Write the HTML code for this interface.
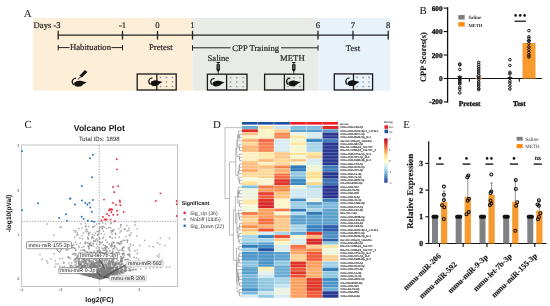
<!DOCTYPE html><html><head><meta charset="utf-8"><style>html,body{margin:0;padding:0;background:#fff;overflow:hidden}svg{display:block;will-change:transform;text-rendering:geometricPrecision}</style></head><body><svg width="550" height="306" viewBox="0 0 550 306"><rect width="550" height="306" fill="#fff"/><rect x="33.3" y="18" width="159.2" height="72.7" fill="#fdeed8" /><rect x="192.5" y="18" width="126.1" height="72.7" fill="#e9ece6" /><rect x="318.6" y="18" width="71.4" height="72.7" fill="#e7f2f9" /><text x="23.8" y="17.4" font-size="10.8" text-anchor="start" font-weight="normal" font-family="Liberation Serif" fill="#111" >A</text><line x1="58.2" y1="35.2" x2="388.4" y2="35.2" stroke="#222" stroke-width="1.3" /><line x1="58.2" y1="30.8" x2="58.2" y2="39.6" stroke="#222" stroke-width="1.3" /><line x1="122.5" y1="30.8" x2="122.5" y2="39.6" stroke="#222" stroke-width="1.3" /><line x1="157.5" y1="30.8" x2="157.5" y2="39.6" stroke="#222" stroke-width="1.3" /><line x1="192.5" y1="30.8" x2="192.5" y2="39.6" stroke="#222" stroke-width="1.3" /><line x1="318" y1="30.8" x2="318" y2="39.6" stroke="#222" stroke-width="1.3" /><line x1="353" y1="30.8" x2="353" y2="39.6" stroke="#222" stroke-width="1.3" /><line x1="388.2" y1="30.8" x2="388.2" y2="39.6" stroke="#222" stroke-width="1.3" /><text x="60.6" y="27.6" font-size="8.6" text-anchor="end" font-weight="normal" font-family="Liberation Serif" fill="#2a2a2a" stroke="#2a2a2a" stroke-width="0.22" >Days -3</text><text x="122.5" y="27.7" font-size="8.6" text-anchor="middle" font-weight="normal" font-family="Liberation Serif" fill="#2a2a2a" stroke="#2a2a2a" stroke-width="0.22" >-1</text><text x="157.5" y="27.7" font-size="8.6" text-anchor="middle" font-weight="normal" font-family="Liberation Serif" fill="#2a2a2a" stroke="#2a2a2a" stroke-width="0.22" >0</text><text x="192.5" y="27.7" font-size="8.6" text-anchor="middle" font-weight="normal" font-family="Liberation Serif" fill="#2a2a2a" stroke="#2a2a2a" stroke-width="0.22" >1</text><text x="318" y="27.7" font-size="8.6" text-anchor="middle" font-weight="normal" font-family="Liberation Serif" fill="#2a2a2a" stroke="#2a2a2a" stroke-width="0.22" >6</text><text x="353" y="27.7" font-size="8.6" text-anchor="middle" font-weight="normal" font-family="Liberation Serif" fill="#2a2a2a" stroke="#2a2a2a" stroke-width="0.22" >7</text><text x="388.2" y="27.7" font-size="8.6" text-anchor="middle" font-weight="normal" font-family="Liberation Serif" fill="#2a2a2a" stroke="#2a2a2a" stroke-width="0.22" >8</text><line x1="58.2" y1="45" x2="58.2" y2="50.4" stroke="#222" stroke-width="1" /><line x1="58.2" y1="47.6" x2="69.5" y2="47.6" stroke="#222" stroke-width="1" /><line x1="111.5" y1="47.6" x2="122.5" y2="47.6" stroke="#222" stroke-width="1" /><line x1="122.5" y1="45" x2="122.5" y2="50.4" stroke="#222" stroke-width="1" /><text x="90.5" y="50.4" font-size="8.7" text-anchor="middle" font-weight="normal" font-family="Liberation Serif" fill="#2a2a2a" stroke="#2a2a2a" stroke-width="0.22" >Habituation</text><text x="160.8" y="50.4" font-size="8.7" text-anchor="middle" font-weight="normal" font-family="Liberation Serif" fill="#2a2a2a" stroke="#2a2a2a" stroke-width="0.22" >Pretest</text><line x1="192.5" y1="47.8" x2="230.5" y2="47.8" stroke="#222" stroke-width="1" /><line x1="281" y1="47.8" x2="318" y2="47.8" stroke="#222" stroke-width="1" /><line x1="192.5" y1="45.2" x2="192.5" y2="50.6" stroke="#222" stroke-width="1" /><line x1="318" y1="45.2" x2="318" y2="50.6" stroke="#222" stroke-width="1" /><text x="255.7" y="50.6" font-size="8.7" text-anchor="middle" font-weight="normal" font-family="Liberation Serif" fill="#2a2a2a" stroke="#2a2a2a" stroke-width="0.22" >CPP Training</text><text x="353" y="50.6" font-size="8.7" text-anchor="middle" font-weight="normal" font-family="Liberation Serif" fill="#2a2a2a" stroke="#2a2a2a" stroke-width="0.22" >Test</text><text x="218.3" y="61.3" font-size="8.7" text-anchor="middle" font-weight="normal" font-family="Liberation Serif" fill="#2a2a2a" stroke="#2a2a2a" stroke-width="0.22" >Saline</text><text x="292.4" y="61.3" font-size="8.7" text-anchor="middle" font-weight="normal" font-family="Liberation Serif" fill="#2a2a2a" stroke="#2a2a2a" stroke-width="0.22" >METH</text><rect x="137.2" y="74.0" width="39.0" height="16.0" fill="#fdeed8" stroke="#1a1a1a" stroke-width="1.3"/><line x1="156.8" y1="74.0" x2="156.8" y2="90.0" stroke="#1a1a1a" stroke-width="1.3" /><circle cx="160.5" cy="77.5" r="0.8" fill="#85859a"/><circle cx="160.5" cy="82.0" r="0.8" fill="#85859a"/><circle cx="160.5" cy="86.5" r="0.8" fill="#85859a"/><circle cx="166.5" cy="77.5" r="0.8" fill="#85859a"/><circle cx="166.5" cy="82.0" r="0.8" fill="#85859a"/><circle cx="166.5" cy="86.5" r="0.8" fill="#85859a"/><circle cx="172.5" cy="77.5" r="0.8" fill="#85859a"/><circle cx="172.5" cy="82.0" r="0.8" fill="#85859a"/><circle cx="172.5" cy="86.5" r="0.8" fill="#85859a"/><g transform="translate(148.6,77.8) scale(1.0)"><path d="M3.9,0.1 C1.6,0.3 0.1,2.0 0.2,3.6 C0.3,5.0 1.0,6.1 1.8,6.5" fill="none" stroke="#111" stroke-width="1.3"/><path d="M2.0,5.2 C2.4,2.7 6.6,2.1 9.4,2.9 L14.0,4.3 L10.8,5.9 C9.8,7.8 6.6,8.6 4.4,8.2 C2.8,7.9 1.8,6.7 2.0,5.2 Z" fill="#111"/></g><rect x="207.4" y="74.2" width="39.599999999999994" height="15.799999999999997" fill="#e9ece6" stroke="#1a1a1a" stroke-width="1.3"/><line x1="226.6" y1="74.2" x2="226.6" y2="90.0" stroke="#1a1a1a" stroke-width="1.3" /><circle cx="230.5" cy="77.7" r="0.8" fill="#85859a"/><circle cx="230.5" cy="82.1" r="0.8" fill="#85859a"/><circle cx="230.5" cy="86.5" r="0.8" fill="#85859a"/><circle cx="236.8" cy="77.7" r="0.8" fill="#85859a"/><circle cx="236.8" cy="82.1" r="0.8" fill="#85859a"/><circle cx="236.8" cy="86.5" r="0.8" fill="#85859a"/><circle cx="243.1" cy="77.7" r="0.8" fill="#85859a"/><circle cx="243.1" cy="82.1" r="0.8" fill="#85859a"/><circle cx="243.1" cy="86.5" r="0.8" fill="#85859a"/><g transform="translate(210.6,78.2) scale(1.0)"><path d="M3.9,0.1 C1.6,0.3 0.1,2.0 0.2,3.6 C0.3,5.0 1.0,6.1 1.8,6.5" fill="none" stroke="#111" stroke-width="1.3"/><path d="M2.0,5.2 C2.4,2.7 6.6,2.1 9.4,2.9 L14.0,4.3 L10.8,5.9 C9.8,7.8 6.6,8.6 4.4,8.2 C2.8,7.9 1.8,6.7 2.0,5.2 Z" fill="#111"/></g><rect x="216.5" y="62.0" width="3.4" height="1.0" fill="#111" /><line x1="218.2" y1="62.8" x2="218.2" y2="64.4" stroke="#111" stroke-width="1.0" /><path d="M216.5,64.2 h3.4 v5.6 l-1.7,2.4 l-1.7,-2.4 z" fill="#111"/><rect x="217.6" y="65.2" width="1.2" height="3.8" fill="#777" /><line x1="218.2" y1="71.8" x2="218.2" y2="74.2" stroke="#111" stroke-width="0.7" /><rect x="264.6" y="74.2" width="39.0" height="15.799999999999997" fill="#e9ece6" stroke="#1a1a1a" stroke-width="1.3"/><line x1="284.4" y1="74.2" x2="284.4" y2="90.0" stroke="#1a1a1a" stroke-width="1.3" /><circle cx="288.0" cy="77.7" r="0.8" fill="#85859a"/><circle cx="288.0" cy="82.1" r="0.8" fill="#85859a"/><circle cx="288.0" cy="86.5" r="0.8" fill="#85859a"/><circle cx="294.0" cy="77.7" r="0.8" fill="#85859a"/><circle cx="294.0" cy="82.1" r="0.8" fill="#85859a"/><circle cx="294.0" cy="86.5" r="0.8" fill="#85859a"/><circle cx="300.0" cy="77.7" r="0.8" fill="#85859a"/><circle cx="300.0" cy="82.1" r="0.8" fill="#85859a"/><circle cx="300.0" cy="86.5" r="0.8" fill="#85859a"/><g transform="translate(286.4,78.0) scale(1.0)"><path d="M3.9,0.1 C1.6,0.3 0.1,2.0 0.2,3.6 C0.3,5.0 1.0,6.1 1.8,6.5" fill="none" stroke="#111" stroke-width="1.3"/><path d="M2.0,5.2 C2.4,2.7 6.6,2.1 9.4,2.9 L14.0,4.3 L10.8,5.9 C9.8,7.8 6.6,8.6 4.4,8.2 C2.8,7.9 1.8,6.7 2.0,5.2 Z" fill="#111"/></g><rect x="292.1" y="62.0" width="3.4" height="1.0" fill="#111" /><line x1="293.8" y1="62.8" x2="293.8" y2="64.4" stroke="#111" stroke-width="1.0" /><path d="M292.1,64.2 h3.4 v5.6 l-1.7,2.4 l-1.7,-2.4 z" fill="#111"/><rect x="293.2" y="65.2" width="1.2" height="3.8" fill="#777" /><line x1="293.8" y1="71.8" x2="293.8" y2="74.2" stroke="#111" stroke-width="0.7" /><rect x="334.3" y="73.9" width="38.30000000000001" height="16.099999999999994" fill="#e7f2f9" stroke="#1a1a1a" stroke-width="1.3"/><line x1="353.5" y1="73.9" x2="353.5" y2="90.0" stroke="#1a1a1a" stroke-width="1.3" /><circle cx="357.1" cy="77.4" r="0.8" fill="#85859a"/><circle cx="357.1" cy="82.0" r="0.8" fill="#85859a"/><circle cx="357.1" cy="86.5" r="0.8" fill="#85859a"/><circle cx="363.1" cy="77.4" r="0.8" fill="#85859a"/><circle cx="363.1" cy="82.0" r="0.8" fill="#85859a"/><circle cx="363.1" cy="86.5" r="0.8" fill="#85859a"/><circle cx="369.0" cy="77.4" r="0.8" fill="#85859a"/><circle cx="369.0" cy="82.0" r="0.8" fill="#85859a"/><circle cx="369.0" cy="86.5" r="0.8" fill="#85859a"/><g transform="translate(345.6,77.8) scale(1.0)"><path d="M3.9,0.1 C1.6,0.3 0.1,2.0 0.2,3.6 C0.3,5.0 1.0,6.1 1.8,6.5" fill="none" stroke="#111" stroke-width="1.3"/><path d="M2.0,5.2 C2.4,2.7 6.6,2.1 9.4,2.9 L14.0,4.3 L10.8,5.9 C9.8,7.8 6.6,8.6 4.4,8.2 C2.8,7.9 1.8,6.7 2.0,5.2 Z" fill="#111"/></g><path d="M85.0,70.0 L87.4,72.0 L81.8,77.6 L79.4,75.8 Z" fill="#111"/><line x1="80.6" y1="76.8" x2="78.0" y2="79.6" stroke="#111" stroke-width="1.0" /><g transform="translate(72.0,78.0) scale(1.05)"><path d="M3.9,0.1 C1.6,0.3 0.1,2.0 0.2,3.6 C0.3,5.0 1.0,6.1 1.8,6.5" fill="none" stroke="#111" stroke-width="1.3"/><path d="M2.0,5.2 C2.4,2.7 6.6,2.1 9.4,2.9 L14.0,4.3 L10.8,5.9 C9.8,7.8 6.6,8.6 4.4,8.2 C2.8,7.9 1.8,6.7 2.0,5.2 Z" fill="#111"/></g><text x="419.5" y="13.6" font-size="10.8" text-anchor="start" font-weight="normal" font-family="Liberation Serif" fill="#111" >B</text><line x1="447.6" y1="7.2" x2="447.6" y2="102.7" stroke="#111" stroke-width="1.3" /><line x1="443.7" y1="8.090000000000003" x2="447.6" y2="8.090000000000003" stroke="#111" stroke-width="1.1" /><text x="442.6" y="10.590000000000003" font-size="7.3" text-anchor="end" font-weight="bold" font-family="Liberation Serif" fill="#111" stroke="#111" stroke-width="0.32" >600</text><line x1="443.7" y1="31.560000000000002" x2="447.6" y2="31.560000000000002" stroke="#111" stroke-width="1.1" /><text x="442.6" y="34.06" font-size="7.3" text-anchor="end" font-weight="bold" font-family="Liberation Serif" fill="#111" stroke="#111" stroke-width="0.32" >400</text><line x1="443.7" y1="55.03" x2="447.6" y2="55.03" stroke="#111" stroke-width="1.1" /><text x="442.6" y="57.53" font-size="7.3" text-anchor="end" font-weight="bold" font-family="Liberation Serif" fill="#111" stroke="#111" stroke-width="0.32" >200</text><line x1="443.7" y1="78.5" x2="447.6" y2="78.5" stroke="#111" stroke-width="1.1" /><text x="442.6" y="81.0" font-size="7.3" text-anchor="end" font-weight="bold" font-family="Liberation Serif" fill="#111" stroke="#111" stroke-width="0.32" >0</text><line x1="443.7" y1="101.97" x2="447.6" y2="101.97" stroke="#111" stroke-width="1.1" /><text x="442.6" y="104.47" font-size="7.3" text-anchor="end" font-weight="bold" font-family="Liberation Serif" fill="#111" stroke="#111" stroke-width="0.32" >-200</text><line x1="447.6" y1="78.5" x2="541.8" y2="78.5" stroke="#111" stroke-width="1.2" /><line x1="469.4" y1="78.5" x2="469.4" y2="81.8" stroke="#111" stroke-width="1.1" /><line x1="519.3" y1="78.5" x2="519.3" y2="81.8" stroke="#111" stroke-width="1.1" /><text x="469.6" y="105.5" font-size="7.3" text-anchor="middle" font-weight="bold" font-family="Liberation Serif" fill="#111" stroke="#111" stroke-width="0.32" >Pretest</text><text x="519.3" y="105.5" font-size="7.3" text-anchor="middle" font-weight="bold" font-family="Liberation Serif" fill="#111" stroke="#111" stroke-width="0.32" >Test</text><text transform="translate(426.3,57.1) rotate(-90)" font-size="8.35" text-anchor="middle" font-weight="bold" font-family="Liberation Serif" fill="#111" stroke="#111" stroke-width="0.1">CPP Scores(s)</text><rect x="458.3" y="15.1" width="6.4" height="4.4" fill="#7c7c7c" /><rect x="458.3" y="22.1" width="6.4" height="4.5" fill="#fd8c10" /><text x="468.4" y="19.2" font-size="4.9" text-anchor="start" font-weight="bold" font-family="Liberation Serif" fill="#333" >Saline</text><text x="468.4" y="26.5" font-size="4.6" text-anchor="start" font-weight="bold" font-family="Liberation Serif" fill="#333" >METH</text><circle cx="515.6" cy="15.4" r="1.3" fill="#111"/><circle cx="520.2" cy="15.4" r="1.3" fill="#111"/><circle cx="524.6" cy="15.4" r="1.3" fill="#111"/><line x1="514.5" y1="21.2" x2="525.9" y2="21.2" stroke="#111" stroke-width="1.25" /><rect x="522.5" y="43.0" width="13" height="35.5" fill="#f99a2f" /><rect x="475.5" y="77.9" width="6.5" height="1.0" fill="#e07820" /><line x1="457.40000000000003" y1="76.7" x2="462.2" y2="76.7" stroke="#111" stroke-width="0.8" /><line x1="459.8" y1="76.7" x2="459.8" y2="78.5" stroke="#111" stroke-width="0.8" /><line x1="476.3" y1="76.2" x2="481.09999999999997" y2="76.2" stroke="#111" stroke-width="0.8" /><line x1="478.7" y1="76.2" x2="478.7" y2="78.5" stroke="#111" stroke-width="0.8" /><line x1="507.5" y1="77.6" x2="512.3" y2="77.6" stroke="#111" stroke-width="0.8" /><line x1="509.9" y1="77.6" x2="509.9" y2="78.5" stroke="#111" stroke-width="0.8" /><circle cx="459.8" cy="64.0" r="1.28" fill="none" stroke="#111" stroke-width="1.0"/><circle cx="459.8" cy="64.9" r="1.28" fill="none" stroke="#111" stroke-width="1.0"/><circle cx="459.8" cy="69.4" r="1.28" fill="none" stroke="#111" stroke-width="1.0"/><circle cx="459.8" cy="77.2" r="1.28" fill="none" stroke="#111" stroke-width="1.0"/><circle cx="459.8" cy="78.6" r="1.28" fill="none" stroke="#111" stroke-width="1.0"/><circle cx="459.8" cy="80.0" r="1.28" fill="none" stroke="#111" stroke-width="1.0"/><circle cx="459.8" cy="81.4" r="1.28" fill="none" stroke="#111" stroke-width="1.0"/><circle cx="459.8" cy="82.8" r="1.28" fill="none" stroke="#111" stroke-width="1.0"/><circle cx="459.8" cy="84.0" r="1.28" fill="none" stroke="#111" stroke-width="1.0"/><circle cx="459.8" cy="87.4" r="1.28" fill="none" stroke="#111" stroke-width="1.0"/><circle cx="459.8" cy="89.3" r="1.28" fill="none" stroke="#111" stroke-width="1.0"/><circle cx="459.8" cy="92.9" r="1.28" fill="none" stroke="#111" stroke-width="1.0"/><circle cx="478.7" cy="62.4" r="1.28" fill="none" stroke="#111" stroke-width="1.0"/><circle cx="478.7" cy="64.5" r="1.28" fill="none" stroke="#111" stroke-width="1.0"/><circle cx="478.7" cy="66.8" r="1.28" fill="none" stroke="#111" stroke-width="1.0"/><circle cx="478.7" cy="68.9" r="1.28" fill="none" stroke="#111" stroke-width="1.0"/><circle cx="478.7" cy="71.0" r="1.28" fill="none" stroke="#111" stroke-width="1.0"/><circle cx="478.7" cy="73.0" r="1.28" fill="none" stroke="#111" stroke-width="1.0"/><circle cx="478.7" cy="75.4" r="1.28" fill="none" stroke="#111" stroke-width="1.0"/><circle cx="478.7" cy="77.9" r="1.28" fill="none" stroke="#111" stroke-width="1.0"/><circle cx="478.7" cy="79.5" r="1.28" fill="none" stroke="#111" stroke-width="1.0"/><circle cx="478.7" cy="82.0" r="1.28" fill="none" stroke="#111" stroke-width="1.0"/><circle cx="478.7" cy="84.1" r="1.28" fill="none" stroke="#111" stroke-width="1.0"/><circle cx="478.7" cy="86.0" r="1.28" fill="none" stroke="#111" stroke-width="1.0"/><circle cx="478.7" cy="88.5" r="1.28" fill="none" stroke="#111" stroke-width="1.0"/><circle cx="478.7" cy="89.6" r="1.28" fill="none" stroke="#111" stroke-width="1.0"/><circle cx="509.9" cy="59.7" r="1.28" fill="none" stroke="#111" stroke-width="1.0"/><circle cx="509.9" cy="65.5" r="1.28" fill="none" stroke="#111" stroke-width="1.0"/><circle cx="509.9" cy="72.3" r="1.28" fill="none" stroke="#111" stroke-width="1.0"/><circle cx="509.9" cy="73.9" r="1.28" fill="none" stroke="#111" stroke-width="1.0"/><circle cx="509.9" cy="78.0" r="1.28" fill="none" stroke="#111" stroke-width="1.0"/><circle cx="509.9" cy="80.8" r="1.28" fill="none" stroke="#111" stroke-width="1.0"/><circle cx="509.9" cy="83.1" r="1.28" fill="none" stroke="#111" stroke-width="1.0"/><circle cx="509.9" cy="86.1" r="1.28" fill="none" stroke="#111" stroke-width="1.0"/><circle cx="509.9" cy="89.0" r="1.28" fill="none" stroke="#111" stroke-width="1.0"/><line x1="526.6" y1="40.6" x2="531.2" y2="40.6" stroke="#111" stroke-width="0.8" /><line x1="528.9" y1="40.6" x2="528.9" y2="43" stroke="#111" stroke-width="0.8" /><circle cx="528.9" cy="30.6" r="1.28" fill="none" stroke="#111" stroke-width="1.0"/><circle cx="528.9" cy="36.8" r="1.28" fill="none" stroke="#111" stroke-width="1.0"/><circle cx="528.9" cy="38.6" r="1.28" fill="none" stroke="#111" stroke-width="1.0"/><circle cx="528.9" cy="41.0" r="1.28" fill="none" stroke="#111" stroke-width="1.0"/><circle cx="528.9" cy="43.5" r="1.28" fill="none" stroke="#111" stroke-width="1.0"/><circle cx="528.9" cy="47.0" r="1.28" fill="none" stroke="#111" stroke-width="1.0"/><circle cx="528.9" cy="49.6" r="1.28" fill="none" stroke="#111" stroke-width="1.0"/><circle cx="528.9" cy="52.4" r="1.28" fill="none" stroke="#111" stroke-width="1.0"/><circle cx="528.9" cy="55.0" r="1.28" fill="none" stroke="#111" stroke-width="1.0"/><circle cx="528.9" cy="57.0" r="1.28" fill="none" stroke="#111" stroke-width="1.0"/><text x="24.5" y="127.9" font-size="10.8" text-anchor="start" font-weight="normal" font-family="Liberation Serif" fill="#111" >C</text><text x="99.3" y="131.2" font-size="8.5" text-anchor="middle" font-weight="bold" font-family="Liberation Sans" fill="#111" >Volcano Plot</text><text x="99.4" y="140.9" font-size="6.1" text-anchor="middle" font-weight="normal" font-family="Liberation Sans" fill="#222" >Total IDs: 1898</text><rect x="21.4" y="145.0" width="156.1" height="141.5" fill="#fff" stroke="#c4c4c4" stroke-width="1"/><text x="18.2" y="280.4" font-size="3.8" text-anchor="middle" font-weight="normal" font-family="Liberation Sans" fill="#444" >0</text><text x="18.2" y="236.0" font-size="3.8" text-anchor="middle" font-weight="normal" font-family="Liberation Sans" fill="#444" >1</text><text x="18.2" y="191.6" font-size="3.8" text-anchor="middle" font-weight="normal" font-family="Liberation Sans" fill="#444" >2</text><text x="18.2" y="147.20000000000002" font-size="3.8" text-anchor="middle" font-weight="normal" font-family="Liberation Sans" fill="#444" >3</text><text x="21.599999999999994" y="291.3" font-size="3.8" text-anchor="middle" font-weight="normal" font-family="Liberation Sans" fill="#444" >-4</text><text x="60.8" y="291.3" font-size="3.8" text-anchor="middle" font-weight="normal" font-family="Liberation Sans" fill="#444" >-2</text><text x="100.0" y="291.3" font-size="3.8" text-anchor="middle" font-weight="normal" font-family="Liberation Sans" fill="#444" >0</text><text x="139.2" y="291.3" font-size="3.8" text-anchor="middle" font-weight="normal" font-family="Liberation Sans" fill="#444" >2</text><text x="99.5" y="301.8" font-size="7.0" text-anchor="middle" font-weight="bold" font-family="Liberation Sans" fill="#111" >log2(FC)</text><text transform="translate(11.2,213.5) rotate(-90)" font-size="6.6" text-anchor="middle" font-weight="bold" font-family="Liberation Sans" fill="#111">-log10(pVal)</text><g fill="#7a7a7a" fill-opacity="0.62"><rect x="82.5" y="268.6" width="1.5" height="1.5"/><rect x="104.4" y="275.6" width="1.5" height="1.5"/><rect x="108.6" y="261.0" width="1.5" height="1.5"/><rect x="79.6" y="242.4" width="1.5" height="1.5"/><rect x="103.8" y="261.5" width="1.5" height="1.5"/><rect x="108.7" y="271.6" width="1.5" height="1.5"/><rect x="79.8" y="263.4" width="1.5" height="1.5"/><rect x="96.9" y="240.2" width="1.5" height="1.5"/><rect x="110.8" y="273.3" width="1.5" height="1.5"/><rect x="102.1" y="265.8" width="1.5" height="1.5"/><rect x="108.4" y="243.3" width="1.5" height="1.5"/><rect x="79.4" y="251.6" width="1.5" height="1.5"/><rect x="136.6" y="252.5" width="1.5" height="1.5"/><rect x="103.1" y="276.0" width="1.5" height="1.5"/><rect x="102.1" y="276.2" width="1.5" height="1.5"/><rect x="128.2" y="265.1" width="1.5" height="1.5"/><rect x="94.7" y="274.7" width="1.5" height="1.5"/><rect x="135.5" y="263.1" width="1.5" height="1.5"/><rect x="95.3" y="275.7" width="1.5" height="1.5"/><rect x="94.3" y="274.4" width="1.5" height="1.5"/><rect x="104.6" y="275.0" width="1.5" height="1.5"/><rect x="101.9" y="273.8" width="1.5" height="1.5"/><rect x="81.4" y="272.0" width="1.5" height="1.5"/><rect x="101.1" y="267.4" width="1.5" height="1.5"/><rect x="107.6" y="274.6" width="1.5" height="1.5"/><rect x="120.2" y="264.3" width="1.5" height="1.5"/><rect x="102.3" y="275.8" width="1.5" height="1.5"/><rect x="101.6" y="266.9" width="1.5" height="1.5"/><rect x="97.0" y="277.2" width="1.5" height="1.5"/><rect x="107.5" y="262.4" width="1.5" height="1.5"/><rect x="93.5" y="276.7" width="1.5" height="1.5"/><rect x="129.3" y="270.1" width="1.5" height="1.5"/><rect x="125.5" y="267.0" width="1.5" height="1.5"/><rect x="119.2" y="265.1" width="1.5" height="1.5"/><rect x="159.1" y="243.6" width="1.5" height="1.5"/><rect x="78.6" y="260.8" width="1.5" height="1.5"/><rect x="87.4" y="274.7" width="1.5" height="1.5"/><rect x="96.8" y="270.1" width="1.5" height="1.5"/><rect x="69.9" y="266.2" width="1.5" height="1.5"/><rect x="121.8" y="257.4" width="1.5" height="1.5"/><rect x="83.0" y="265.7" width="1.5" height="1.5"/><rect x="80.6" y="264.3" width="1.5" height="1.5"/><rect x="115.4" y="262.8" width="1.5" height="1.5"/><rect x="99.3" y="237.9" width="1.5" height="1.5"/><rect x="95.9" y="275.7" width="1.5" height="1.5"/><rect x="99.6" y="250.3" width="1.5" height="1.5"/><rect x="95.2" y="261.9" width="1.5" height="1.5"/><rect x="90.9" y="260.1" width="1.5" height="1.5"/><rect x="94.6" y="266.3" width="1.5" height="1.5"/><rect x="91.4" y="272.8" width="1.5" height="1.5"/><rect x="96.2" y="266.1" width="1.5" height="1.5"/><rect x="106.0" y="255.7" width="1.5" height="1.5"/><rect x="106.6" y="274.7" width="1.5" height="1.5"/><rect x="112.4" y="269.5" width="1.5" height="1.5"/><rect x="59.2" y="226.7" width="1.5" height="1.5"/><rect x="120.1" y="269.6" width="1.5" height="1.5"/><rect x="119.1" y="273.1" width="1.5" height="1.5"/><rect x="86.8" y="236.7" width="1.5" height="1.5"/><rect x="88.4" y="262.9" width="1.5" height="1.5"/><rect x="89.1" y="243.2" width="1.5" height="1.5"/><rect x="97.3" y="275.2" width="1.5" height="1.5"/><rect x="90.8" y="269.2" width="1.5" height="1.5"/><rect x="80.2" y="272.7" width="1.5" height="1.5"/><rect x="114.3" y="273.3" width="1.5" height="1.5"/><rect x="78.0" y="265.0" width="1.5" height="1.5"/><rect x="77.9" y="245.4" width="1.5" height="1.5"/><rect x="93.9" y="265.4" width="1.5" height="1.5"/><rect x="91.7" y="274.7" width="1.5" height="1.5"/><rect x="136.7" y="249.5" width="1.5" height="1.5"/><rect x="94.6" y="264.3" width="1.5" height="1.5"/><rect x="112.1" y="263.3" width="1.5" height="1.5"/><rect x="102.9" y="267.0" width="1.5" height="1.5"/><rect x="94.6" y="266.9" width="1.5" height="1.5"/><rect x="109.1" y="262.0" width="1.5" height="1.5"/><rect x="112.6" y="269.4" width="1.5" height="1.5"/><rect x="107.6" y="273.7" width="1.5" height="1.5"/><rect x="104.2" y="272.1" width="1.5" height="1.5"/><rect x="88.2" y="261.1" width="1.5" height="1.5"/><rect x="94.9" y="264.7" width="1.5" height="1.5"/><rect x="81.6" y="267.0" width="1.5" height="1.5"/><rect x="96.5" y="277.4" width="1.5" height="1.5"/><rect x="85.4" y="268.0" width="1.5" height="1.5"/><rect x="97.9" y="277.5" width="1.5" height="1.5"/><rect x="69.8" y="267.5" width="1.5" height="1.5"/><rect x="53.1" y="234.6" width="1.5" height="1.5"/><rect x="109.5" y="274.1" width="1.5" height="1.5"/><rect x="105.7" y="276.5" width="1.5" height="1.5"/><rect x="96.0" y="270.1" width="1.5" height="1.5"/><rect x="129.4" y="256.2" width="1.5" height="1.5"/><rect x="88.9" y="269.9" width="1.5" height="1.5"/><rect x="98.6" y="274.9" width="1.5" height="1.5"/><rect x="104.2" y="270.2" width="1.5" height="1.5"/><rect x="107.1" y="269.5" width="1.5" height="1.5"/><rect x="101.7" y="263.2" width="1.5" height="1.5"/><rect x="121.7" y="247.7" width="1.5" height="1.5"/><rect x="98.7" y="276.5" width="1.5" height="1.5"/><rect x="98.9" y="275.0" width="1.5" height="1.5"/><rect x="65.1" y="269.5" width="1.5" height="1.5"/><rect x="111.2" y="256.2" width="1.5" height="1.5"/><rect x="111.4" y="269.7" width="1.5" height="1.5"/><rect x="119.8" y="241.5" width="1.5" height="1.5"/><rect x="103.3" y="276.2" width="1.5" height="1.5"/><rect x="129.8" y="260.2" width="1.5" height="1.5"/><rect x="113.8" y="271.3" width="1.5" height="1.5"/><rect x="94.7" y="273.4" width="1.5" height="1.5"/><rect x="120.5" y="271.1" width="1.5" height="1.5"/><rect x="101.0" y="274.6" width="1.5" height="1.5"/><rect x="127.6" y="247.1" width="1.5" height="1.5"/><rect x="91.6" y="272.6" width="1.5" height="1.5"/><rect x="73.1" y="229.6" width="1.5" height="1.5"/><rect x="97.7" y="268.8" width="1.5" height="1.5"/><rect x="129.4" y="245.6" width="1.5" height="1.5"/><rect x="91.3" y="272.5" width="1.5" height="1.5"/><rect x="82.4" y="274.0" width="1.5" height="1.5"/><rect x="112.2" y="267.1" width="1.5" height="1.5"/><rect x="118.4" y="263.6" width="1.5" height="1.5"/><rect x="92.3" y="273.1" width="1.5" height="1.5"/><rect x="79.1" y="237.3" width="1.5" height="1.5"/><rect x="98.5" y="277.8" width="1.5" height="1.5"/><rect x="88.7" y="274.8" width="1.5" height="1.5"/><rect x="113.6" y="246.3" width="1.5" height="1.5"/><rect x="89.6" y="268.2" width="1.5" height="1.5"/><rect x="115.7" y="273.8" width="1.5" height="1.5"/><rect x="107.8" y="271.5" width="1.5" height="1.5"/><rect x="100.3" y="260.7" width="1.5" height="1.5"/><rect x="81.0" y="270.7" width="1.5" height="1.5"/><rect x="96.2" y="275.4" width="1.5" height="1.5"/><rect x="98.6" y="277.8" width="1.5" height="1.5"/><rect x="101.5" y="274.7" width="1.5" height="1.5"/><rect x="93.9" y="225.3" width="1.5" height="1.5"/><rect x="85.1" y="272.4" width="1.5" height="1.5"/><rect x="106.0" y="267.7" width="1.5" height="1.5"/><rect x="124.3" y="270.8" width="1.5" height="1.5"/><rect x="90.8" y="244.4" width="1.5" height="1.5"/><rect x="98.0" y="274.3" width="1.5" height="1.5"/><rect x="86.8" y="269.1" width="1.5" height="1.5"/><rect x="92.2" y="267.2" width="1.5" height="1.5"/><rect x="121.1" y="263.3" width="1.5" height="1.5"/><rect x="118.3" y="263.0" width="1.5" height="1.5"/><rect x="83.0" y="272.4" width="1.5" height="1.5"/><rect x="88.7" y="256.7" width="1.5" height="1.5"/><rect x="104.0" y="273.4" width="1.5" height="1.5"/><rect x="89.0" y="275.0" width="1.5" height="1.5"/><rect x="97.9" y="271.9" width="1.5" height="1.5"/><rect x="89.9" y="265.8" width="1.5" height="1.5"/><rect x="135.7" y="257.2" width="1.5" height="1.5"/><rect x="116.3" y="269.1" width="1.5" height="1.5"/><rect x="104.1" y="247.0" width="1.5" height="1.5"/><rect x="87.0" y="264.3" width="1.5" height="1.5"/><rect x="117.9" y="242.7" width="1.5" height="1.5"/><rect x="108.1" y="273.5" width="1.5" height="1.5"/><rect x="107.7" y="275.5" width="1.5" height="1.5"/><rect x="103.6" y="269.4" width="1.5" height="1.5"/><rect x="111.5" y="233.4" width="1.5" height="1.5"/><rect x="71.4" y="245.1" width="1.5" height="1.5"/><rect x="86.3" y="272.1" width="1.5" height="1.5"/><rect x="73.4" y="268.8" width="1.5" height="1.5"/><rect x="118.2" y="269.4" width="1.5" height="1.5"/><rect x="92.4" y="265.4" width="1.5" height="1.5"/><rect x="105.1" y="271.2" width="1.5" height="1.5"/><rect x="100.8" y="277.7" width="1.5" height="1.5"/><rect x="71.0" y="262.2" width="1.5" height="1.5"/><rect x="58.9" y="258.0" width="1.5" height="1.5"/><rect x="102.7" y="236.5" width="1.5" height="1.5"/><rect x="113.3" y="272.4" width="1.5" height="1.5"/><rect x="117.1" y="267.2" width="1.5" height="1.5"/><rect x="89.4" y="267.4" width="1.5" height="1.5"/><rect x="106.9" y="267.2" width="1.5" height="1.5"/><rect x="111.4" y="266.5" width="1.5" height="1.5"/><rect x="92.1" y="263.8" width="1.5" height="1.5"/><rect x="118.2" y="262.2" width="1.5" height="1.5"/><rect x="94.1" y="273.3" width="1.5" height="1.5"/><rect x="96.9" y="276.5" width="1.5" height="1.5"/><rect x="57.2" y="263.2" width="1.5" height="1.5"/><rect x="107.8" y="268.5" width="1.5" height="1.5"/><rect x="101.4" y="272.3" width="1.5" height="1.5"/><rect x="112.8" y="272.9" width="1.5" height="1.5"/><rect x="104.8" y="270.8" width="1.5" height="1.5"/><rect x="103.7" y="267.9" width="1.5" height="1.5"/><rect x="109.5" y="262.8" width="1.5" height="1.5"/><rect x="97.4" y="275.2" width="1.5" height="1.5"/><rect x="127.9" y="264.0" width="1.5" height="1.5"/><rect x="130.9" y="264.8" width="1.5" height="1.5"/><rect x="109.5" y="273.3" width="1.5" height="1.5"/><rect x="82.4" y="268.4" width="1.5" height="1.5"/><rect x="105.5" y="275.5" width="1.5" height="1.5"/><rect x="78.5" y="270.2" width="1.5" height="1.5"/><rect x="79.8" y="270.6" width="1.5" height="1.5"/><rect x="113.2" y="228.8" width="1.5" height="1.5"/><rect x="93.8" y="276.2" width="1.5" height="1.5"/><rect x="120.9" y="243.0" width="1.5" height="1.5"/><rect x="106.5" y="272.6" width="1.5" height="1.5"/><rect x="107.9" y="270.4" width="1.5" height="1.5"/><rect x="90.9" y="263.3" width="1.5" height="1.5"/><rect x="97.2" y="273.9" width="1.5" height="1.5"/><rect x="84.7" y="222.8" width="1.5" height="1.5"/><rect x="80.5" y="252.9" width="1.5" height="1.5"/><rect x="129.1" y="254.2" width="1.5" height="1.5"/><rect x="98.0" y="275.9" width="1.5" height="1.5"/><rect x="88.1" y="271.6" width="1.5" height="1.5"/><rect x="96.4" y="276.1" width="1.5" height="1.5"/><rect x="83.4" y="263.3" width="1.5" height="1.5"/><rect x="128.3" y="270.0" width="1.5" height="1.5"/><rect x="116.4" y="272.2" width="1.5" height="1.5"/><rect x="100.7" y="257.6" width="1.5" height="1.5"/><rect x="107.2" y="275.7" width="1.5" height="1.5"/><rect x="84.5" y="262.4" width="1.5" height="1.5"/><rect x="106.5" y="273.6" width="1.5" height="1.5"/><rect x="113.1" y="241.8" width="1.5" height="1.5"/><rect x="91.8" y="235.8" width="1.5" height="1.5"/><rect x="75.7" y="257.0" width="1.5" height="1.5"/><rect x="110.6" y="274.1" width="1.5" height="1.5"/><rect x="113.4" y="269.0" width="1.5" height="1.5"/><rect x="89.3" y="243.2" width="1.5" height="1.5"/><rect x="93.6" y="257.2" width="1.5" height="1.5"/><rect x="73.8" y="271.0" width="1.5" height="1.5"/><rect x="80.4" y="249.5" width="1.5" height="1.5"/><rect x="89.4" y="274.8" width="1.5" height="1.5"/><rect x="118.8" y="265.8" width="1.5" height="1.5"/><rect x="121.6" y="249.3" width="1.5" height="1.5"/><rect x="65.3" y="249.3" width="1.5" height="1.5"/><rect x="107.4" y="263.4" width="1.5" height="1.5"/><rect x="120.1" y="223.9" width="1.5" height="1.5"/><rect x="135.8" y="264.6" width="1.5" height="1.5"/><rect x="83.0" y="254.5" width="1.5" height="1.5"/><rect x="91.8" y="270.4" width="1.5" height="1.5"/><rect x="100.8" y="276.0" width="1.5" height="1.5"/><rect x="133.4" y="256.6" width="1.5" height="1.5"/><rect x="117.2" y="269.0" width="1.5" height="1.5"/><rect x="94.6" y="267.7" width="1.5" height="1.5"/><rect x="55.1" y="241.0" width="1.5" height="1.5"/><rect x="103.2" y="271.9" width="1.5" height="1.5"/><rect x="82.7" y="253.7" width="1.5" height="1.5"/><rect x="90.2" y="266.3" width="1.5" height="1.5"/><rect x="70.1" y="267.0" width="1.5" height="1.5"/><rect x="105.7" y="271.8" width="1.5" height="1.5"/><rect x="87.9" y="273.3" width="1.5" height="1.5"/><rect x="136.1" y="235.2" width="1.5" height="1.5"/><rect x="80.3" y="268.6" width="1.5" height="1.5"/><rect x="126.4" y="230.0" width="1.5" height="1.5"/><rect x="111.4" y="275.2" width="1.5" height="1.5"/><rect x="123.5" y="246.3" width="1.5" height="1.5"/><rect x="134.2" y="250.0" width="1.5" height="1.5"/><rect x="105.0" y="258.4" width="1.5" height="1.5"/><rect x="90.1" y="257.0" width="1.5" height="1.5"/><rect x="100.8" y="266.8" width="1.5" height="1.5"/><rect x="90.9" y="237.2" width="1.5" height="1.5"/><rect x="100.7" y="276.6" width="1.5" height="1.5"/><rect x="105.4" y="274.1" width="1.5" height="1.5"/><rect x="101.3" y="270.1" width="1.5" height="1.5"/><rect x="88.5" y="274.9" width="1.5" height="1.5"/><rect x="68.8" y="256.8" width="1.5" height="1.5"/><rect x="103.5" y="267.0" width="1.5" height="1.5"/><rect x="108.4" y="260.0" width="1.5" height="1.5"/><rect x="100.8" y="271.2" width="1.5" height="1.5"/><rect x="110.8" y="274.6" width="1.5" height="1.5"/><rect x="83.6" y="274.0" width="1.5" height="1.5"/><rect x="105.4" y="274.7" width="1.5" height="1.5"/><rect x="108.8" y="273.8" width="1.5" height="1.5"/><rect x="105.1" y="275.4" width="1.5" height="1.5"/><rect x="102.8" y="268.5" width="1.5" height="1.5"/><rect x="99.0" y="274.1" width="1.5" height="1.5"/><rect x="80.7" y="263.9" width="1.5" height="1.5"/><rect x="92.4" y="271.6" width="1.5" height="1.5"/><rect x="92.6" y="275.3" width="1.5" height="1.5"/><rect x="84.0" y="266.5" width="1.5" height="1.5"/><rect x="77.3" y="257.6" width="1.5" height="1.5"/><rect x="107.9" y="274.3" width="1.5" height="1.5"/><rect x="95.6" y="269.3" width="1.5" height="1.5"/><rect x="99.3" y="277.1" width="1.5" height="1.5"/><rect x="115.2" y="269.3" width="1.5" height="1.5"/><rect x="101.0" y="277.3" width="1.5" height="1.5"/><rect x="83.7" y="272.0" width="1.5" height="1.5"/><rect x="92.0" y="276.1" width="1.5" height="1.5"/><rect x="85.2" y="228.8" width="1.5" height="1.5"/><rect x="104.2" y="269.2" width="1.5" height="1.5"/><rect x="108.5" y="275.5" width="1.5" height="1.5"/><rect x="92.9" y="276.4" width="1.5" height="1.5"/><rect x="106.5" y="246.3" width="1.5" height="1.5"/><rect x="111.8" y="272.9" width="1.5" height="1.5"/><rect x="112.2" y="261.3" width="1.5" height="1.5"/><rect x="122.5" y="269.9" width="1.5" height="1.5"/><rect x="98.7" y="276.5" width="1.5" height="1.5"/><rect x="111.1" y="244.0" width="1.5" height="1.5"/><rect x="66.6" y="269.4" width="1.5" height="1.5"/><rect x="110.6" y="259.9" width="1.5" height="1.5"/><rect x="110.8" y="260.9" width="1.5" height="1.5"/><rect x="89.2" y="273.9" width="1.5" height="1.5"/><rect x="106.3" y="274.9" width="1.5" height="1.5"/><rect x="115.1" y="271.1" width="1.5" height="1.5"/><rect x="119.9" y="270.9" width="1.5" height="1.5"/><rect x="84.5" y="255.2" width="1.5" height="1.5"/><rect x="98.2" y="270.5" width="1.5" height="1.5"/><rect x="112.9" y="273.5" width="1.5" height="1.5"/><rect x="121.1" y="249.4" width="1.5" height="1.5"/><rect x="95.0" y="274.6" width="1.5" height="1.5"/><rect x="103.0" y="276.9" width="1.5" height="1.5"/><rect x="104.0" y="249.8" width="1.5" height="1.5"/><rect x="115.0" y="263.8" width="1.5" height="1.5"/><rect x="59.1" y="265.3" width="1.5" height="1.5"/><rect x="96.0" y="264.7" width="1.5" height="1.5"/><rect x="85.6" y="271.4" width="1.5" height="1.5"/><rect x="102.2" y="272.3" width="1.5" height="1.5"/><rect x="100.0" y="276.0" width="1.5" height="1.5"/><rect x="107.6" y="268.2" width="1.5" height="1.5"/><rect x="94.6" y="275.3" width="1.5" height="1.5"/><rect x="111.5" y="274.7" width="1.5" height="1.5"/><rect x="107.0" y="271.4" width="1.5" height="1.5"/><rect x="106.8" y="275.1" width="1.5" height="1.5"/><rect x="110.9" y="274.6" width="1.5" height="1.5"/><rect x="92.3" y="268.1" width="1.5" height="1.5"/><rect x="102.9" y="277.2" width="1.5" height="1.5"/><rect x="96.0" y="277.1" width="1.5" height="1.5"/><rect x="103.0" y="273.3" width="1.5" height="1.5"/><rect x="99.2" y="265.4" width="1.5" height="1.5"/><rect x="102.2" y="270.6" width="1.5" height="1.5"/><rect x="80.6" y="269.5" width="1.5" height="1.5"/><rect x="102.9" y="267.9" width="1.5" height="1.5"/><rect x="89.0" y="273.2" width="1.5" height="1.5"/><rect x="89.5" y="272.2" width="1.5" height="1.5"/><rect x="106.5" y="273.9" width="1.5" height="1.5"/><rect x="101.0" y="276.8" width="1.5" height="1.5"/><rect x="102.0" y="277.5" width="1.5" height="1.5"/><rect x="119.8" y="270.6" width="1.5" height="1.5"/><rect x="89.1" y="269.5" width="1.5" height="1.5"/><rect x="85.2" y="271.4" width="1.5" height="1.5"/><rect x="108.2" y="267.3" width="1.5" height="1.5"/><rect x="91.5" y="263.9" width="1.5" height="1.5"/><rect x="87.7" y="271.8" width="1.5" height="1.5"/><rect x="88.2" y="269.6" width="1.5" height="1.5"/><rect x="99.3" y="274.1" width="1.5" height="1.5"/><rect x="102.5" y="244.1" width="1.5" height="1.5"/><rect x="101.4" y="265.3" width="1.5" height="1.5"/><rect x="98.5" y="268.6" width="1.5" height="1.5"/><rect x="115.6" y="271.7" width="1.5" height="1.5"/><rect x="93.5" y="264.3" width="1.5" height="1.5"/><rect x="110.2" y="271.3" width="1.5" height="1.5"/><rect x="80.7" y="272.4" width="1.5" height="1.5"/><rect x="81.2" y="271.4" width="1.5" height="1.5"/><rect x="117.4" y="242.1" width="1.5" height="1.5"/><rect x="100.8" y="274.6" width="1.5" height="1.5"/><rect x="73.8" y="271.4" width="1.5" height="1.5"/><rect x="121.0" y="260.2" width="1.5" height="1.5"/><rect x="96.2" y="272.5" width="1.5" height="1.5"/><rect x="102.0" y="275.2" width="1.5" height="1.5"/><rect x="105.2" y="270.2" width="1.5" height="1.5"/><rect x="89.7" y="272.2" width="1.5" height="1.5"/><rect x="110.8" y="242.5" width="1.5" height="1.5"/><rect x="96.8" y="272.5" width="1.5" height="1.5"/><rect x="101.7" y="275.7" width="1.5" height="1.5"/><rect x="101.0" y="225.9" width="1.5" height="1.5"/><rect x="97.2" y="273.7" width="1.5" height="1.5"/><rect x="104.4" y="263.5" width="1.5" height="1.5"/><rect x="77.9" y="272.4" width="1.5" height="1.5"/><rect x="112.0" y="267.3" width="1.5" height="1.5"/><rect x="124.7" y="265.9" width="1.5" height="1.5"/><rect x="103.3" y="259.6" width="1.5" height="1.5"/><rect x="105.3" y="267.2" width="1.5" height="1.5"/><rect x="99.0" y="240.9" width="1.5" height="1.5"/><rect x="108.2" y="272.3" width="1.5" height="1.5"/><rect x="76.6" y="258.4" width="1.5" height="1.5"/><rect x="126.3" y="258.6" width="1.5" height="1.5"/><rect x="119.2" y="273.1" width="1.5" height="1.5"/><rect x="101.2" y="271.2" width="1.5" height="1.5"/><rect x="112.7" y="266.6" width="1.5" height="1.5"/><rect x="93.8" y="276.2" width="1.5" height="1.5"/><rect x="128.5" y="268.4" width="1.5" height="1.5"/><rect x="79.4" y="272.3" width="1.5" height="1.5"/><rect x="82.3" y="249.4" width="1.5" height="1.5"/><rect x="99.0" y="260.5" width="1.5" height="1.5"/><rect x="108.1" y="275.2" width="1.5" height="1.5"/><rect x="91.0" y="252.4" width="1.5" height="1.5"/><rect x="81.3" y="270.9" width="1.5" height="1.5"/><rect x="111.0" y="272.3" width="1.5" height="1.5"/><rect x="164.0" y="244.8" width="1.5" height="1.5"/><rect x="93.4" y="261.9" width="1.5" height="1.5"/><rect x="91.8" y="271.4" width="1.5" height="1.5"/><rect x="119.0" y="267.8" width="1.5" height="1.5"/><rect x="116.4" y="269.7" width="1.5" height="1.5"/><rect x="84.8" y="274.4" width="1.5" height="1.5"/><rect x="88.7" y="268.7" width="1.5" height="1.5"/><rect x="106.4" y="241.7" width="1.5" height="1.5"/><rect x="96.0" y="269.0" width="1.5" height="1.5"/><rect x="101.9" y="260.3" width="1.5" height="1.5"/><rect x="125.4" y="264.3" width="1.5" height="1.5"/><rect x="124.7" y="268.9" width="1.5" height="1.5"/><rect x="110.2" y="269.6" width="1.5" height="1.5"/><rect x="102.9" y="276.8" width="1.5" height="1.5"/><rect x="109.7" y="270.5" width="1.5" height="1.5"/><rect x="107.6" y="270.4" width="1.5" height="1.5"/><rect x="73.6" y="270.2" width="1.5" height="1.5"/><rect x="102.3" y="264.9" width="1.5" height="1.5"/><rect x="110.6" y="260.7" width="1.5" height="1.5"/><rect x="111.6" y="274.6" width="1.5" height="1.5"/><rect x="104.4" y="268.3" width="1.5" height="1.5"/><rect x="91.5" y="236.7" width="1.5" height="1.5"/><rect x="109.4" y="268.8" width="1.5" height="1.5"/><rect x="102.3" y="273.5" width="1.5" height="1.5"/><rect x="134.4" y="264.2" width="1.5" height="1.5"/><rect x="92.4" y="268.3" width="1.5" height="1.5"/><rect x="91.7" y="275.2" width="1.5" height="1.5"/><rect x="108.3" y="263.3" width="1.5" height="1.5"/><rect x="83.5" y="270.7" width="1.5" height="1.5"/><rect x="103.6" y="271.5" width="1.5" height="1.5"/><rect x="107.1" y="268.2" width="1.5" height="1.5"/><rect x="91.2" y="272.7" width="1.5" height="1.5"/><rect x="81.5" y="269.0" width="1.5" height="1.5"/><rect x="67.5" y="256.8" width="1.5" height="1.5"/><rect x="111.6" y="270.9" width="1.5" height="1.5"/><rect x="107.5" y="273.2" width="1.5" height="1.5"/><rect x="92.9" y="270.5" width="1.5" height="1.5"/><rect x="133.4" y="264.4" width="1.5" height="1.5"/><rect x="95.8" y="262.8" width="1.5" height="1.5"/><rect x="78.5" y="268.9" width="1.5" height="1.5"/><rect x="87.8" y="266.7" width="1.5" height="1.5"/><rect x="136.2" y="262.9" width="1.5" height="1.5"/><rect x="92.3" y="268.1" width="1.5" height="1.5"/><rect x="113.2" y="266.0" width="1.5" height="1.5"/><rect x="105.5" y="275.1" width="1.5" height="1.5"/><rect x="107.8" y="275.5" width="1.5" height="1.5"/><rect x="110.0" y="268.1" width="1.5" height="1.5"/><rect x="129.7" y="243.4" width="1.5" height="1.5"/><rect x="102.5" y="248.2" width="1.5" height="1.5"/><rect x="91.7" y="265.3" width="1.5" height="1.5"/><rect x="98.9" y="241.6" width="1.5" height="1.5"/><rect x="127.0" y="253.7" width="1.5" height="1.5"/><rect x="105.6" y="227.6" width="1.5" height="1.5"/><rect x="119.7" y="268.2" width="1.5" height="1.5"/><rect x="129.3" y="234.0" width="1.5" height="1.5"/><rect x="107.2" y="266.8" width="1.5" height="1.5"/><rect x="110.1" y="222.8" width="1.5" height="1.5"/><rect x="93.4" y="251.9" width="1.5" height="1.5"/><rect x="120.6" y="266.5" width="1.5" height="1.5"/><rect x="93.3" y="256.8" width="1.5" height="1.5"/><rect x="69.6" y="266.9" width="1.5" height="1.5"/><rect x="99.1" y="275.5" width="1.5" height="1.5"/><rect x="101.5" y="228.2" width="1.5" height="1.5"/><rect x="114.8" y="270.0" width="1.5" height="1.5"/><rect x="82.7" y="268.4" width="1.5" height="1.5"/><rect x="63.1" y="262.4" width="1.5" height="1.5"/><rect x="119.0" y="243.3" width="1.5" height="1.5"/><rect x="88.5" y="268.4" width="1.5" height="1.5"/><rect x="91.6" y="271.5" width="1.5" height="1.5"/><rect x="90.2" y="273.9" width="1.5" height="1.5"/><rect x="103.3" y="273.9" width="1.5" height="1.5"/><rect x="85.4" y="274.1" width="1.5" height="1.5"/><rect x="105.2" y="265.1" width="1.5" height="1.5"/><rect x="88.6" y="275.1" width="1.5" height="1.5"/><rect x="117.6" y="250.1" width="1.5" height="1.5"/><rect x="88.1" y="232.3" width="1.5" height="1.5"/><rect x="111.6" y="230.4" width="1.5" height="1.5"/><rect x="77.9" y="267.3" width="1.5" height="1.5"/><rect x="123.8" y="228.3" width="1.5" height="1.5"/><rect x="69.3" y="269.4" width="1.5" height="1.5"/><rect x="116.1" y="272.0" width="1.5" height="1.5"/><rect x="94.2" y="264.8" width="1.5" height="1.5"/><rect x="77.1" y="267.3" width="1.5" height="1.5"/><rect x="84.8" y="264.9" width="1.5" height="1.5"/><rect x="71.3" y="270.1" width="1.5" height="1.5"/><rect x="108.4" y="272.8" width="1.5" height="1.5"/><rect x="115.0" y="266.7" width="1.5" height="1.5"/><rect x="85.5" y="271.2" width="1.5" height="1.5"/><rect x="110.8" y="244.6" width="1.5" height="1.5"/><rect x="96.0" y="269.1" width="1.5" height="1.5"/><rect x="89.8" y="275.4" width="1.5" height="1.5"/><rect x="83.6" y="266.1" width="1.5" height="1.5"/><rect x="114.4" y="254.2" width="1.5" height="1.5"/><rect x="89.3" y="275.0" width="1.5" height="1.5"/><rect x="100.1" y="277.8" width="1.5" height="1.5"/><rect x="83.4" y="272.9" width="1.5" height="1.5"/><rect x="101.7" y="254.5" width="1.5" height="1.5"/><rect x="89.8" y="268.9" width="1.5" height="1.5"/><rect x="100.9" y="262.2" width="1.5" height="1.5"/><rect x="81.2" y="246.7" width="1.5" height="1.5"/><rect x="92.4" y="274.4" width="1.5" height="1.5"/><rect x="78.8" y="269.9" width="1.5" height="1.5"/><rect x="77.5" y="269.6" width="1.5" height="1.5"/><rect x="100.3" y="265.7" width="1.5" height="1.5"/><rect x="116.4" y="267.1" width="1.5" height="1.5"/><rect x="78.4" y="262.9" width="1.5" height="1.5"/><rect x="78.2" y="246.8" width="1.5" height="1.5"/><rect x="101.6" y="274.8" width="1.5" height="1.5"/><rect x="89.5" y="270.5" width="1.5" height="1.5"/><rect x="93.5" y="276.0" width="1.5" height="1.5"/><rect x="107.4" y="275.7" width="1.5" height="1.5"/><rect x="120.4" y="230.2" width="1.5" height="1.5"/><rect x="95.0" y="239.1" width="1.5" height="1.5"/><rect x="120.0" y="258.6" width="1.5" height="1.5"/><rect x="82.0" y="267.3" width="1.5" height="1.5"/><rect x="97.8" y="276.6" width="1.5" height="1.5"/><rect x="115.0" y="268.6" width="1.5" height="1.5"/><rect x="93.2" y="274.3" width="1.5" height="1.5"/><rect x="89.6" y="253.5" width="1.5" height="1.5"/><rect x="77.0" y="234.4" width="1.5" height="1.5"/><rect x="100.4" y="272.3" width="1.5" height="1.5"/><rect x="109.7" y="226.8" width="1.5" height="1.5"/><rect x="97.6" y="267.1" width="1.5" height="1.5"/><rect x="96.5" y="259.9" width="1.5" height="1.5"/><rect x="109.5" y="271.7" width="1.5" height="1.5"/><rect x="63.3" y="269.1" width="1.5" height="1.5"/><rect x="97.8" y="275.4" width="1.5" height="1.5"/><rect x="117.4" y="271.3" width="1.5" height="1.5"/><rect x="102.8" y="273.2" width="1.5" height="1.5"/><rect x="106.2" y="274.6" width="1.5" height="1.5"/><rect x="98.2" y="265.5" width="1.5" height="1.5"/><rect x="115.9" y="271.0" width="1.5" height="1.5"/><rect x="74.6" y="231.2" width="1.5" height="1.5"/><rect x="99.6" y="251.4" width="1.5" height="1.5"/><rect x="108.9" y="257.8" width="1.5" height="1.5"/><rect x="93.6" y="266.5" width="1.5" height="1.5"/><rect x="104.1" y="273.9" width="1.5" height="1.5"/><rect x="84.1" y="242.1" width="1.5" height="1.5"/><rect x="95.6" y="276.3" width="1.5" height="1.5"/><rect x="102.7" y="256.8" width="1.5" height="1.5"/><rect x="152.4" y="246.0" width="1.5" height="1.5"/><rect x="101.9" y="264.2" width="1.5" height="1.5"/><rect x="106.2" y="272.3" width="1.5" height="1.5"/><rect x="107.2" y="275.7" width="1.5" height="1.5"/><rect x="106.8" y="276.0" width="1.5" height="1.5"/><rect x="102.1" y="272.7" width="1.5" height="1.5"/><rect x="105.7" y="271.5" width="1.5" height="1.5"/><rect x="108.8" y="273.1" width="1.5" height="1.5"/><rect x="113.7" y="271.3" width="1.5" height="1.5"/><rect x="91.8" y="265.2" width="1.5" height="1.5"/><rect x="81.2" y="268.1" width="1.5" height="1.5"/><rect x="100.6" y="260.6" width="1.5" height="1.5"/><rect x="85.4" y="273.2" width="1.5" height="1.5"/><rect x="99.9" y="268.6" width="1.5" height="1.5"/><rect x="101.9" y="273.7" width="1.5" height="1.5"/><rect x="101.5" y="275.8" width="1.5" height="1.5"/><rect x="88.7" y="272.7" width="1.5" height="1.5"/><rect x="110.6" y="268.7" width="1.5" height="1.5"/><rect x="84.5" y="254.0" width="1.5" height="1.5"/><rect x="95.4" y="264.9" width="1.5" height="1.5"/><rect x="107.8" y="273.6" width="1.5" height="1.5"/><rect x="113.2" y="272.6" width="1.5" height="1.5"/><rect x="117.5" y="272.8" width="1.5" height="1.5"/><rect x="127.1" y="262.5" width="1.5" height="1.5"/><rect x="113.8" y="274.6" width="1.5" height="1.5"/><rect x="91.5" y="270.2" width="1.5" height="1.5"/><rect x="93.5" y="272.3" width="1.5" height="1.5"/><rect x="100.6" y="275.9" width="1.5" height="1.5"/><rect x="120.5" y="256.1" width="1.5" height="1.5"/><rect x="111.7" y="256.5" width="1.5" height="1.5"/><rect x="83.6" y="268.6" width="1.5" height="1.5"/><rect x="107.1" y="263.1" width="1.5" height="1.5"/><rect x="94.3" y="265.1" width="1.5" height="1.5"/><rect x="106.8" y="258.6" width="1.5" height="1.5"/><rect x="105.6" y="265.5" width="1.5" height="1.5"/><rect x="78.6" y="269.7" width="1.5" height="1.5"/><rect x="101.8" y="275.0" width="1.5" height="1.5"/><rect x="97.8" y="263.3" width="1.5" height="1.5"/><rect x="96.2" y="276.7" width="1.5" height="1.5"/><rect x="95.3" y="274.9" width="1.5" height="1.5"/><rect x="91.3" y="269.3" width="1.5" height="1.5"/><rect x="77.5" y="272.3" width="1.5" height="1.5"/><rect x="102.1" y="272.3" width="1.5" height="1.5"/><rect x="75.3" y="265.5" width="1.5" height="1.5"/><rect x="97.5" y="268.1" width="1.5" height="1.5"/><rect x="101.6" y="268.4" width="1.5" height="1.5"/><rect x="87.4" y="273.7" width="1.5" height="1.5"/><rect x="98.1" y="260.9" width="1.5" height="1.5"/><rect x="126.4" y="239.4" width="1.5" height="1.5"/><rect x="85.9" y="262.8" width="1.5" height="1.5"/><rect x="96.2" y="277.3" width="1.5" height="1.5"/><rect x="115.7" y="268.6" width="1.5" height="1.5"/><rect x="99.3" y="276.7" width="1.5" height="1.5"/><rect x="123.6" y="264.6" width="1.5" height="1.5"/><rect x="103.4" y="273.7" width="1.5" height="1.5"/><rect x="100.7" y="277.1" width="1.5" height="1.5"/><rect x="114.7" y="262.2" width="1.5" height="1.5"/><rect x="78.8" y="270.4" width="1.5" height="1.5"/><rect x="74.1" y="264.3" width="1.5" height="1.5"/><rect x="99.7" y="273.4" width="1.5" height="1.5"/><rect x="94.6" y="268.5" width="1.5" height="1.5"/><rect x="101.4" y="274.0" width="1.5" height="1.5"/><rect x="105.8" y="259.8" width="1.5" height="1.5"/><rect x="96.7" y="276.8" width="1.5" height="1.5"/><rect x="120.2" y="260.1" width="1.5" height="1.5"/><rect x="87.0" y="274.8" width="1.5" height="1.5"/><rect x="105.6" y="246.6" width="1.5" height="1.5"/><rect x="92.9" y="263.5" width="1.5" height="1.5"/><rect x="100.5" y="275.7" width="1.5" height="1.5"/><rect x="107.8" y="261.5" width="1.5" height="1.5"/><rect x="107.2" y="272.6" width="1.5" height="1.5"/><rect x="98.1" y="274.4" width="1.5" height="1.5"/><rect x="123.5" y="266.1" width="1.5" height="1.5"/><rect x="89.2" y="264.6" width="1.5" height="1.5"/><rect x="89.3" y="259.9" width="1.5" height="1.5"/><rect x="78.4" y="258.5" width="1.5" height="1.5"/><rect x="119.8" y="260.4" width="1.5" height="1.5"/><rect x="93.8" y="269.4" width="1.5" height="1.5"/><rect x="66.1" y="267.0" width="1.5" height="1.5"/><rect x="87.9" y="245.5" width="1.5" height="1.5"/><rect x="100.3" y="276.5" width="1.5" height="1.5"/><rect x="88.7" y="273.9" width="1.5" height="1.5"/><rect x="116.1" y="258.1" width="1.5" height="1.5"/><rect x="105.9" y="267.9" width="1.5" height="1.5"/><rect x="98.9" y="271.0" width="1.5" height="1.5"/><rect x="81.2" y="234.8" width="1.5" height="1.5"/><rect x="101.6" y="259.1" width="1.5" height="1.5"/><rect x="87.3" y="269.4" width="1.5" height="1.5"/><rect x="108.8" y="267.7" width="1.5" height="1.5"/><rect x="115.9" y="269.3" width="1.5" height="1.5"/><rect x="87.3" y="238.0" width="1.5" height="1.5"/><rect x="89.8" y="272.7" width="1.5" height="1.5"/><rect x="109.6" y="266.8" width="1.5" height="1.5"/><rect x="104.5" y="274.8" width="1.5" height="1.5"/><rect x="96.3" y="270.8" width="1.5" height="1.5"/><rect x="98.5" y="265.9" width="1.5" height="1.5"/><rect x="116.4" y="273.2" width="1.5" height="1.5"/><rect x="86.2" y="228.9" width="1.5" height="1.5"/><rect x="105.3" y="268.5" width="1.5" height="1.5"/><rect x="91.9" y="274.7" width="1.5" height="1.5"/><rect x="93.5" y="271.1" width="1.5" height="1.5"/><rect x="112.9" y="272.8" width="1.5" height="1.5"/><rect x="93.5" y="274.0" width="1.5" height="1.5"/><rect x="93.9" y="265.1" width="1.5" height="1.5"/><rect x="95.5" y="269.4" width="1.5" height="1.5"/><rect x="91.7" y="261.7" width="1.5" height="1.5"/><rect x="92.7" y="276.3" width="1.5" height="1.5"/><rect x="81.7" y="260.9" width="1.5" height="1.5"/><rect x="137.7" y="258.5" width="1.5" height="1.5"/><rect x="120.3" y="270.0" width="1.5" height="1.5"/><rect x="102.0" y="275.1" width="1.5" height="1.5"/><rect x="95.0" y="274.3" width="1.5" height="1.5"/><rect x="91.0" y="251.6" width="1.5" height="1.5"/><rect x="116.8" y="267.5" width="1.5" height="1.5"/><rect x="86.5" y="263.8" width="1.5" height="1.5"/><rect x="87.9" y="271.3" width="1.5" height="1.5"/><rect x="81.5" y="268.2" width="1.5" height="1.5"/><rect x="93.2" y="250.3" width="1.5" height="1.5"/><rect x="123.2" y="268.9" width="1.5" height="1.5"/><rect x="104.1" y="265.0" width="1.5" height="1.5"/><rect x="91.1" y="272.6" width="1.5" height="1.5"/><rect x="78.1" y="227.8" width="1.5" height="1.5"/><rect x="102.0" y="255.4" width="1.5" height="1.5"/><rect x="94.6" y="274.7" width="1.5" height="1.5"/><rect x="109.1" y="236.3" width="1.5" height="1.5"/><rect x="39.2" y="253.9" width="1.5" height="1.5"/><rect x="86.8" y="268.2" width="1.5" height="1.5"/><rect x="70.5" y="268.4" width="1.5" height="1.5"/><rect x="105.9" y="273.8" width="1.5" height="1.5"/><rect x="97.5" y="271.3" width="1.5" height="1.5"/><rect x="101.1" y="258.5" width="1.5" height="1.5"/><rect x="85.3" y="260.9" width="1.5" height="1.5"/><rect x="102.0" y="254.4" width="1.5" height="1.5"/><rect x="115.3" y="246.9" width="1.5" height="1.5"/><rect x="112.6" y="260.6" width="1.5" height="1.5"/><rect x="86.7" y="274.8" width="1.5" height="1.5"/><rect x="85.0" y="260.3" width="1.5" height="1.5"/><rect x="97.3" y="256.7" width="1.5" height="1.5"/><rect x="90.7" y="257.9" width="1.5" height="1.5"/><rect x="107.3" y="273.8" width="1.5" height="1.5"/><rect x="102.8" y="252.4" width="1.5" height="1.5"/><rect x="87.5" y="242.4" width="1.5" height="1.5"/><rect x="121.7" y="272.4" width="1.5" height="1.5"/><rect x="117.0" y="265.8" width="1.5" height="1.5"/><rect x="106.1" y="266.4" width="1.5" height="1.5"/><rect x="113.9" y="272.8" width="1.5" height="1.5"/><rect x="125.1" y="269.6" width="1.5" height="1.5"/><rect x="109.9" y="264.7" width="1.5" height="1.5"/><rect x="90.9" y="261.5" width="1.5" height="1.5"/><rect x="80.5" y="273.1" width="1.5" height="1.5"/><rect x="62.8" y="267.7" width="1.5" height="1.5"/><rect x="101.7" y="271.3" width="1.5" height="1.5"/><rect x="105.5" y="271.4" width="1.5" height="1.5"/><rect x="109.7" y="271.9" width="1.5" height="1.5"/><rect x="92.0" y="226.1" width="1.5" height="1.5"/><rect x="87.6" y="253.3" width="1.5" height="1.5"/><rect x="92.1" y="267.8" width="1.5" height="1.5"/><rect x="41.5" y="258.5" width="1.5" height="1.5"/><rect x="99.3" y="263.3" width="1.5" height="1.5"/><rect x="75.2" y="253.1" width="1.5" height="1.5"/><rect x="128.4" y="249.1" width="1.5" height="1.5"/><rect x="124.2" y="239.6" width="1.5" height="1.5"/><rect x="73.7" y="253.1" width="1.5" height="1.5"/><rect x="85.8" y="273.6" width="1.5" height="1.5"/><rect x="92.5" y="276.1" width="1.5" height="1.5"/><rect x="96.4" y="275.1" width="1.5" height="1.5"/><rect x="104.6" y="247.8" width="1.5" height="1.5"/><rect x="113.2" y="265.0" width="1.5" height="1.5"/><rect x="90.2" y="262.7" width="1.5" height="1.5"/><rect x="111.5" y="237.5" width="1.5" height="1.5"/><rect x="95.0" y="272.9" width="1.5" height="1.5"/><rect x="89.5" y="255.3" width="1.5" height="1.5"/><rect x="93.5" y="267.7" width="1.5" height="1.5"/><rect x="111.8" y="273.8" width="1.5" height="1.5"/><rect x="96.9" y="245.6" width="1.5" height="1.5"/><rect x="108.3" y="267.7" width="1.5" height="1.5"/><rect x="105.3" y="272.5" width="1.5" height="1.5"/><rect x="101.4" y="272.8" width="1.5" height="1.5"/><rect x="94.6" y="276.9" width="1.5" height="1.5"/><rect x="104.5" y="271.9" width="1.5" height="1.5"/><rect x="103.5" y="265.9" width="1.5" height="1.5"/><rect x="114.1" y="256.4" width="1.5" height="1.5"/><rect x="113.3" y="258.3" width="1.5" height="1.5"/><rect x="110.4" y="267.7" width="1.5" height="1.5"/><rect x="78.0" y="264.2" width="1.5" height="1.5"/><rect x="100.8" y="277.5" width="1.5" height="1.5"/><rect x="83.0" y="260.6" width="1.5" height="1.5"/><rect x="86.3" y="269.4" width="1.5" height="1.5"/><rect x="74.9" y="267.1" width="1.5" height="1.5"/><rect x="93.8" y="234.7" width="1.5" height="1.5"/><rect x="102.5" y="276.4" width="1.5" height="1.5"/><rect x="80.6" y="270.4" width="1.5" height="1.5"/><rect x="113.7" y="257.2" width="1.5" height="1.5"/><rect x="134.5" y="268.7" width="1.5" height="1.5"/><rect x="84.8" y="269.7" width="1.5" height="1.5"/><rect x="129.7" y="268.9" width="1.5" height="1.5"/><rect x="138.0" y="260.6" width="1.5" height="1.5"/><rect x="84.3" y="250.3" width="1.5" height="1.5"/><rect x="89.9" y="274.2" width="1.5" height="1.5"/><rect x="127.1" y="261.0" width="1.5" height="1.5"/><rect x="113.1" y="255.6" width="1.5" height="1.5"/><rect x="107.5" y="270.5" width="1.5" height="1.5"/><rect x="106.1" y="273.9" width="1.5" height="1.5"/><rect x="91.5" y="266.1" width="1.5" height="1.5"/><rect x="111.6" y="258.8" width="1.5" height="1.5"/><rect x="111.7" y="266.9" width="1.5" height="1.5"/><rect x="121.7" y="270.8" width="1.5" height="1.5"/><rect x="93.6" y="270.7" width="1.5" height="1.5"/><rect x="94.8" y="271.0" width="1.5" height="1.5"/><rect x="113.0" y="271.0" width="1.5" height="1.5"/><rect x="96.6" y="271.1" width="1.5" height="1.5"/><rect x="83.4" y="264.6" width="1.5" height="1.5"/><rect x="120.6" y="263.1" width="1.5" height="1.5"/><rect x="96.7" y="261.8" width="1.5" height="1.5"/><rect x="105.0" y="276.0" width="1.5" height="1.5"/><rect x="55.1" y="263.2" width="1.5" height="1.5"/><rect x="103.5" y="273.0" width="1.5" height="1.5"/><rect x="127.1" y="265.4" width="1.5" height="1.5"/><rect x="98.8" y="268.6" width="1.5" height="1.5"/><rect x="105.2" y="262.1" width="1.5" height="1.5"/><rect x="81.3" y="265.6" width="1.5" height="1.5"/><rect x="113.3" y="245.2" width="1.5" height="1.5"/><rect x="102.4" y="264.7" width="1.5" height="1.5"/><rect x="113.6" y="256.3" width="1.5" height="1.5"/><rect x="107.0" y="270.2" width="1.5" height="1.5"/><rect x="121.5" y="266.5" width="1.5" height="1.5"/><rect x="93.0" y="275.5" width="1.5" height="1.5"/><rect x="85.1" y="265.1" width="1.5" height="1.5"/><rect x="102.4" y="256.1" width="1.5" height="1.5"/><rect x="102.6" y="275.1" width="1.5" height="1.5"/><rect x="82.0" y="260.6" width="1.5" height="1.5"/><rect x="92.2" y="226.2" width="1.5" height="1.5"/><rect x="94.2" y="271.0" width="1.5" height="1.5"/><rect x="122.6" y="265.2" width="1.5" height="1.5"/><rect x="89.0" y="274.8" width="1.5" height="1.5"/><rect x="101.7" y="272.9" width="1.5" height="1.5"/><rect x="139.7" y="262.0" width="1.5" height="1.5"/><rect x="100.0" y="255.8" width="1.5" height="1.5"/><rect x="100.2" y="276.6" width="1.5" height="1.5"/><rect x="73.9" y="269.2" width="1.5" height="1.5"/><rect x="82.6" y="270.3" width="1.5" height="1.5"/><rect x="86.2" y="270.4" width="1.5" height="1.5"/><rect x="81.7" y="269.8" width="1.5" height="1.5"/><rect x="90.7" y="270.0" width="1.5" height="1.5"/><rect x="109.5" y="245.1" width="1.5" height="1.5"/><rect x="80.7" y="270.2" width="1.5" height="1.5"/><rect x="96.5" y="266.1" width="1.5" height="1.5"/><rect x="100.4" y="232.8" width="1.5" height="1.5"/><rect x="89.4" y="275.1" width="1.5" height="1.5"/><rect x="89.9" y="273.2" width="1.5" height="1.5"/><rect x="120.8" y="266.8" width="1.5" height="1.5"/><rect x="97.4" y="272.2" width="1.5" height="1.5"/><rect x="124.2" y="270.1" width="1.5" height="1.5"/><rect x="146.5" y="261.4" width="1.5" height="1.5"/><rect x="110.3" y="257.9" width="1.5" height="1.5"/><rect x="81.7" y="273.4" width="1.5" height="1.5"/><rect x="95.5" y="271.5" width="1.5" height="1.5"/><rect x="100.5" y="275.4" width="1.5" height="1.5"/><rect x="126.1" y="263.2" width="1.5" height="1.5"/><rect x="92.4" y="242.4" width="1.5" height="1.5"/><rect x="95.2" y="258.0" width="1.5" height="1.5"/><rect x="93.8" y="262.7" width="1.5" height="1.5"/><rect x="122.7" y="239.7" width="1.5" height="1.5"/><rect x="113.6" y="271.2" width="1.5" height="1.5"/><rect x="74.9" y="249.6" width="1.5" height="1.5"/><rect x="98.8" y="274.5" width="1.5" height="1.5"/><rect x="89.6" y="231.7" width="1.5" height="1.5"/><rect x="85.4" y="274.4" width="1.5" height="1.5"/><rect x="86.9" y="251.6" width="1.5" height="1.5"/><rect x="92.2" y="271.8" width="1.5" height="1.5"/><rect x="103.5" y="226.4" width="1.5" height="1.5"/><rect x="92.4" y="260.2" width="1.5" height="1.5"/><rect x="84.2" y="258.4" width="1.5" height="1.5"/><rect x="100.8" y="261.3" width="1.5" height="1.5"/><rect x="88.9" y="274.8" width="1.5" height="1.5"/><rect x="102.9" y="273.2" width="1.5" height="1.5"/><rect x="72.4" y="246.6" width="1.5" height="1.5"/><rect x="80.8" y="271.1" width="1.5" height="1.5"/><rect x="87.6" y="237.8" width="1.5" height="1.5"/><rect x="115.1" y="263.1" width="1.5" height="1.5"/><rect x="100.9" y="268.5" width="1.5" height="1.5"/><rect x="109.4" y="274.9" width="1.5" height="1.5"/><rect x="120.7" y="259.8" width="1.5" height="1.5"/><rect x="95.4" y="275.2" width="1.5" height="1.5"/><rect x="92.9" y="275.6" width="1.5" height="1.5"/><rect x="88.9" y="273.7" width="1.5" height="1.5"/><rect x="129.0" y="250.0" width="1.5" height="1.5"/><rect x="89.6" y="275.3" width="1.5" height="1.5"/><rect x="54.3" y="266.2" width="1.5" height="1.5"/><rect x="70.3" y="264.6" width="1.5" height="1.5"/><rect x="101.5" y="270.4" width="1.5" height="1.5"/><rect x="96.0" y="269.3" width="1.5" height="1.5"/><rect x="95.3" y="275.8" width="1.5" height="1.5"/><rect x="67.9" y="270.4" width="1.5" height="1.5"/><rect x="99.6" y="275.0" width="1.5" height="1.5"/><rect x="114.6" y="232.5" width="1.5" height="1.5"/><rect x="85.4" y="271.2" width="1.5" height="1.5"/><rect x="116.8" y="263.7" width="1.5" height="1.5"/><rect x="90.0" y="252.2" width="1.5" height="1.5"/><rect x="81.4" y="227.1" width="1.5" height="1.5"/><rect x="110.6" y="222.0" width="1.5" height="1.5"/><rect x="82.5" y="257.3" width="1.5" height="1.5"/><rect x="98.2" y="249.3" width="1.5" height="1.5"/><rect x="73.8" y="268.6" width="1.5" height="1.5"/><rect x="89.8" y="274.9" width="1.5" height="1.5"/><rect x="112.2" y="262.0" width="1.5" height="1.5"/><rect x="97.7" y="250.3" width="1.5" height="1.5"/><rect x="108.3" y="270.5" width="1.5" height="1.5"/><rect x="92.3" y="276.0" width="1.5" height="1.5"/><rect x="93.8" y="268.8" width="1.5" height="1.5"/><rect x="118.1" y="228.0" width="1.5" height="1.5"/><rect x="115.9" y="261.1" width="1.5" height="1.5"/><rect x="81.7" y="272.6" width="1.5" height="1.5"/><rect x="91.4" y="274.0" width="1.5" height="1.5"/><rect x="95.3" y="275.3" width="1.5" height="1.5"/><rect x="102.7" y="271.4" width="1.5" height="1.5"/><rect x="84.0" y="255.9" width="1.5" height="1.5"/><rect x="93.5" y="258.6" width="1.5" height="1.5"/><rect x="96.6" y="276.7" width="1.5" height="1.5"/><rect x="98.6" y="277.7" width="1.5" height="1.5"/><rect x="99.1" y="274.2" width="1.5" height="1.5"/><rect x="106.7" y="271.1" width="1.5" height="1.5"/><rect x="96.3" y="269.9" width="1.5" height="1.5"/><rect x="93.1" y="270.8" width="1.5" height="1.5"/><rect x="88.4" y="258.6" width="1.5" height="1.5"/><rect x="97.5" y="275.0" width="1.5" height="1.5"/><rect x="134.5" y="221.3" width="1.5" height="1.5"/><rect x="103.8" y="270.9" width="1.5" height="1.5"/><rect x="103.0" y="275.1" width="1.5" height="1.5"/><rect x="114.5" y="268.7" width="1.5" height="1.5"/><rect x="76.5" y="255.4" width="1.5" height="1.5"/><rect x="103.5" y="233.7" width="1.5" height="1.5"/><rect x="101.5" y="269.7" width="1.5" height="1.5"/><rect x="120.0" y="240.8" width="1.5" height="1.5"/><rect x="83.4" y="270.4" width="1.5" height="1.5"/><rect x="108.6" y="260.1" width="1.5" height="1.5"/><rect x="110.4" y="271.1" width="1.5" height="1.5"/><rect x="105.6" y="276.0" width="1.5" height="1.5"/><rect x="113.1" y="272.3" width="1.5" height="1.5"/><rect x="104.4" y="273.6" width="1.5" height="1.5"/><rect x="116.7" y="262.8" width="1.5" height="1.5"/><rect x="99.6" y="276.7" width="1.5" height="1.5"/><rect x="88.2" y="274.8" width="1.5" height="1.5"/><rect x="100.5" y="277.6" width="1.5" height="1.5"/><rect x="123.8" y="267.2" width="1.5" height="1.5"/><rect x="88.7" y="265.7" width="1.5" height="1.5"/><rect x="101.7" y="277.1" width="1.5" height="1.5"/><rect x="79.9" y="264.0" width="1.5" height="1.5"/><rect x="111.5" y="262.4" width="1.5" height="1.5"/><rect x="108.0" y="226.9" width="1.5" height="1.5"/><rect x="88.9" y="257.2" width="1.5" height="1.5"/><rect x="76.6" y="256.6" width="1.5" height="1.5"/><rect x="96.6" y="273.6" width="1.5" height="1.5"/><rect x="103.1" y="273.6" width="1.5" height="1.5"/><rect x="121.9" y="247.5" width="1.5" height="1.5"/><rect x="94.8" y="276.7" width="1.5" height="1.5"/><rect x="92.6" y="245.5" width="1.5" height="1.5"/><rect x="100.6" y="269.8" width="1.5" height="1.5"/><rect x="107.1" y="265.2" width="1.5" height="1.5"/><rect x="104.4" y="259.4" width="1.5" height="1.5"/><rect x="92.6" y="270.1" width="1.5" height="1.5"/><rect x="102.6" y="276.3" width="1.5" height="1.5"/><rect x="80.6" y="254.5" width="1.5" height="1.5"/><rect x="75.2" y="263.3" width="1.5" height="1.5"/><rect x="73.0" y="243.9" width="1.5" height="1.5"/><rect x="111.2" y="256.4" width="1.5" height="1.5"/><rect x="80.9" y="265.1" width="1.5" height="1.5"/><rect x="94.5" y="274.9" width="1.5" height="1.5"/><rect x="93.6" y="263.0" width="1.5" height="1.5"/><rect x="121.7" y="268.5" width="1.5" height="1.5"/><rect x="92.9" y="261.1" width="1.5" height="1.5"/><rect x="86.2" y="262.9" width="1.5" height="1.5"/><rect x="99.6" y="262.4" width="1.5" height="1.5"/><rect x="88.3" y="245.2" width="1.5" height="1.5"/><rect x="116.8" y="270.4" width="1.5" height="1.5"/><rect x="91.7" y="274.3" width="1.5" height="1.5"/><rect x="113.6" y="274.4" width="1.5" height="1.5"/><rect x="82.7" y="257.8" width="1.5" height="1.5"/><rect x="80.6" y="263.3" width="1.5" height="1.5"/><rect x="97.1" y="276.1" width="1.5" height="1.5"/><rect x="72.7" y="268.0" width="1.5" height="1.5"/><rect x="109.8" y="271.0" width="1.5" height="1.5"/><rect x="100.7" y="275.9" width="1.5" height="1.5"/><rect x="93.6" y="276.3" width="1.5" height="1.5"/><rect x="108.5" y="268.7" width="1.5" height="1.5"/><rect x="116.6" y="270.8" width="1.5" height="1.5"/><rect x="95.7" y="271.7" width="1.5" height="1.5"/><rect x="90.4" y="270.2" width="1.5" height="1.5"/><rect x="96.1" y="269.1" width="1.5" height="1.5"/><rect x="112.1" y="250.3" width="1.5" height="1.5"/><rect x="100.8" y="262.0" width="1.5" height="1.5"/><rect x="80.9" y="259.9" width="1.5" height="1.5"/><rect x="87.4" y="268.0" width="1.5" height="1.5"/><rect x="79.8" y="272.5" width="1.5" height="1.5"/><rect x="93.2" y="272.9" width="1.5" height="1.5"/><rect x="91.0" y="273.0" width="1.5" height="1.5"/><rect x="100.2" y="276.8" width="1.5" height="1.5"/><rect x="107.2" y="275.6" width="1.5" height="1.5"/><rect x="158.7" y="253.8" width="1.5" height="1.5"/><rect x="95.0" y="276.0" width="1.5" height="1.5"/><rect x="119.3" y="266.0" width="1.5" height="1.5"/><rect x="76.3" y="268.7" width="1.5" height="1.5"/><rect x="91.3" y="274.0" width="1.5" height="1.5"/><rect x="102.1" y="273.3" width="1.5" height="1.5"/><rect x="96.1" y="275.8" width="1.5" height="1.5"/><rect x="82.8" y="265.8" width="1.5" height="1.5"/><rect x="108.0" y="264.1" width="1.5" height="1.5"/><rect x="116.3" y="271.4" width="1.5" height="1.5"/><rect x="96.8" y="270.5" width="1.5" height="1.5"/><rect x="106.1" y="272.5" width="1.5" height="1.5"/><rect x="91.0" y="270.8" width="1.5" height="1.5"/><rect x="68.1" y="269.4" width="1.5" height="1.5"/><rect x="109.3" y="255.4" width="1.5" height="1.5"/><rect x="112.9" y="242.4" width="1.5" height="1.5"/><rect x="103.2" y="270.5" width="1.5" height="1.5"/><rect x="73.9" y="269.1" width="1.5" height="1.5"/><rect x="83.0" y="273.2" width="1.5" height="1.5"/><rect x="90.1" y="263.9" width="1.5" height="1.5"/><rect x="100.2" y="277.4" width="1.5" height="1.5"/><rect x="105.5" y="274.9" width="1.5" height="1.5"/><rect x="114.3" y="262.8" width="1.5" height="1.5"/><rect x="76.2" y="265.5" width="1.5" height="1.5"/><rect x="93.1" y="240.3" width="1.5" height="1.5"/><rect x="102.8" y="273.6" width="1.5" height="1.5"/><rect x="109.4" y="236.0" width="1.5" height="1.5"/><rect x="83.2" y="258.6" width="1.5" height="1.5"/><rect x="113.0" y="255.1" width="1.5" height="1.5"/><rect x="111.0" y="272.7" width="1.5" height="1.5"/><rect x="76.2" y="266.6" width="1.5" height="1.5"/><rect x="109.5" y="271.8" width="1.5" height="1.5"/><rect x="82.4" y="270.7" width="1.5" height="1.5"/><rect x="73.3" y="266.6" width="1.5" height="1.5"/><rect x="115.0" y="273.0" width="1.5" height="1.5"/><rect x="99.9" y="275.0" width="1.5" height="1.5"/><rect x="87.3" y="270.9" width="1.5" height="1.5"/><rect x="90.9" y="275.4" width="1.5" height="1.5"/><rect x="99.0" y="274.4" width="1.5" height="1.5"/><rect x="100.8" y="261.7" width="1.5" height="1.5"/><rect x="106.3" y="253.1" width="1.5" height="1.5"/><rect x="121.5" y="272.3" width="1.5" height="1.5"/><rect x="104.3" y="267.3" width="1.5" height="1.5"/><rect x="122.9" y="256.3" width="1.5" height="1.5"/><rect x="96.5" y="276.3" width="1.5" height="1.5"/><rect x="86.7" y="268.5" width="1.5" height="1.5"/><rect x="90.6" y="262.6" width="1.5" height="1.5"/><rect x="128.5" y="254.8" width="1.5" height="1.5"/><rect x="92.6" y="237.4" width="1.5" height="1.5"/><rect x="90.5" y="269.2" width="1.5" height="1.5"/><rect x="100.0" y="265.2" width="1.5" height="1.5"/><rect x="110.9" y="270.7" width="1.5" height="1.5"/><rect x="83.7" y="260.3" width="1.5" height="1.5"/><rect x="82.2" y="268.8" width="1.5" height="1.5"/><rect x="92.3" y="272.7" width="1.5" height="1.5"/><rect x="95.9" y="223.4" width="1.5" height="1.5"/><rect x="159.6" y="237.5" width="1.5" height="1.5"/><rect x="106.8" y="273.9" width="1.5" height="1.5"/><rect x="95.7" y="266.3" width="1.5" height="1.5"/><rect x="128.5" y="265.7" width="1.5" height="1.5"/><rect x="103.9" y="276.1" width="1.5" height="1.5"/><rect x="67.4" y="256.1" width="1.5" height="1.5"/><rect x="90.4" y="266.6" width="1.5" height="1.5"/><rect x="105.3" y="271.3" width="1.5" height="1.5"/><rect x="116.8" y="254.2" width="1.5" height="1.5"/><rect x="94.0" y="270.3" width="1.5" height="1.5"/><rect x="89.3" y="271.0" width="1.5" height="1.5"/><rect x="95.9" y="276.4" width="1.5" height="1.5"/><rect x="101.6" y="269.4" width="1.5" height="1.5"/><rect x="101.4" y="271.9" width="1.5" height="1.5"/><rect x="92.6" y="263.7" width="1.5" height="1.5"/><rect x="127.9" y="258.7" width="1.5" height="1.5"/><rect x="98.3" y="275.2" width="1.5" height="1.5"/><rect x="91.3" y="275.0" width="1.5" height="1.5"/><rect x="119.6" y="261.5" width="1.5" height="1.5"/><rect x="112.8" y="257.6" width="1.5" height="1.5"/><rect x="115.7" y="269.5" width="1.5" height="1.5"/><rect x="110.4" y="231.6" width="1.5" height="1.5"/><rect x="112.1" y="260.2" width="1.5" height="1.5"/><rect x="89.2" y="268.5" width="1.5" height="1.5"/><rect x="90.6" y="271.7" width="1.5" height="1.5"/><rect x="86.5" y="272.9" width="1.5" height="1.5"/><rect x="86.5" y="242.3" width="1.5" height="1.5"/><rect x="109.1" y="250.2" width="1.5" height="1.5"/><rect x="119.3" y="231.4" width="1.5" height="1.5"/><rect x="102.0" y="277.0" width="1.5" height="1.5"/><rect x="105.9" y="274.2" width="1.5" height="1.5"/><rect x="102.9" y="272.6" width="1.5" height="1.5"/><rect x="104.6" y="244.9" width="1.5" height="1.5"/><rect x="95.3" y="259.6" width="1.5" height="1.5"/><rect x="116.5" y="265.9" width="1.5" height="1.5"/><rect x="99.2" y="272.3" width="1.5" height="1.5"/><rect x="97.5" y="277.1" width="1.5" height="1.5"/><rect x="95.6" y="275.2" width="1.5" height="1.5"/><rect x="97.5" y="261.2" width="1.5" height="1.5"/><rect x="126.6" y="241.4" width="1.5" height="1.5"/><rect x="92.6" y="275.8" width="1.5" height="1.5"/><rect x="88.5" y="272.3" width="1.5" height="1.5"/><rect x="90.2" y="271.0" width="1.5" height="1.5"/><rect x="94.7" y="268.8" width="1.5" height="1.5"/><rect x="98.5" y="247.4" width="1.5" height="1.5"/><rect x="96.9" y="274.6" width="1.5" height="1.5"/><rect x="75.8" y="272.2" width="1.5" height="1.5"/><rect x="96.9" y="265.4" width="1.5" height="1.5"/><rect x="116.6" y="273.2" width="1.5" height="1.5"/><rect x="116.4" y="267.7" width="1.5" height="1.5"/><rect x="91.1" y="274.6" width="1.5" height="1.5"/><rect x="95.4" y="265.8" width="1.5" height="1.5"/><rect x="98.9" y="260.4" width="1.5" height="1.5"/><rect x="84.0" y="271.8" width="1.5" height="1.5"/><rect x="98.5" y="277.8" width="1.5" height="1.5"/><rect x="94.0" y="273.3" width="1.5" height="1.5"/><rect x="90.2" y="268.3" width="1.5" height="1.5"/><rect x="98.8" y="277.7" width="1.5" height="1.5"/><rect x="98.9" y="229.8" width="1.5" height="1.5"/><rect x="81.4" y="258.1" width="1.5" height="1.5"/><rect x="53.3" y="253.0" width="1.5" height="1.5"/><rect x="126.6" y="258.6" width="1.5" height="1.5"/><rect x="76.7" y="272.5" width="1.5" height="1.5"/><rect x="161.5" y="259.8" width="1.5" height="1.5"/><rect x="77.6" y="254.4" width="1.5" height="1.5"/><rect x="80.0" y="261.1" width="1.5" height="1.5"/><rect x="110.6" y="246.2" width="1.5" height="1.5"/><rect x="79.1" y="263.7" width="1.5" height="1.5"/><rect x="71.4" y="247.1" width="1.5" height="1.5"/><rect x="82.2" y="273.7" width="1.5" height="1.5"/><rect x="73.9" y="258.7" width="1.5" height="1.5"/><rect x="75.5" y="261.4" width="1.5" height="1.5"/><rect x="101.6" y="269.5" width="1.5" height="1.5"/><rect x="110.0" y="275.1" width="1.5" height="1.5"/><rect x="99.9" y="277.7" width="1.5" height="1.5"/><rect x="73.2" y="268.1" width="1.5" height="1.5"/><rect x="102.0" y="237.7" width="1.5" height="1.5"/><rect x="78.3" y="265.2" width="1.5" height="1.5"/><rect x="96.0" y="273.2" width="1.5" height="1.5"/><rect x="108.4" y="267.7" width="1.5" height="1.5"/><rect x="91.0" y="274.5" width="1.5" height="1.5"/><rect x="92.6" y="265.5" width="1.5" height="1.5"/><rect x="133.4" y="264.5" width="1.5" height="1.5"/><rect x="78.2" y="271.7" width="1.5" height="1.5"/><rect x="115.7" y="252.0" width="1.5" height="1.5"/><rect x="110.4" y="272.3" width="1.5" height="1.5"/><rect x="101.9" y="222.2" width="1.5" height="1.5"/><rect x="118.9" y="243.2" width="1.5" height="1.5"/><rect x="97.4" y="275.3" width="1.5" height="1.5"/><rect x="109.5" y="263.9" width="1.5" height="1.5"/><rect x="102.6" y="230.4" width="1.5" height="1.5"/><rect x="83.2" y="267.0" width="1.5" height="1.5"/><rect x="102.8" y="275.2" width="1.5" height="1.5"/><rect x="100.1" y="277.4" width="1.5" height="1.5"/><rect x="92.3" y="270.2" width="1.5" height="1.5"/><rect x="114.3" y="264.5" width="1.5" height="1.5"/><rect x="69.2" y="264.7" width="1.5" height="1.5"/><rect x="89.7" y="241.5" width="1.5" height="1.5"/><rect x="106.0" y="271.2" width="1.5" height="1.5"/><rect x="102.4" y="275.1" width="1.5" height="1.5"/><rect x="124.2" y="270.1" width="1.5" height="1.5"/><rect x="107.8" y="275.4" width="1.5" height="1.5"/><rect x="127.0" y="264.8" width="1.5" height="1.5"/><rect x="102.6" y="270.9" width="1.5" height="1.5"/><rect x="107.2" y="269.6" width="1.5" height="1.5"/><rect x="120.1" y="257.6" width="1.5" height="1.5"/><rect x="102.9" y="275.0" width="1.5" height="1.5"/><rect x="84.9" y="272.5" width="1.5" height="1.5"/><rect x="133.1" y="268.7" width="1.5" height="1.5"/><rect x="105.6" y="275.6" width="1.5" height="1.5"/><rect x="98.2" y="275.3" width="1.5" height="1.5"/><rect x="99.5" y="274.7" width="1.5" height="1.5"/><rect x="101.8" y="261.6" width="1.5" height="1.5"/><rect x="74.6" y="257.9" width="1.5" height="1.5"/><rect x="99.3" y="270.4" width="1.5" height="1.5"/><rect x="124.6" y="259.0" width="1.5" height="1.5"/><rect x="74.3" y="247.7" width="1.5" height="1.5"/><rect x="99.6" y="270.3" width="1.5" height="1.5"/><rect x="115.3" y="267.4" width="1.5" height="1.5"/><rect x="90.2" y="273.4" width="1.5" height="1.5"/><rect x="99.1" y="254.1" width="1.5" height="1.5"/><rect x="87.9" y="234.2" width="1.5" height="1.5"/><rect x="105.2" y="270.3" width="1.5" height="1.5"/><rect x="98.3" y="273.8" width="1.5" height="1.5"/><rect x="109.4" y="267.4" width="1.5" height="1.5"/><rect x="88.7" y="275.1" width="1.5" height="1.5"/><rect x="102.1" y="275.9" width="1.5" height="1.5"/><rect x="124.4" y="258.9" width="1.5" height="1.5"/><rect x="60.6" y="226.1" width="1.5" height="1.5"/><rect x="82.0" y="270.7" width="1.5" height="1.5"/><rect x="80.1" y="223.2" width="1.5" height="1.5"/><rect x="105.2" y="239.2" width="1.5" height="1.5"/><rect x="87.2" y="257.6" width="1.5" height="1.5"/><rect x="76.1" y="233.8" width="1.5" height="1.5"/><rect x="88.4" y="259.7" width="1.5" height="1.5"/><rect x="84.0" y="259.3" width="1.5" height="1.5"/><rect x="47.0" y="262.1" width="1.5" height="1.5"/><rect x="103.5" y="276.8" width="1.5" height="1.5"/><rect x="111.4" y="245.6" width="1.5" height="1.5"/><rect x="74.0" y="236.5" width="1.5" height="1.5"/><rect x="72.3" y="270.1" width="1.5" height="1.5"/><rect x="81.7" y="265.4" width="1.5" height="1.5"/><rect x="119.2" y="271.9" width="1.5" height="1.5"/><rect x="114.4" y="264.4" width="1.5" height="1.5"/><rect x="110.1" y="273.1" width="1.5" height="1.5"/><rect x="105.3" y="275.9" width="1.5" height="1.5"/><rect x="87.3" y="272.7" width="1.5" height="1.5"/><rect x="98.1" y="271.6" width="1.5" height="1.5"/><rect x="92.8" y="267.4" width="1.5" height="1.5"/><rect x="110.2" y="273.9" width="1.5" height="1.5"/><rect x="106.9" y="271.8" width="1.5" height="1.5"/><rect x="86.6" y="270.9" width="1.5" height="1.5"/><rect x="112.3" y="272.2" width="1.5" height="1.5"/><rect x="100.2" y="255.2" width="1.5" height="1.5"/><rect x="110.0" y="266.7" width="1.5" height="1.5"/><rect x="105.2" y="271.9" width="1.5" height="1.5"/><rect x="114.1" y="245.0" width="1.5" height="1.5"/><rect x="90.8" y="261.1" width="1.5" height="1.5"/><rect x="105.0" y="275.5" width="1.5" height="1.5"/><rect x="110.5" y="273.3" width="1.5" height="1.5"/><rect x="108.8" y="265.9" width="1.5" height="1.5"/><rect x="93.2" y="240.2" width="1.5" height="1.5"/><rect x="72.0" y="253.5" width="1.5" height="1.5"/><rect x="110.3" y="229.9" width="1.5" height="1.5"/><rect x="112.2" y="230.8" width="1.5" height="1.5"/><rect x="94.8" y="272.7" width="1.5" height="1.5"/><rect x="122.0" y="253.9" width="1.5" height="1.5"/><rect x="98.4" y="222.7" width="1.5" height="1.5"/><rect x="96.9" y="250.6" width="1.5" height="1.5"/><rect x="66.9" y="268.6" width="1.5" height="1.5"/><rect x="107.2" y="266.5" width="1.5" height="1.5"/><rect x="109.8" y="275.0" width="1.5" height="1.5"/><rect x="98.7" y="277.0" width="1.5" height="1.5"/><rect x="104.6" y="255.5" width="1.5" height="1.5"/><rect x="94.4" y="268.6" width="1.5" height="1.5"/><rect x="90.2" y="264.8" width="1.5" height="1.5"/><rect x="88.1" y="225.8" width="1.5" height="1.5"/><rect x="103.4" y="273.5" width="1.5" height="1.5"/><rect x="91.9" y="272.0" width="1.5" height="1.5"/><rect x="78.1" y="252.5" width="1.5" height="1.5"/><rect x="89.7" y="265.4" width="1.5" height="1.5"/><rect x="105.5" y="263.5" width="1.5" height="1.5"/><rect x="54.6" y="260.0" width="1.5" height="1.5"/><rect x="121.3" y="240.5" width="1.5" height="1.5"/><rect x="82.0" y="269.0" width="1.5" height="1.5"/><rect x="84.9" y="269.0" width="1.5" height="1.5"/><rect x="102.7" y="249.7" width="1.5" height="1.5"/><rect x="123.5" y="266.5" width="1.5" height="1.5"/><rect x="99.6" y="270.8" width="1.5" height="1.5"/><rect x="93.1" y="273.7" width="1.5" height="1.5"/><rect x="108.8" y="268.8" width="1.5" height="1.5"/><rect x="46.0" y="260.2" width="1.5" height="1.5"/><rect x="120.1" y="226.3" width="1.5" height="1.5"/><rect x="107.9" y="269.6" width="1.5" height="1.5"/><rect x="105.5" y="251.6" width="1.5" height="1.5"/><rect x="90.4" y="268.8" width="1.5" height="1.5"/><rect x="109.6" y="268.1" width="1.5" height="1.5"/><rect x="101.3" y="247.4" width="1.5" height="1.5"/><rect x="105.3" y="272.4" width="1.5" height="1.5"/><rect x="104.5" y="274.6" width="1.5" height="1.5"/><rect x="68.5" y="247.2" width="1.5" height="1.5"/><rect x="94.0" y="273.6" width="1.5" height="1.5"/><rect x="84.4" y="272.4" width="1.5" height="1.5"/><rect x="105.1" y="245.6" width="1.5" height="1.5"/><rect x="102.8" y="268.7" width="1.5" height="1.5"/><rect x="99.0" y="257.7" width="1.5" height="1.5"/><rect x="90.5" y="275.5" width="1.5" height="1.5"/><rect x="112.1" y="241.3" width="1.5" height="1.5"/><rect x="105.3" y="276.6" width="1.5" height="1.5"/><rect x="106.2" y="253.2" width="1.5" height="1.5"/><rect x="106.0" y="257.4" width="1.5" height="1.5"/><rect x="89.3" y="265.0" width="1.5" height="1.5"/><rect x="95.0" y="259.9" width="1.5" height="1.5"/><rect x="46.7" y="246.6" width="1.5" height="1.5"/><rect x="108.3" y="265.6" width="1.5" height="1.5"/><rect x="46.4" y="223.3" width="1.5" height="1.5"/><rect x="100.5" y="275.8" width="1.5" height="1.5"/><rect x="97.5" y="268.1" width="1.5" height="1.5"/><rect x="104.9" y="273.4" width="1.5" height="1.5"/><rect x="95.6" y="247.3" width="1.5" height="1.5"/><rect x="77.2" y="265.6" width="1.5" height="1.5"/><rect x="95.0" y="265.6" width="1.5" height="1.5"/><rect x="120.4" y="271.0" width="1.5" height="1.5"/><rect x="103.3" y="276.1" width="1.5" height="1.5"/><rect x="88.8" y="257.4" width="1.5" height="1.5"/><rect x="83.2" y="249.2" width="1.5" height="1.5"/><rect x="94.0" y="273.0" width="1.5" height="1.5"/><rect x="82.7" y="257.8" width="1.5" height="1.5"/><rect x="102.3" y="277.4" width="1.5" height="1.5"/><rect x="97.3" y="275.4" width="1.5" height="1.5"/><rect x="94.9" y="272.7" width="1.5" height="1.5"/><rect x="109.5" y="261.8" width="1.5" height="1.5"/><rect x="89.5" y="261.1" width="1.5" height="1.5"/><rect x="108.7" y="272.6" width="1.5" height="1.5"/><rect x="96.4" y="274.1" width="1.5" height="1.5"/><rect x="94.8" y="269.5" width="1.5" height="1.5"/><rect x="73.7" y="269.7" width="1.5" height="1.5"/><rect x="96.1" y="258.3" width="1.5" height="1.5"/><rect x="125.0" y="267.1" width="1.5" height="1.5"/><rect x="74.8" y="241.4" width="1.5" height="1.5"/><rect x="85.6" y="273.2" width="1.5" height="1.5"/><rect x="83.5" y="264.6" width="1.5" height="1.5"/><rect x="102.8" y="256.5" width="1.5" height="1.5"/><rect x="111.9" y="248.3" width="1.5" height="1.5"/><rect x="84.5" y="242.9" width="1.5" height="1.5"/><rect x="108.1" y="270.5" width="1.5" height="1.5"/><rect x="108.2" y="272.1" width="1.5" height="1.5"/><rect x="117.9" y="263.3" width="1.5" height="1.5"/><rect x="114.6" y="267.0" width="1.5" height="1.5"/><rect x="104.1" y="254.9" width="1.5" height="1.5"/><rect x="77.2" y="260.1" width="1.5" height="1.5"/><rect x="86.0" y="258.8" width="1.5" height="1.5"/><rect x="111.7" y="275.0" width="1.5" height="1.5"/><rect x="91.3" y="269.9" width="1.5" height="1.5"/><rect x="115.4" y="270.3" width="1.5" height="1.5"/><rect x="94.9" y="240.5" width="1.5" height="1.5"/><rect x="122.1" y="263.3" width="1.5" height="1.5"/><rect x="84.9" y="273.2" width="1.5" height="1.5"/><rect x="107.9" y="264.3" width="1.5" height="1.5"/><rect x="84.1" y="269.9" width="1.5" height="1.5"/><rect x="103.5" y="269.8" width="1.5" height="1.5"/><rect x="91.8" y="272.5" width="1.5" height="1.5"/><rect x="79.9" y="253.1" width="1.5" height="1.5"/><rect x="98.7" y="270.7" width="1.5" height="1.5"/><rect x="112.8" y="266.4" width="1.5" height="1.5"/><rect x="108.5" y="273.8" width="1.5" height="1.5"/><rect x="74.2" y="261.4" width="1.5" height="1.5"/><rect x="88.3" y="271.2" width="1.5" height="1.5"/><rect x="126.1" y="224.9" width="1.5" height="1.5"/><rect x="100.4" y="275.4" width="1.5" height="1.5"/><rect x="106.4" y="271.1" width="1.5" height="1.5"/><rect x="80.3" y="261.9" width="1.5" height="1.5"/><rect x="97.9" y="274.1" width="1.5" height="1.5"/><rect x="103.6" y="269.7" width="1.5" height="1.5"/><rect x="102.9" y="275.1" width="1.5" height="1.5"/><rect x="63.5" y="265.8" width="1.5" height="1.5"/><rect x="106.4" y="273.5" width="1.5" height="1.5"/><rect x="112.1" y="272.8" width="1.5" height="1.5"/><rect x="96.0" y="272.6" width="1.5" height="1.5"/><rect x="94.5" y="273.2" width="1.5" height="1.5"/><rect x="101.5" y="252.0" width="1.5" height="1.5"/><rect x="88.3" y="272.7" width="1.5" height="1.5"/><rect x="112.0" y="273.4" width="1.5" height="1.5"/><rect x="83.4" y="269.1" width="1.5" height="1.5"/><rect x="90.9" y="275.3" width="1.5" height="1.5"/><rect x="87.0" y="259.5" width="1.5" height="1.5"/><rect x="106.3" y="269.9" width="1.5" height="1.5"/><rect x="92.6" y="267.5" width="1.5" height="1.5"/><rect x="102.3" y="276.7" width="1.5" height="1.5"/><rect x="92.6" y="271.8" width="1.5" height="1.5"/><rect x="66.8" y="249.3" width="1.5" height="1.5"/><rect x="112.9" y="263.2" width="1.5" height="1.5"/><rect x="67.3" y="244.1" width="1.5" height="1.5"/><rect x="107.1" y="276.0" width="1.5" height="1.5"/><rect x="92.9" y="271.8" width="1.5" height="1.5"/><rect x="85.3" y="266.0" width="1.5" height="1.5"/><rect x="94.7" y="275.3" width="1.5" height="1.5"/><rect x="84.8" y="241.1" width="1.5" height="1.5"/><rect x="96.2" y="238.2" width="1.5" height="1.5"/><rect x="96.4" y="274.5" width="1.5" height="1.5"/><rect x="104.0" y="275.3" width="1.5" height="1.5"/><rect x="98.4" y="277.0" width="1.5" height="1.5"/><rect x="86.5" y="268.9" width="1.5" height="1.5"/><rect x="88.6" y="266.6" width="1.5" height="1.5"/><rect x="126.8" y="262.6" width="1.5" height="1.5"/><rect x="111.5" y="272.9" width="1.5" height="1.5"/><rect x="100.4" y="277.1" width="1.5" height="1.5"/><rect x="92.3" y="270.1" width="1.5" height="1.5"/><rect x="83.8" y="267.3" width="1.5" height="1.5"/><rect x="94.2" y="267.9" width="1.5" height="1.5"/><rect x="116.7" y="270.7" width="1.5" height="1.5"/><rect x="81.8" y="238.0" width="1.5" height="1.5"/><rect x="97.4" y="263.4" width="1.5" height="1.5"/><rect x="104.3" y="271.7" width="1.5" height="1.5"/><rect x="89.9" y="254.7" width="1.5" height="1.5"/><rect x="86.5" y="272.6" width="1.5" height="1.5"/><rect x="96.4" y="277.0" width="1.5" height="1.5"/><rect x="106.2" y="260.1" width="1.5" height="1.5"/><rect x="96.9" y="269.7" width="1.5" height="1.5"/><rect x="118.1" y="251.8" width="1.5" height="1.5"/><rect x="85.1" y="271.0" width="1.5" height="1.5"/><rect x="96.6" y="265.9" width="1.5" height="1.5"/><rect x="116.1" y="266.7" width="1.5" height="1.5"/><rect x="72.0" y="265.9" width="1.5" height="1.5"/><rect x="102.7" y="271.9" width="1.5" height="1.5"/><rect x="102.5" y="270.6" width="1.5" height="1.5"/><rect x="80.8" y="273.6" width="1.5" height="1.5"/><rect x="74.9" y="249.4" width="1.5" height="1.5"/><rect x="105.0" y="266.0" width="1.5" height="1.5"/><rect x="96.2" y="269.2" width="1.5" height="1.5"/><rect x="115.8" y="257.1" width="1.5" height="1.5"/><rect x="96.1" y="262.5" width="1.5" height="1.5"/><rect x="100.5" y="277.9" width="1.5" height="1.5"/><rect x="123.3" y="252.6" width="1.5" height="1.5"/><rect x="98.4" y="262.1" width="1.5" height="1.5"/><rect x="92.2" y="269.1" width="1.5" height="1.5"/><rect x="102.5" y="266.4" width="1.5" height="1.5"/><rect x="86.6" y="270.4" width="1.5" height="1.5"/><rect x="110.0" y="275.1" width="1.5" height="1.5"/><rect x="92.7" y="268.6" width="1.5" height="1.5"/><rect x="91.2" y="274.5" width="1.5" height="1.5"/><rect x="86.1" y="267.5" width="1.5" height="1.5"/><rect x="98.3" y="275.9" width="1.5" height="1.5"/><rect x="85.4" y="262.2" width="1.5" height="1.5"/><rect x="84.8" y="226.3" width="1.5" height="1.5"/><rect x="111.5" y="261.1" width="1.5" height="1.5"/><rect x="98.7" y="272.6" width="1.5" height="1.5"/><rect x="106.5" y="267.5" width="1.5" height="1.5"/><rect x="100.0" y="269.4" width="1.5" height="1.5"/><rect x="88.2" y="256.5" width="1.5" height="1.5"/><rect x="98.2" y="263.7" width="1.5" height="1.5"/><rect x="105.8" y="267.8" width="1.5" height="1.5"/><rect x="114.9" y="233.4" width="1.5" height="1.5"/><rect x="83.2" y="245.9" width="1.5" height="1.5"/><rect x="75.1" y="260.3" width="1.5" height="1.5"/><rect x="67.9" y="262.1" width="1.5" height="1.5"/><rect x="107.1" y="276.2" width="1.5" height="1.5"/><rect x="112.4" y="271.3" width="1.5" height="1.5"/><rect x="89.1" y="271.6" width="1.5" height="1.5"/><rect x="94.2" y="268.6" width="1.5" height="1.5"/><rect x="87.6" y="274.1" width="1.5" height="1.5"/><rect x="71.7" y="244.7" width="1.5" height="1.5"/><rect x="97.3" y="277.3" width="1.5" height="1.5"/><rect x="84.7" y="274.1" width="1.5" height="1.5"/><rect x="94.3" y="274.8" width="1.5" height="1.5"/><rect x="113.3" y="270.5" width="1.5" height="1.5"/><rect x="128.4" y="247.6" width="1.5" height="1.5"/><rect x="125.1" y="270.5" width="1.5" height="1.5"/><rect x="91.3" y="266.6" width="1.5" height="1.5"/><rect x="118.8" y="253.2" width="1.5" height="1.5"/><rect x="96.4" y="230.7" width="1.5" height="1.5"/><rect x="110.8" y="253.9" width="1.5" height="1.5"/><rect x="102.4" y="276.0" width="1.5" height="1.5"/><rect x="85.0" y="271.6" width="1.5" height="1.5"/><rect x="97.6" y="260.8" width="1.5" height="1.5"/><rect x="61.7" y="266.3" width="1.5" height="1.5"/><rect x="117.0" y="262.3" width="1.5" height="1.5"/><rect x="97.2" y="269.4" width="1.5" height="1.5"/><rect x="87.1" y="255.4" width="1.5" height="1.5"/><rect x="113.4" y="271.6" width="1.5" height="1.5"/><rect x="94.8" y="271.9" width="1.5" height="1.5"/><rect x="104.3" y="272.0" width="1.5" height="1.5"/><rect x="168.6" y="237.7" width="1.5" height="1.5"/><rect x="88.7" y="274.9" width="1.5" height="1.5"/><rect x="126.9" y="239.8" width="1.5" height="1.5"/><rect x="124.2" y="266.0" width="1.5" height="1.5"/><rect x="90.7" y="256.5" width="1.5" height="1.5"/><rect x="100.0" y="268.1" width="1.5" height="1.5"/><rect x="78.4" y="272.3" width="1.5" height="1.5"/><rect x="101.6" y="241.3" width="1.5" height="1.5"/><rect x="95.5" y="275.0" width="1.5" height="1.5"/><rect x="81.9" y="261.1" width="1.5" height="1.5"/><rect x="105.4" y="274.3" width="1.5" height="1.5"/><rect x="102.9" y="274.5" width="1.5" height="1.5"/><rect x="101.1" y="277.5" width="1.5" height="1.5"/><rect x="90.8" y="270.1" width="1.5" height="1.5"/><rect x="88.4" y="267.8" width="1.5" height="1.5"/><rect x="87.2" y="245.5" width="1.5" height="1.5"/><rect x="107.0" y="274.8" width="1.5" height="1.5"/><rect x="99.0" y="251.5" width="1.5" height="1.5"/><rect x="91.9" y="274.9" width="1.5" height="1.5"/><rect x="96.7" y="272.5" width="1.5" height="1.5"/><rect x="123.5" y="269.9" width="1.5" height="1.5"/><rect x="104.4" y="275.9" width="1.5" height="1.5"/><rect x="84.4" y="270.8" width="1.5" height="1.5"/><rect x="98.6" y="237.1" width="1.5" height="1.5"/><rect x="105.7" y="275.3" width="1.5" height="1.5"/><rect x="98.1" y="275.7" width="1.5" height="1.5"/><rect x="79.3" y="265.5" width="1.5" height="1.5"/><rect x="110.2" y="267.1" width="1.5" height="1.5"/><rect x="113.2" y="248.0" width="1.5" height="1.5"/><rect x="92.7" y="276.6" width="1.5" height="1.5"/><rect x="92.2" y="275.0" width="1.5" height="1.5"/><rect x="92.3" y="276.3" width="1.5" height="1.5"/><rect x="128.1" y="227.7" width="1.5" height="1.5"/><rect x="109.4" y="255.8" width="1.5" height="1.5"/><rect x="134.8" y="264.7" width="1.5" height="1.5"/><rect x="130.5" y="232.4" width="1.5" height="1.5"/><rect x="94.0" y="271.4" width="1.5" height="1.5"/><rect x="87.6" y="268.9" width="1.5" height="1.5"/><rect x="110.6" y="270.6" width="1.5" height="1.5"/><rect x="121.1" y="259.8" width="1.5" height="1.5"/><rect x="86.9" y="230.8" width="1.5" height="1.5"/><rect x="114.2" y="263.8" width="1.5" height="1.5"/><rect x="103.0" y="271.9" width="1.5" height="1.5"/><rect x="72.3" y="271.0" width="1.5" height="1.5"/><rect x="80.0" y="270.6" width="1.5" height="1.5"/><rect x="96.2" y="276.4" width="1.5" height="1.5"/><rect x="102.1" y="276.3" width="1.5" height="1.5"/><rect x="90.8" y="270.1" width="1.5" height="1.5"/><rect x="86.1" y="251.2" width="1.5" height="1.5"/><rect x="84.8" y="272.0" width="1.5" height="1.5"/><rect x="80.5" y="266.3" width="1.5" height="1.5"/><rect x="139.0" y="244.7" width="1.5" height="1.5"/><rect x="108.6" y="275.1" width="1.5" height="1.5"/><rect x="100.7" y="257.2" width="1.5" height="1.5"/><rect x="93.0" y="221.5" width="1.5" height="1.5"/><rect x="110.2" y="272.8" width="1.5" height="1.5"/><rect x="96.7" y="270.3" width="1.5" height="1.5"/><rect x="107.0" y="276.0" width="1.5" height="1.5"/><rect x="96.0" y="255.4" width="1.5" height="1.5"/><rect x="123.2" y="272.1" width="1.5" height="1.5"/><rect x="79.3" y="267.3" width="1.5" height="1.5"/><rect x="108.7" y="267.1" width="1.5" height="1.5"/><rect x="104.7" y="223.1" width="1.5" height="1.5"/><rect x="79.1" y="272.9" width="1.5" height="1.5"/><rect x="81.3" y="269.6" width="1.5" height="1.5"/><rect x="88.9" y="268.3" width="1.5" height="1.5"/><rect x="109.8" y="267.7" width="1.5" height="1.5"/><rect x="78.1" y="261.0" width="1.5" height="1.5"/><rect x="108.9" y="275.5" width="1.5" height="1.5"/><rect x="114.1" y="274.4" width="1.5" height="1.5"/><rect x="98.5" y="275.5" width="1.5" height="1.5"/><rect x="137.3" y="266.0" width="1.5" height="1.5"/><rect x="63.0" y="261.7" width="1.5" height="1.5"/><rect x="89.7" y="263.8" width="1.5" height="1.5"/><rect x="121.3" y="272.0" width="1.5" height="1.5"/><rect x="111.2" y="266.6" width="1.5" height="1.5"/><rect x="66.8" y="268.5" width="1.5" height="1.5"/><rect x="118.7" y="262.4" width="1.5" height="1.5"/><rect x="107.4" y="273.9" width="1.5" height="1.5"/><rect x="77.3" y="255.4" width="1.5" height="1.5"/><rect x="97.4" y="264.4" width="1.5" height="1.5"/><rect x="93.9" y="269.9" width="1.5" height="1.5"/><rect x="86.1" y="272.5" width="1.5" height="1.5"/><rect x="99.6" y="275.1" width="1.5" height="1.5"/><rect x="99.6" y="252.0" width="1.5" height="1.5"/><rect x="90.5" y="268.3" width="1.5" height="1.5"/><rect x="88.9" y="268.2" width="1.5" height="1.5"/><rect x="107.8" y="275.8" width="1.5" height="1.5"/><rect x="127.6" y="254.0" width="1.5" height="1.5"/><rect x="143.9" y="239.6" width="1.5" height="1.5"/><rect x="82.6" y="258.2" width="1.5" height="1.5"/><rect x="104.1" y="273.0" width="1.5" height="1.5"/><rect x="105.2" y="274.5" width="1.5" height="1.5"/><rect x="132.5" y="244.6" width="1.5" height="1.5"/><rect x="112.0" y="274.0" width="1.5" height="1.5"/><rect x="103.1" y="275.1" width="1.5" height="1.5"/><rect x="106.5" y="250.6" width="1.5" height="1.5"/><rect x="96.9" y="276.9" width="1.5" height="1.5"/><rect x="136.5" y="228.0" width="1.5" height="1.5"/><rect x="105.9" y="270.0" width="1.5" height="1.5"/><rect x="128.7" y="252.7" width="1.5" height="1.5"/><rect x="113.1" y="269.3" width="1.5" height="1.5"/><rect x="91.9" y="271.4" width="1.5" height="1.5"/><rect x="96.2" y="276.7" width="1.5" height="1.5"/><rect x="99.0" y="264.1" width="1.5" height="1.5"/><rect x="88.0" y="247.0" width="1.5" height="1.5"/><rect x="122.5" y="246.7" width="1.5" height="1.5"/><rect x="108.8" y="267.0" width="1.5" height="1.5"/><rect x="76.0" y="243.6" width="1.5" height="1.5"/><rect x="107.9" y="270.5" width="1.5" height="1.5"/><rect x="121.2" y="268.4" width="1.5" height="1.5"/><rect x="83.6" y="265.0" width="1.5" height="1.5"/><rect x="93.8" y="272.5" width="1.5" height="1.5"/><rect x="96.0" y="260.9" width="1.5" height="1.5"/><rect x="74.3" y="254.5" width="1.5" height="1.5"/><rect x="102.9" y="263.0" width="1.5" height="1.5"/><rect x="156.8" y="242.1" width="1.5" height="1.5"/><rect x="108.1" y="261.5" width="1.5" height="1.5"/><rect x="126.7" y="266.0" width="1.5" height="1.5"/><rect x="134.3" y="224.0" width="1.5" height="1.5"/><rect x="92.3" y="275.1" width="1.5" height="1.5"/><rect x="110.4" y="273.5" width="1.5" height="1.5"/><rect x="86.5" y="272.2" width="1.5" height="1.5"/><rect x="109.5" y="265.5" width="1.5" height="1.5"/><rect x="95.4" y="275.0" width="1.5" height="1.5"/><rect x="104.9" y="274.9" width="1.5" height="1.5"/><rect x="101.5" y="273.6" width="1.5" height="1.5"/><rect x="76.5" y="232.1" width="1.5" height="1.5"/><rect x="106.1" y="275.6" width="1.5" height="1.5"/><rect x="100.3" y="268.0" width="1.5" height="1.5"/><rect x="99.1" y="243.7" width="1.5" height="1.5"/><rect x="103.8" y="275.7" width="1.5" height="1.5"/><rect x="114.0" y="265.5" width="1.5" height="1.5"/><rect x="86.5" y="274.7" width="1.5" height="1.5"/><rect x="109.1" y="257.1" width="1.5" height="1.5"/><rect x="97.5" y="271.5" width="1.5" height="1.5"/><rect x="96.8" y="252.4" width="1.5" height="1.5"/><rect x="90.6" y="245.0" width="1.5" height="1.5"/><rect x="73.9" y="269.6" width="1.5" height="1.5"/><rect x="130.3" y="266.7" width="1.5" height="1.5"/><rect x="93.2" y="273.4" width="1.5" height="1.5"/><rect x="69.4" y="257.8" width="1.5" height="1.5"/><rect x="107.9" y="247.8" width="1.5" height="1.5"/><rect x="105.3" y="269.2" width="1.5" height="1.5"/><rect x="91.4" y="266.9" width="1.5" height="1.5"/><rect x="80.6" y="272.1" width="1.5" height="1.5"/><rect x="94.7" y="232.4" width="1.5" height="1.5"/><rect x="93.7" y="270.0" width="1.5" height="1.5"/><rect x="71.0" y="265.0" width="1.5" height="1.5"/><rect x="86.4" y="270.4" width="1.5" height="1.5"/><rect x="120.2" y="255.9" width="1.5" height="1.5"/><rect x="92.6" y="243.2" width="1.5" height="1.5"/><rect x="99.0" y="274.8" width="1.5" height="1.5"/><rect x="89.2" y="274.7" width="1.5" height="1.5"/><rect x="112.9" y="264.2" width="1.5" height="1.5"/><rect x="108.3" y="274.0" width="1.5" height="1.5"/><rect x="77.8" y="262.6" width="1.5" height="1.5"/><rect x="122.9" y="253.1" width="1.5" height="1.5"/><rect x="95.3" y="274.9" width="1.5" height="1.5"/><rect x="94.6" y="274.4" width="1.5" height="1.5"/><rect x="102.7" y="276.5" width="1.5" height="1.5"/><rect x="102.1" y="225.6" width="1.5" height="1.5"/><rect x="83.6" y="272.8" width="1.5" height="1.5"/><rect x="79.1" y="257.7" width="1.5" height="1.5"/><rect x="81.1" y="267.1" width="1.5" height="1.5"/><rect x="90.2" y="244.5" width="1.5" height="1.5"/><rect x="149.1" y="262.6" width="1.5" height="1.5"/><rect x="97.4" y="234.0" width="1.5" height="1.5"/><rect x="85.3" y="225.2" width="1.5" height="1.5"/><rect x="94.2" y="274.6" width="1.5" height="1.5"/><rect x="114.0" y="271.7" width="1.5" height="1.5"/><rect x="95.6" y="252.1" width="1.5" height="1.5"/><rect x="112.3" y="270.7" width="1.5" height="1.5"/><rect x="81.0" y="266.3" width="1.5" height="1.5"/><rect x="87.7" y="274.7" width="1.5" height="1.5"/><rect x="95.4" y="272.8" width="1.5" height="1.5"/><rect x="98.5" y="274.3" width="1.5" height="1.5"/><rect x="120.4" y="267.6" width="1.5" height="1.5"/><rect x="89.0" y="271.0" width="1.5" height="1.5"/><rect x="83.2" y="271.4" width="1.5" height="1.5"/><rect x="92.7" y="276.4" width="1.5" height="1.5"/><rect x="128.6" y="234.9" width="1.5" height="1.5"/><rect x="75.4" y="229.9" width="1.5" height="1.5"/><rect x="105.0" y="248.9" width="1.5" height="1.5"/><rect x="93.2" y="264.1" width="1.5" height="1.5"/><rect x="117.3" y="252.0" width="1.5" height="1.5"/><rect x="113.9" y="255.6" width="1.5" height="1.5"/><rect x="121.0" y="257.9" width="1.5" height="1.5"/><rect x="87.8" y="233.0" width="1.5" height="1.5"/><rect x="107.6" y="274.2" width="1.5" height="1.5"/><rect x="82.5" y="262.2" width="1.5" height="1.5"/><rect x="85.1" y="268.6" width="1.5" height="1.5"/><rect x="116.2" y="254.9" width="1.5" height="1.5"/><rect x="100.9" y="276.8" width="1.5" height="1.5"/><rect x="121.3" y="260.7" width="1.5" height="1.5"/><rect x="92.0" y="273.7" width="1.5" height="1.5"/><rect x="125.3" y="235.9" width="1.5" height="1.5"/><rect x="95.1" y="256.3" width="1.5" height="1.5"/><rect x="84.5" y="274.3" width="1.5" height="1.5"/><rect x="99.6" y="274.3" width="1.5" height="1.5"/><rect x="93.3" y="265.9" width="1.5" height="1.5"/><rect x="93.4" y="272.1" width="1.5" height="1.5"/><rect x="117.9" y="269.3" width="1.5" height="1.5"/><rect x="63.2" y="241.9" width="1.5" height="1.5"/><rect x="99.8" y="226.8" width="1.5" height="1.5"/><rect x="111.6" y="271.3" width="1.5" height="1.5"/><rect x="97.4" y="270.6" width="1.5" height="1.5"/><rect x="88.7" y="243.0" width="1.5" height="1.5"/><rect x="100.4" y="242.2" width="1.5" height="1.5"/><rect x="92.6" y="276.0" width="1.5" height="1.5"/><rect x="94.7" y="273.8" width="1.5" height="1.5"/><rect x="87.4" y="253.0" width="1.5" height="1.5"/><rect x="75.2" y="258.1" width="1.5" height="1.5"/><rect x="105.3" y="247.3" width="1.5" height="1.5"/><rect x="96.7" y="275.3" width="1.5" height="1.5"/><rect x="107.0" y="269.1" width="1.5" height="1.5"/><rect x="100.3" y="267.8" width="1.5" height="1.5"/><rect x="99.0" y="254.3" width="1.5" height="1.5"/><rect x="84.4" y="271.8" width="1.5" height="1.5"/><rect x="93.1" y="258.0" width="1.5" height="1.5"/><rect x="89.8" y="255.4" width="1.5" height="1.5"/><rect x="102.4" y="277.1" width="1.5" height="1.5"/><rect x="101.3" y="262.8" width="1.5" height="1.5"/><rect x="122.1" y="252.5" width="1.5" height="1.5"/><rect x="86.1" y="273.6" width="1.5" height="1.5"/><rect x="95.2" y="272.2" width="1.5" height="1.5"/><rect x="135.9" y="261.9" width="1.5" height="1.5"/><rect x="115.1" y="271.8" width="1.5" height="1.5"/><rect x="80.1" y="267.8" width="1.5" height="1.5"/><rect x="111.8" y="251.5" width="1.5" height="1.5"/><rect x="103.6" y="269.1" width="1.5" height="1.5"/><rect x="86.8" y="272.6" width="1.5" height="1.5"/><rect x="129.3" y="265.0" width="1.5" height="1.5"/><rect x="108.0" y="268.2" width="1.5" height="1.5"/><rect x="100.9" y="270.1" width="1.5" height="1.5"/><rect x="109.0" y="275.8" width="1.5" height="1.5"/><rect x="113.4" y="269.5" width="1.5" height="1.5"/><rect x="96.5" y="249.7" width="1.5" height="1.5"/><rect x="96.6" y="262.9" width="1.5" height="1.5"/><rect x="123.6" y="265.8" width="1.5" height="1.5"/><rect x="88.3" y="260.7" width="1.5" height="1.5"/><rect x="111.7" y="267.7" width="1.5" height="1.5"/><rect x="98.4" y="277.7" width="1.5" height="1.5"/><rect x="121.3" y="257.8" width="1.5" height="1.5"/><rect x="98.4" y="254.0" width="1.5" height="1.5"/><rect x="75.1" y="271.3" width="1.5" height="1.5"/><rect x="97.7" y="265.1" width="1.5" height="1.5"/><rect x="123.5" y="254.8" width="1.5" height="1.5"/><rect x="105.3" y="257.3" width="1.5" height="1.5"/><rect x="89.5" y="270.7" width="1.5" height="1.5"/><rect x="156.6" y="255.2" width="1.5" height="1.5"/><rect x="99.8" y="272.8" width="1.5" height="1.5"/><rect x="101.0" y="251.8" width="1.5" height="1.5"/><rect x="108.6" y="268.5" width="1.5" height="1.5"/><rect x="92.2" y="273.1" width="1.5" height="1.5"/><rect x="105.9" y="264.3" width="1.5" height="1.5"/><rect x="94.5" y="276.8" width="1.5" height="1.5"/><rect x="111.7" y="264.3" width="1.5" height="1.5"/><rect x="95.7" y="255.6" width="1.5" height="1.5"/><rect x="122.4" y="256.9" width="1.5" height="1.5"/><rect x="83.2" y="268.5" width="1.5" height="1.5"/><rect x="83.0" y="270.1" width="1.5" height="1.5"/><rect x="132.7" y="266.4" width="1.5" height="1.5"/><rect x="73.6" y="247.2" width="1.5" height="1.5"/><rect x="122.9" y="250.3" width="1.5" height="1.5"/><rect x="61.7" y="257.8" width="1.5" height="1.5"/><rect x="94.4" y="262.9" width="1.5" height="1.5"/><rect x="111.4" y="268.0" width="1.5" height="1.5"/><rect x="82.0" y="270.3" width="1.5" height="1.5"/><rect x="96.0" y="243.2" width="1.5" height="1.5"/><rect x="96.1" y="274.3" width="1.5" height="1.5"/><rect x="128.3" y="267.8" width="1.5" height="1.5"/><rect x="120.6" y="270.7" width="1.5" height="1.5"/><rect x="116.3" y="242.3" width="1.5" height="1.5"/><rect x="118.5" y="236.6" width="1.5" height="1.5"/><rect x="121.5" y="253.5" width="1.5" height="1.5"/><rect x="76.5" y="269.4" width="1.5" height="1.5"/><rect x="107.2" y="274.0" width="1.5" height="1.5"/><rect x="83.4" y="261.4" width="1.5" height="1.5"/><rect x="92.8" y="268.8" width="1.5" height="1.5"/><rect x="98.9" y="276.3" width="1.5" height="1.5"/><rect x="112.1" y="272.9" width="1.5" height="1.5"/><rect x="111.4" y="274.2" width="1.5" height="1.5"/><rect x="89.0" y="272.1" width="1.5" height="1.5"/><rect x="103.1" y="267.9" width="1.5" height="1.5"/><rect x="92.2" y="270.1" width="1.5" height="1.5"/><rect x="87.3" y="263.6" width="1.5" height="1.5"/><rect x="77.9" y="262.4" width="1.5" height="1.5"/><rect x="84.9" y="261.2" width="1.5" height="1.5"/><rect x="96.4" y="277.1" width="1.5" height="1.5"/><rect x="102.5" y="256.7" width="1.5" height="1.5"/><rect x="78.7" y="268.0" width="1.5" height="1.5"/><rect x="103.9" y="271.2" width="1.5" height="1.5"/><rect x="97.9" y="276.1" width="1.5" height="1.5"/><rect x="91.5" y="253.5" width="1.5" height="1.5"/><rect x="96.5" y="270.6" width="1.5" height="1.5"/><rect x="109.5" y="271.6" width="1.5" height="1.5"/><rect x="92.6" y="275.1" width="1.5" height="1.5"/><rect x="84.0" y="264.5" width="1.5" height="1.5"/><rect x="101.8" y="266.9" width="1.5" height="1.5"/><rect x="98.0" y="277.2" width="1.5" height="1.5"/><rect x="109.6" y="266.8" width="1.5" height="1.5"/><rect x="91.8" y="275.9" width="1.5" height="1.5"/><rect x="97.1" y="266.5" width="1.5" height="1.5"/><rect x="98.0" y="271.0" width="1.5" height="1.5"/><rect x="106.8" y="275.4" width="1.5" height="1.5"/><rect x="100.3" y="267.2" width="1.5" height="1.5"/><rect x="102.9" y="270.2" width="1.5" height="1.5"/><rect x="99.3" y="261.2" width="1.5" height="1.5"/><rect x="72.9" y="252.6" width="1.5" height="1.5"/><rect x="114.5" y="236.9" width="1.5" height="1.5"/><rect x="113.0" y="271.6" width="1.5" height="1.5"/><rect x="99.7" y="277.0" width="1.5" height="1.5"/><rect x="94.4" y="275.6" width="1.5" height="1.5"/><rect x="135.4" y="261.5" width="1.5" height="1.5"/><rect x="107.9" y="263.0" width="1.5" height="1.5"/><rect x="129.4" y="261.1" width="1.5" height="1.5"/><rect x="82.7" y="232.4" width="1.5" height="1.5"/><rect x="96.3" y="270.8" width="1.5" height="1.5"/><rect x="93.8" y="273.5" width="1.5" height="1.5"/><rect x="101.4" y="269.6" width="1.5" height="1.5"/><rect x="87.6" y="272.1" width="1.5" height="1.5"/><rect x="84.6" y="262.7" width="1.5" height="1.5"/><rect x="104.3" y="276.1" width="1.5" height="1.5"/><rect x="107.9" y="271.8" width="1.5" height="1.5"/><rect x="129.7" y="269.7" width="1.5" height="1.5"/><rect x="95.7" y="276.3" width="1.5" height="1.5"/><rect x="87.0" y="272.0" width="1.5" height="1.5"/><rect x="112.2" y="271.3" width="1.5" height="1.5"/><rect x="109.1" y="272.4" width="1.5" height="1.5"/><rect x="98.2" y="273.4" width="1.5" height="1.5"/><rect x="158.1" y="256.4" width="1.5" height="1.5"/><rect x="104.9" y="274.6" width="1.5" height="1.5"/><rect x="101.5" y="277.7" width="1.5" height="1.5"/><rect x="87.8" y="273.6" width="1.5" height="1.5"/><rect x="125.6" y="267.7" width="1.5" height="1.5"/><rect x="86.2" y="271.1" width="1.5" height="1.5"/><rect x="112.2" y="267.4" width="1.5" height="1.5"/><rect x="100.6" y="274.6" width="1.5" height="1.5"/><rect x="107.2" y="257.2" width="1.5" height="1.5"/><rect x="94.3" y="267.0" width="1.5" height="1.5"/><rect x="105.7" y="250.0" width="1.5" height="1.5"/><rect x="95.5" y="274.0" width="1.5" height="1.5"/><rect x="77.8" y="260.8" width="1.5" height="1.5"/><rect x="101.2" y="271.3" width="1.5" height="1.5"/><rect x="99.0" y="278.1" width="1.5" height="1.5"/><rect x="90.7" y="274.1" width="1.5" height="1.5"/><rect x="92.5" y="263.0" width="1.5" height="1.5"/><rect x="115.4" y="267.6" width="1.5" height="1.5"/><rect x="101.3" y="255.4" width="1.5" height="1.5"/><rect x="102.2" y="271.3" width="1.5" height="1.5"/><rect x="88.6" y="275.5" width="1.5" height="1.5"/><rect x="121.0" y="261.3" width="1.5" height="1.5"/><rect x="85.9" y="273.4" width="1.5" height="1.5"/><rect x="117.6" y="270.9" width="1.5" height="1.5"/><rect x="100.8" y="275.4" width="1.5" height="1.5"/><rect x="97.8" y="232.2" width="1.5" height="1.5"/><rect x="84.7" y="265.0" width="1.5" height="1.5"/><rect x="100.7" y="277.4" width="1.5" height="1.5"/><rect x="148.4" y="245.2" width="1.5" height="1.5"/><rect x="106.5" y="273.4" width="1.5" height="1.5"/><rect x="86.8" y="265.4" width="1.5" height="1.5"/><rect x="109.4" y="271.6" width="1.5" height="1.5"/><rect x="83.8" y="274.0" width="1.5" height="1.5"/><rect x="115.3" y="264.6" width="1.5" height="1.5"/><rect x="120.0" y="224.3" width="1.5" height="1.5"/><rect x="87.3" y="269.0" width="1.5" height="1.5"/><rect x="87.6" y="268.4" width="1.5" height="1.5"/><rect x="95.5" y="262.0" width="1.5" height="1.5"/><rect x="104.2" y="264.0" width="1.5" height="1.5"/><rect x="116.1" y="270.6" width="1.5" height="1.5"/><rect x="101.9" y="227.4" width="1.5" height="1.5"/><rect x="101.5" y="275.9" width="1.5" height="1.5"/><rect x="107.9" y="256.7" width="1.5" height="1.5"/><rect x="112.3" y="229.5" width="1.5" height="1.5"/><rect x="102.7" y="270.5" width="1.5" height="1.5"/><rect x="77.9" y="257.8" width="1.5" height="1.5"/><rect x="90.6" y="268.9" width="1.5" height="1.5"/><rect x="83.7" y="249.9" width="1.5" height="1.5"/><rect x="121.4" y="271.1" width="1.5" height="1.5"/><rect x="120.1" y="263.9" width="1.5" height="1.5"/><rect x="94.6" y="276.0" width="1.5" height="1.5"/><rect x="116.9" y="273.7" width="1.5" height="1.5"/><rect x="121.6" y="259.4" width="1.5" height="1.5"/><rect x="117.0" y="259.7" width="1.5" height="1.5"/><rect x="88.8" y="273.9" width="1.5" height="1.5"/><rect x="87.6" y="273.8" width="1.5" height="1.5"/><rect x="109.1" y="272.6" width="1.5" height="1.5"/><rect x="84.9" y="260.0" width="1.5" height="1.5"/><rect x="86.6" y="267.8" width="1.5" height="1.5"/><rect x="84.0" y="271.2" width="1.5" height="1.5"/><rect x="92.8" y="274.4" width="1.5" height="1.5"/><rect x="113.2" y="261.4" width="1.5" height="1.5"/><rect x="78.5" y="259.3" width="1.5" height="1.5"/><rect x="116.3" y="248.2" width="1.5" height="1.5"/><rect x="112.3" y="258.8" width="1.5" height="1.5"/><rect x="99.4" y="275.6" width="1.5" height="1.5"/><rect x="50.3" y="258.2" width="1.5" height="1.5"/><rect x="103.7" y="277.0" width="1.5" height="1.5"/><rect x="80.5" y="253.1" width="1.5" height="1.5"/><rect x="88.2" y="248.4" width="1.5" height="1.5"/><rect x="91.5" y="270.9" width="1.5" height="1.5"/><rect x="103.8" y="260.2" width="1.5" height="1.5"/><rect x="96.3" y="276.0" width="1.5" height="1.5"/><rect x="99.0" y="260.7" width="1.5" height="1.5"/><rect x="78.5" y="263.9" width="1.5" height="1.5"/><rect x="91.9" y="276.3" width="1.5" height="1.5"/><rect x="73.2" y="259.9" width="1.5" height="1.5"/><rect x="102.3" y="276.4" width="1.5" height="1.5"/><rect x="90.9" y="270.2" width="1.5" height="1.5"/><rect x="98.0" y="259.5" width="1.5" height="1.5"/><rect x="84.2" y="267.5" width="1.5" height="1.5"/><rect x="99.7" y="268.3" width="1.5" height="1.5"/><rect x="103.8" y="273.4" width="1.5" height="1.5"/><rect x="99.7" y="275.1" width="1.5" height="1.5"/><rect x="88.9" y="274.7" width="1.5" height="1.5"/><rect x="118.6" y="271.8" width="1.5" height="1.5"/><rect x="105.7" y="276.3" width="1.5" height="1.5"/><rect x="108.7" y="265.9" width="1.5" height="1.5"/><rect x="81.6" y="265.2" width="1.5" height="1.5"/><rect x="132.7" y="262.1" width="1.5" height="1.5"/><rect x="83.3" y="269.6" width="1.5" height="1.5"/><rect x="89.1" y="265.2" width="1.5" height="1.5"/><rect x="100.2" y="276.7" width="1.5" height="1.5"/><rect x="105.5" y="274.5" width="1.5" height="1.5"/><rect x="98.7" y="227.3" width="1.5" height="1.5"/><rect x="89.1" y="251.3" width="1.5" height="1.5"/><rect x="128.3" y="229.7" width="1.5" height="1.5"/><rect x="84.7" y="271.1" width="1.5" height="1.5"/><rect x="71.4" y="270.1" width="1.5" height="1.5"/><rect x="112.0" y="270.1" width="1.5" height="1.5"/><rect x="109.2" y="269.4" width="1.5" height="1.5"/><rect x="88.8" y="274.4" width="1.5" height="1.5"/><rect x="88.4" y="275.5" width="1.5" height="1.5"/><rect x="92.7" y="273.0" width="1.5" height="1.5"/><rect x="125.9" y="269.6" width="1.5" height="1.5"/><rect x="131.1" y="269.6" width="1.5" height="1.5"/><rect x="99.3" y="277.0" width="1.5" height="1.5"/><rect x="79.5" y="262.7" width="1.5" height="1.5"/><rect x="93.7" y="275.0" width="1.5" height="1.5"/><rect x="99.2" y="261.3" width="1.5" height="1.5"/><rect x="74.2" y="270.7" width="1.5" height="1.5"/><rect x="124.0" y="228.5" width="1.5" height="1.5"/><rect x="83.2" y="270.6" width="1.5" height="1.5"/><rect x="113.1" y="263.6" width="1.5" height="1.5"/><rect x="104.0" y="254.7" width="1.5" height="1.5"/><rect x="115.3" y="268.1" width="1.5" height="1.5"/><rect x="85.1" y="230.9" width="1.5" height="1.5"/><rect x="87.8" y="271.1" width="1.5" height="1.5"/><rect x="96.0" y="274.1" width="1.5" height="1.5"/><rect x="97.8" y="230.4" width="1.5" height="1.5"/><rect x="99.4" y="270.3" width="1.5" height="1.5"/><rect x="110.0" y="272.2" width="1.5" height="1.5"/><rect x="106.3" y="275.4" width="1.5" height="1.5"/><rect x="112.7" y="273.8" width="1.5" height="1.5"/><rect x="101.9" y="269.7" width="1.5" height="1.5"/><rect x="75.4" y="268.2" width="1.5" height="1.5"/><rect x="119.1" y="249.2" width="1.5" height="1.5"/><rect x="113.3" y="271.9" width="1.5" height="1.5"/><rect x="106.4" y="266.3" width="1.5" height="1.5"/><rect x="65.5" y="242.2" width="1.5" height="1.5"/><rect x="95.2" y="274.1" width="1.5" height="1.5"/><rect x="107.1" y="275.5" width="1.5" height="1.5"/><rect x="111.5" y="263.2" width="1.5" height="1.5"/><rect x="100.8" y="272.0" width="1.5" height="1.5"/><rect x="115.2" y="261.7" width="1.5" height="1.5"/><rect x="102.4" y="264.0" width="1.5" height="1.5"/><rect x="116.7" y="267.9" width="1.5" height="1.5"/><rect x="93.1" y="275.9" width="1.5" height="1.5"/><rect x="96.7" y="234.5" width="1.5" height="1.5"/><rect x="100.7" y="276.5" width="1.5" height="1.5"/><rect x="106.6" y="274.7" width="1.5" height="1.5"/><rect x="101.6" y="268.7" width="1.5" height="1.5"/><rect x="86.7" y="262.9" width="1.5" height="1.5"/><rect x="105.3" y="272.3" width="1.5" height="1.5"/><rect x="98.9" y="274.1" width="1.5" height="1.5"/><rect x="106.1" y="273.4" width="1.5" height="1.5"/><rect x="101.2" y="273.4" width="1.5" height="1.5"/><rect x="110.2" y="261.6" width="1.5" height="1.5"/><rect x="86.4" y="267.8" width="1.5" height="1.5"/><rect x="89.0" y="274.1" width="1.5" height="1.5"/><rect x="91.8" y="233.7" width="1.5" height="1.5"/><rect x="91.6" y="262.4" width="1.5" height="1.5"/><rect x="89.2" y="253.7" width="1.5" height="1.5"/><rect x="97.4" y="277.5" width="1.5" height="1.5"/><rect x="132.2" y="268.9" width="1.5" height="1.5"/><rect x="135.6" y="268.9" width="1.5" height="1.5"/><rect x="139.8" y="268.1" width="1.5" height="1.5"/><rect x="145.1" y="267.6" width="1.5" height="1.5"/><rect x="149.2" y="267.2" width="1.5" height="1.5"/><rect x="152.8" y="266.9" width="1.5" height="1.5"/><rect x="156.2" y="266.9" width="1.5" height="1.5"/><rect x="159.8" y="266.8" width="1.5" height="1.5"/><rect x="165.8" y="266.4" width="1.5" height="1.5"/><rect x="168.8" y="266.2" width="1.5" height="1.5"/><rect x="118.5" y="270.2" width="1.5" height="1.5"/><rect x="121.2" y="269.8" width="1.5" height="1.5"/><rect x="124.2" y="269.2" width="1.5" height="1.5"/></g><line x1="99.2" y1="145.5" x2="99.2" y2="286.0" stroke="#666" stroke-width="0.7" stroke-dasharray="1,1.6"/><line x1="21.9" y1="221.4" x2="177.0" y2="221.4" stroke="#666" stroke-width="0.7" stroke-dasharray="1,1.6"/><circle cx="116.7" cy="159.2" r="0.95" fill="#e8313f"/><circle cx="117" cy="169.4" r="0.95" fill="#e8313f"/><circle cx="113" cy="187" r="0.95" fill="#e8313f"/><circle cx="118.2" cy="186.2" r="0.95" fill="#e8313f"/><circle cx="114.3" cy="192.3" r="0.95" fill="#e8313f"/><circle cx="104" cy="199.6" r="0.95" fill="#e8313f"/><circle cx="119.8" cy="200.4" r="0.95" fill="#e8313f"/><circle cx="120" cy="202" r="0.95" fill="#e8313f"/><circle cx="113" cy="202.9" r="0.95" fill="#e8313f"/><circle cx="115.9" cy="204.8" r="0.95" fill="#e8313f"/><circle cx="120.3" cy="205.3" r="0.95" fill="#e8313f"/><circle cx="160.4" cy="193.4" r="0.95" fill="#e8313f"/><circle cx="155.8" cy="200.9" r="0.95" fill="#e8313f"/><circle cx="176.7" cy="200.9" r="0.95" fill="#e8313f"/><circle cx="176.7" cy="204.2" r="0.95" fill="#e8313f"/><circle cx="176.7" cy="216" r="0.95" fill="#e8313f"/><circle cx="109.7" cy="209.1" r="0.95" fill="#e8313f"/><circle cx="111.3" cy="209.1" r="0.95" fill="#e8313f"/><circle cx="108.9" cy="210.2" r="0.95" fill="#e8313f"/><circle cx="110.5" cy="209.9" r="0.95" fill="#e8313f"/><circle cx="112.2" cy="209.7" r="0.95" fill="#e8313f"/><circle cx="117" cy="210.7" r="0.95" fill="#e8313f"/><circle cx="111.3" cy="212.2" r="0.95" fill="#e8313f"/><circle cx="123.6" cy="212" r="0.95" fill="#e8313f"/><circle cx="106.9" cy="214" r="0.95" fill="#e8313f"/><circle cx="108.9" cy="215.6" r="0.95" fill="#e8313f"/><circle cx="113.3" cy="214.8" r="0.95" fill="#e8313f"/><circle cx="117.5" cy="214.8" r="0.95" fill="#e8313f"/><circle cx="104.5" cy="219.5" r="0.95" fill="#e8313f"/><circle cx="105.6" cy="219.5" r="0.95" fill="#e8313f"/><circle cx="106.8" cy="219.5" r="0.95" fill="#e8313f"/><circle cx="110.5" cy="219.5" r="0.95" fill="#e8313f"/><circle cx="114.9" cy="221.2" r="0.95" fill="#e8313f"/><circle cx="101.5" cy="220.5" r="0.95" fill="#e8313f"/><circle cx="103" cy="217" r="0.95" fill="#e8313f"/><circle cx="22" cy="151.2" r="0.95" fill="#1f6fba"/><circle cx="92.9" cy="154.7" r="0.95" fill="#1f6fba"/><circle cx="90" cy="158.2" r="0.95" fill="#1f6fba"/><circle cx="92" cy="177.3" r="0.95" fill="#1f6fba"/><circle cx="81.7" cy="186" r="0.95" fill="#1f6fba"/><circle cx="38" cy="203.3" r="0.95" fill="#1f6fba"/><circle cx="70.1" cy="198.8" r="0.95" fill="#1f6fba"/><circle cx="82" cy="200.4" r="0.95" fill="#1f6fba"/><circle cx="74.9" cy="204.5" r="0.95" fill="#1f6fba"/><circle cx="85.3" cy="202.9" r="0.95" fill="#1f6fba"/><circle cx="87.3" cy="204.5" r="0.95" fill="#1f6fba"/><circle cx="89.4" cy="202.9" r="0.95" fill="#1f6fba"/><circle cx="93" cy="199.9" r="0.95" fill="#1f6fba"/><circle cx="90.2" cy="207.4" r="0.95" fill="#1f6fba"/><circle cx="91.8" cy="211.8" r="0.95" fill="#1f6fba"/><circle cx="65.9" cy="214.3" r="0.95" fill="#1f6fba"/><circle cx="59.2" cy="218" r="0.95" fill="#1f6fba"/><circle cx="81.7" cy="216.7" r="0.95" fill="#1f6fba"/><circle cx="83.7" cy="218.9" r="0.95" fill="#1f6fba"/><circle cx="67" cy="220.8" r="0.95" fill="#1f6fba"/><circle cx="87.8" cy="220.8" r="0.95" fill="#1f6fba"/><circle cx="91.8" cy="221.1" r="0.95" fill="#1f6fba"/><circle cx="94.3" cy="221.6" r="0.95" fill="#1f6fba"/><circle cx="22" cy="210.2" r="0.95" fill="#1f6fba"/><circle cx="70.4" cy="198.4" r="0.95" fill="#1f6fba"/><text x="181.7" y="205.0" font-size="5.4" text-anchor="start" font-weight="bold" font-family="Liberation Sans" fill="#111" >Significant</text><circle cx="184.7" cy="212.9" r="1.3" fill="#e8313f"/><text x="190.2" y="214.75" font-size="5.15" text-anchor="start" font-weight="normal" font-family="Liberation Sans" fill="#333" >Sig_Up (36)</text><circle cx="184.7" cy="219.35" r="1.3" fill="#9a9a9a"/><text x="190.2" y="221.2" font-size="5.15" text-anchor="start" font-weight="normal" font-family="Liberation Sans" fill="#333" >NoDiff (1835)</text><circle cx="184.7" cy="225.8" r="1.3" fill="#1f6fba"/><text x="190.2" y="227.65" font-size="5.15" text-anchor="start" font-weight="normal" font-family="Liberation Sans" fill="#333" >Sig_Down (27)</text><line x1="56" y1="248.7" x2="59.5" y2="252.5" stroke="#222" stroke-width="0.6" /><rect x="26.5" y="241.7" width="45.0" height="7.0" rx="0.9" fill="#fcfcfc" stroke="#5a5a5a" stroke-width="0.6"/><text x="49.0" y="247.25" font-size="5.3" text-anchor="middle" font-weight="normal" font-family="Liberation Sans" fill="#1a1a1a" >mmu-miR-155-3p</text><line x1="62" y1="248.7" x2="59.5" y2="252.5" stroke="#333" stroke-width="0.55" /><line x1="99" y1="258.6" x2="104.5" y2="268.5" stroke="#222" stroke-width="0.6" /><rect x="80.6" y="253.1" width="36.7" height="5.5" rx="0.9" fill="#fcfcfc" stroke="#5a5a5a" stroke-width="0.6"/><text x="98.94999999999999" y="257.15000000000003" font-size="5.3" text-anchor="middle" font-weight="normal" font-family="Liberation Sans" fill="#1a1a1a" >mmu-let-7b-3p</text><line x1="96.7" y1="272.5" x2="102" y2="276.5" stroke="#222" stroke-width="0.6" /><rect x="58.8" y="267.8" width="37.9" height="5.8" rx="0.9" fill="#fcfcfc" stroke="#5a5a5a" stroke-width="0.6"/><text x="77.75" y="272.15000000000003" font-size="5.3" text-anchor="middle" font-weight="normal" font-family="Liberation Sans" fill="#1a1a1a" >mmu-miR-9-3p</text><line x1="126.3" y1="264.5" x2="103" y2="277.5" stroke="#222" stroke-width="0.6" /><rect x="126.3" y="260.9" width="37.1" height="5.8" rx="0.9" fill="#ececec" stroke="#c8c8c8" stroke-width="0.6"/><text x="144.85" y="265.25" font-size="5.3" text-anchor="middle" font-weight="normal" font-family="Liberation Sans" fill="#1a1a1a" >mmu-miR-592</text><line x1="109.7" y1="278" x2="104" y2="277.5" stroke="#222" stroke-width="0.6" /><rect x="109.7" y="275.6" width="36.9" height="5.6" rx="0.9" fill="#ececec" stroke="#c8c8c8" stroke-width="0.6"/><text x="128.15" y="279.75" font-size="5.3" text-anchor="middle" font-weight="normal" font-family="Liberation Sans" fill="#1a1a1a" >mmu-miR-206</text><text x="213.0" y="128.0" font-size="10.8" text-anchor="start" font-weight="normal" font-family="Liberation Serif" fill="#111" >D</text><rect x="242.00" y="126.00" width="16.07" height="3.10" fill="#6aacd4" /><rect x="242.00" y="129.10" width="16.07" height="3.30" fill="#e03028" /><rect x="242.00" y="132.40" width="16.07" height="3.10" fill="#fdc080" /><rect x="242.00" y="135.50" width="16.07" height="3.20" fill="#fdf4c0" /><rect x="242.00" y="138.70" width="16.07" height="3.20" fill="#fdb070" /><rect x="242.00" y="141.90" width="16.07" height="3.20" fill="#fdd898" /><rect x="242.00" y="145.10" width="16.07" height="6.80" fill="#fdb878" /><rect x="242.00" y="151.90" width="16.07" height="9.10" fill="#fdf0c0" /><rect x="242.00" y="161.00" width="16.07" height="7.50" fill="#fdc080" /><rect x="242.00" y="168.50" width="16.07" height="3.50" fill="#fca868" /><rect x="242.00" y="172.00" width="16.07" height="5.00" fill="#fdd898" /><rect x="242.00" y="177.00" width="16.07" height="4.40" fill="#f5f8d8" /><rect x="242.00" y="181.40" width="16.07" height="3.90" fill="#fee090" /><rect x="242.00" y="185.30" width="16.07" height="3.20" fill="#7fbfe0" /><rect x="242.00" y="188.50" width="16.07" height="11.20" fill="#eef4dc" /><rect x="242.00" y="199.70" width="16.07" height="4.90" fill="#fde8a8" /><rect x="242.00" y="204.60" width="16.07" height="7.40" fill="#f5f8d8" /><rect x="242.00" y="212.00" width="16.07" height="3.10" fill="#f57a48" /><rect x="242.00" y="215.10" width="16.07" height="3.00" fill="#fdc080" /><rect x="242.00" y="218.10" width="16.07" height="3.50" fill="#fdd898" /><rect x="242.00" y="221.60" width="16.07" height="3.50" fill="#fdc080" /><rect x="242.00" y="225.10" width="16.07" height="3.20" fill="#f89050" /><rect x="242.00" y="228.30" width="16.07" height="3.50" fill="#fdc080" /><rect x="242.00" y="231.80" width="16.07" height="3.10" fill="#fde8a0" /><rect x="242.00" y="234.90" width="16.07" height="7.40" fill="#a8d4e8" /><rect x="242.00" y="242.30" width="16.07" height="2.60" fill="#80bcdc" /><rect x="242.00" y="244.90" width="16.07" height="3.00" fill="#2c78b8" /><rect x="242.00" y="247.90" width="16.07" height="4.10" fill="#a0d0e6" /><rect x="242.00" y="252.00" width="16.07" height="8.70" fill="#4a94c8" /><rect x="242.00" y="260.70" width="16.07" height="6.10" fill="#8cc4e0" /><rect x="242.00" y="266.80" width="16.07" height="7.90" fill="#5aa0cc" /><rect x="242.00" y="274.70" width="16.07" height="3.00" fill="#7cb8dc" /><rect x="242.00" y="277.70" width="16.07" height="10.50" fill="#6aacd4" /><rect x="242.00" y="288.20" width="16.07" height="3.10" fill="#3a88c0" /><rect x="242.00" y="291.30" width="16.07" height="3.50" fill="#7cb8dc" /><rect x="242.00" y="294.80" width="16.07" height="2.90" fill="#d8ecf0" /><rect x="258.07" y="126.00" width="16.07" height="3.10" fill="#fde0a0" /><rect x="258.07" y="129.10" width="16.07" height="9.60" fill="#fdf4c4" /><rect x="258.07" y="138.70" width="16.07" height="3.20" fill="#f06040" /><rect x="258.07" y="141.90" width="16.07" height="10.00" fill="#f88050" /><rect x="258.07" y="151.90" width="16.07" height="7.00" fill="#fde8a8" /><rect x="258.07" y="158.90" width="16.07" height="3.00" fill="#fdb878" /><rect x="258.07" y="161.90" width="16.07" height="3.10" fill="#fdf0c0" /><rect x="258.07" y="165.00" width="16.07" height="4.30" fill="#fdc080" /><rect x="258.07" y="169.30" width="16.07" height="7.70" fill="#fdd898" /><rect x="258.07" y="177.00" width="16.07" height="1.30" fill="#fdd08a" /><rect x="258.07" y="178.30" width="16.07" height="7.00" fill="#f5f5d0" /><rect x="258.07" y="185.30" width="16.07" height="3.50" fill="#f57a48" /><rect x="258.07" y="188.80" width="16.07" height="3.00" fill="#fca060" /><rect x="258.07" y="191.80" width="16.07" height="4.00" fill="#e84030" /><rect x="258.07" y="195.80" width="16.07" height="3.00" fill="#f06040" /><rect x="258.07" y="198.80" width="16.07" height="3.20" fill="#e03028" /><rect x="258.07" y="202.00" width="16.07" height="6.10" fill="#d82828" /><rect x="258.07" y="208.10" width="16.07" height="10.00" fill="#fca060" /><rect x="258.07" y="218.10" width="16.07" height="6.60" fill="#f57040" /><rect x="258.07" y="224.70" width="16.07" height="3.60" fill="#fdb070" /><rect x="258.07" y="228.30" width="16.07" height="3.50" fill="#f05030" /><rect x="258.07" y="231.80" width="16.07" height="3.10" fill="#d8eef0" /><rect x="258.07" y="234.90" width="16.07" height="3.40" fill="#3080bc" /><rect x="258.07" y="238.30" width="16.07" height="4.00" fill="#a8d4e8" /><rect x="258.07" y="242.30" width="16.07" height="2.60" fill="#5aa0cc" /><rect x="258.07" y="244.90" width="16.07" height="3.00" fill="#3a88c0" /><rect x="258.07" y="247.90" width="16.07" height="3.50" fill="#2050a0" /><rect x="258.07" y="251.40" width="16.07" height="15.40" fill="#4a94c8" /><rect x="258.07" y="266.80" width="16.07" height="4.00" fill="#fdeeb0" /><rect x="258.07" y="270.80" width="16.07" height="3.50" fill="#e4f0ec" /><rect x="258.07" y="274.30" width="16.07" height="3.40" fill="#d0e8f0" /><rect x="258.07" y="277.70" width="16.07" height="10.50" fill="#90c8e0" /><rect x="258.07" y="288.20" width="16.07" height="3.10" fill="#80bcdc" /><rect x="258.07" y="291.30" width="16.07" height="3.50" fill="#c8e4f0" /><rect x="258.07" y="294.80" width="16.07" height="2.90" fill="#90c8e0" /><rect x="274.14" y="126.00" width="16.07" height="3.10" fill="#c8e4f0" /><rect x="274.14" y="129.10" width="16.07" height="3.30" fill="#fdd090" /><rect x="274.14" y="132.40" width="16.07" height="6.30" fill="#f88850" /><rect x="274.14" y="138.70" width="16.07" height="13.20" fill="#d8ecf0" /><rect x="274.14" y="151.90" width="16.07" height="7.00" fill="#fdc888" /><rect x="274.14" y="158.90" width="16.07" height="6.50" fill="#fdd898" /><rect x="274.14" y="165.40" width="16.07" height="3.10" fill="#f88048" /><rect x="274.14" y="168.50" width="16.07" height="5.40" fill="#fdb070" /><rect x="274.14" y="173.90" width="16.07" height="5.30" fill="#f36c44" /><rect x="274.14" y="179.20" width="16.07" height="6.10" fill="#e03028" /><rect x="274.14" y="185.30" width="16.07" height="6.50" fill="#f89050" /><rect x="274.14" y="191.80" width="16.07" height="4.00" fill="#fdc07a" /><rect x="274.14" y="195.80" width="16.07" height="3.00" fill="#fdc880" /><rect x="274.14" y="198.80" width="16.07" height="9.70" fill="#fdf4c8" /><rect x="274.14" y="208.50" width="16.07" height="3.10" fill="#f87848" /><rect x="274.14" y="211.60" width="16.07" height="3.50" fill="#fdf8d0" /><rect x="274.14" y="215.10" width="16.07" height="3.00" fill="#fdb070" /><rect x="274.14" y="218.10" width="16.07" height="13.70" fill="#fdc888" /><rect x="274.14" y="231.80" width="16.07" height="3.10" fill="#a8d4e8" /><rect x="274.14" y="234.90" width="16.07" height="3.40" fill="#f04830" /><rect x="274.14" y="238.30" width="16.07" height="3.10" fill="#fdd090" /><rect x="274.14" y="241.40" width="16.07" height="3.50" fill="#fdf4c4" /><rect x="274.14" y="244.90" width="16.07" height="7.10" fill="#d8ecf0" /><rect x="274.14" y="252.00" width="16.07" height="8.70" fill="#5aa0cc" /><rect x="274.14" y="260.70" width="16.07" height="5.30" fill="#90c8e0" /><rect x="274.14" y="266.00" width="16.07" height="11.70" fill="#6aacd4" /><rect x="274.14" y="277.70" width="16.07" height="7.00" fill="#a8d4e8" /><rect x="274.14" y="284.70" width="16.07" height="3.50" fill="#c8e4f0" /><rect x="274.14" y="288.20" width="16.07" height="6.60" fill="#eaf3e2" /><rect x="274.14" y="294.80" width="16.07" height="2.90" fill="#d8ecf0" /><rect x="290.21" y="126.00" width="16.07" height="3.20" fill="#80bcdc" /><rect x="290.21" y="129.20" width="16.07" height="3.10" fill="#5aa0cc" /><rect x="290.21" y="132.30" width="16.07" height="3.20" fill="#f0f4dc" /><rect x="290.21" y="135.50" width="16.07" height="3.20" fill="#fde8a0" /><rect x="290.21" y="138.70" width="16.07" height="3.20" fill="#f5f5d0" /><rect x="290.21" y="141.90" width="16.07" height="3.20" fill="#fde8a0" /><rect x="290.21" y="145.10" width="16.07" height="7.70" fill="#f5f5d0" /><rect x="290.21" y="152.80" width="16.07" height="2.20" fill="#fde090" /><rect x="290.21" y="155.00" width="16.07" height="4.00" fill="#f5f5d0" /><rect x="290.21" y="159.00" width="16.07" height="2.70" fill="#fdc080" /><rect x="290.21" y="161.70" width="16.07" height="3.50" fill="#f5f5d0" /><rect x="290.21" y="165.20" width="16.07" height="6.30" fill="#2c78b8" /><rect x="290.21" y="171.50" width="16.07" height="5.50" fill="#90c8e0" /><rect x="290.21" y="177.00" width="16.07" height="1.80" fill="#7ab8dc" /><rect x="290.21" y="178.80" width="16.07" height="6.20" fill="#3a88c0" /><rect x="290.21" y="185.00" width="16.07" height="3.60" fill="#f0f4dc" /><rect x="290.21" y="188.60" width="16.07" height="9.80" fill="#cfe8f0" /><rect x="290.21" y="198.40" width="16.07" height="3.10" fill="#3a88c0" /><rect x="290.21" y="201.50" width="16.07" height="7.20" fill="#9ccce4" /><rect x="290.21" y="208.70" width="16.07" height="3.10" fill="#2c78b8" /><rect x="290.21" y="211.80" width="16.07" height="3.10" fill="#b8dcec" /><rect x="290.21" y="214.90" width="16.07" height="9.80" fill="#5aa0cc" /><rect x="290.21" y="224.70" width="16.07" height="7.20" fill="#a8d4e8" /><rect x="290.21" y="231.90" width="16.07" height="3.10" fill="#5aa0cc" /><rect x="290.21" y="235.00" width="16.07" height="3.60" fill="#f5f5d0" /><rect x="290.21" y="238.60" width="16.07" height="6.20" fill="#d8ecf0" /><rect x="290.21" y="244.80" width="16.07" height="4.90" fill="#f57040" /><rect x="290.21" y="249.70" width="16.07" height="2.30" fill="#fca060" /><rect x="290.21" y="252.00" width="16.07" height="2.70" fill="#fca868" /><rect x="290.21" y="254.70" width="16.07" height="6.70" fill="#fdd090" /><rect x="290.21" y="261.40" width="16.07" height="6.20" fill="#e03028" /><rect x="290.21" y="267.60" width="16.07" height="3.10" fill="#f05030" /><rect x="290.21" y="270.70" width="16.07" height="3.60" fill="#e03828" /><rect x="290.21" y="274.30" width="16.07" height="3.50" fill="#f05030" /><rect x="290.21" y="277.80" width="16.07" height="19.90" fill="#fca060" /><rect x="306.28" y="126.00" width="16.07" height="3.20" fill="#80bcdc" /><rect x="306.28" y="129.20" width="16.07" height="3.10" fill="#5aa0cc" /><rect x="306.28" y="132.30" width="16.07" height="6.40" fill="#d8ecf0" /><rect x="306.28" y="138.70" width="16.07" height="3.20" fill="#3080bc" /><rect x="306.28" y="141.90" width="16.07" height="10.00" fill="#a8d4e8" /><rect x="306.28" y="151.90" width="16.07" height="3.10" fill="#fde8a0" /><rect x="306.28" y="155.00" width="16.07" height="3.60" fill="#fdd090" /><rect x="306.28" y="158.60" width="16.07" height="6.60" fill="#d8ecf0" /><rect x="306.28" y="165.20" width="16.07" height="6.30" fill="#eef4d8" /><rect x="306.28" y="171.50" width="16.07" height="7.30" fill="#fde090" /><rect x="306.28" y="178.80" width="16.07" height="3.10" fill="#f8f8d0" /><rect x="306.28" y="181.90" width="16.07" height="3.10" fill="#fdd888" /><rect x="306.28" y="185.00" width="16.07" height="3.60" fill="#a8d4e8" /><rect x="306.28" y="188.60" width="16.07" height="9.80" fill="#cde6f0" /><rect x="306.28" y="198.40" width="16.07" height="3.60" fill="#eef4e0" /><rect x="306.28" y="202.00" width="16.07" height="3.10" fill="#5a9cc8" /><rect x="306.28" y="205.10" width="16.07" height="3.60" fill="#80bcdc" /><rect x="306.28" y="208.70" width="16.07" height="3.10" fill="#a8d4e8" /><rect x="306.28" y="211.80" width="16.07" height="3.10" fill="#2870b0" /><rect x="306.28" y="214.90" width="16.07" height="9.80" fill="#5aa0cc" /><rect x="306.28" y="224.70" width="16.07" height="7.20" fill="#3a80bc" /><rect x="306.28" y="231.90" width="16.07" height="3.10" fill="#e03028" /><rect x="306.28" y="235.00" width="16.07" height="3.60" fill="#fdb878" /><rect x="306.28" y="238.60" width="16.07" height="6.20" fill="#d82828" /><rect x="306.28" y="244.80" width="16.07" height="3.60" fill="#fdd090" /><rect x="306.28" y="248.40" width="16.07" height="3.60" fill="#f89050" /><rect x="306.28" y="252.00" width="16.07" height="8.90" fill="#f05a38" /><rect x="306.28" y="260.90" width="16.07" height="7.10" fill="#fca060" /><rect x="306.28" y="268.00" width="16.07" height="9.80" fill="#fdb070" /><rect x="306.28" y="277.80" width="16.07" height="13.30" fill="#e03828" /><rect x="306.28" y="291.10" width="16.07" height="6.60" fill="#f05a38" /><rect x="322.35" y="126.00" width="16.07" height="3.20" fill="#e02828" /><rect x="322.35" y="129.20" width="16.07" height="3.10" fill="#5a9ccc" /><rect x="322.35" y="132.30" width="16.07" height="6.40" fill="#283890" /><rect x="322.35" y="138.70" width="16.07" height="3.20" fill="#3a78b8" /><rect x="322.35" y="141.90" width="16.07" height="23.30" fill="#283890" /><rect x="322.35" y="165.20" width="16.07" height="6.30" fill="#3a78b8" /><rect x="322.35" y="171.50" width="16.07" height="7.30" fill="#283890" /><rect x="322.35" y="178.80" width="16.07" height="6.20" fill="#3a70b0" /><rect x="322.35" y="185.00" width="16.07" height="13.40" fill="#28328e" /><rect x="322.35" y="198.40" width="16.07" height="3.60" fill="#3a80b8" /><rect x="322.35" y="202.00" width="16.07" height="6.70" fill="#7cb8dc" /><rect x="322.35" y="208.70" width="16.07" height="16.00" fill="#5aa0cc" /><rect x="322.35" y="224.70" width="16.07" height="7.20" fill="#2c5ca8" /><rect x="322.35" y="231.90" width="16.07" height="6.70" fill="#4a8cc4" /><rect x="322.35" y="238.60" width="16.07" height="3.10" fill="#2c60a8" /><rect x="322.35" y="241.70" width="16.07" height="3.10" fill="#90c8e0" /><rect x="322.35" y="244.80" width="16.07" height="3.60" fill="#fde8a0" /><rect x="322.35" y="248.40" width="16.07" height="6.70" fill="#f0f4d8" /><rect x="322.35" y="255.10" width="16.07" height="6.30" fill="#fdd090" /><rect x="322.35" y="261.40" width="16.07" height="6.20" fill="#a0d0e6" /><rect x="322.35" y="267.60" width="16.07" height="3.50" fill="#2c78b8" /><rect x="322.35" y="271.10" width="16.07" height="6.70" fill="#90c8e0" /><rect x="322.35" y="277.80" width="16.07" height="3.50" fill="#3a88c0" /><rect x="322.35" y="281.30" width="16.07" height="6.30" fill="#4a94c8" /><rect x="322.35" y="287.60" width="16.07" height="3.50" fill="#6aacd4" /><rect x="322.35" y="291.10" width="16.07" height="6.60" fill="#283890" /><g stroke="#ffffff" stroke-opacity="0.5" stroke-width="0.5"><line x1="242.0" y1="129.30" x2="338.42" y2="129.30"/><line x1="242.0" y1="132.60" x2="338.42" y2="132.60"/><line x1="242.0" y1="135.91" x2="338.42" y2="135.91"/><line x1="242.0" y1="139.21" x2="338.42" y2="139.21"/><line x1="242.0" y1="142.51" x2="338.42" y2="142.51"/><line x1="242.0" y1="145.81" x2="338.42" y2="145.81"/><line x1="242.0" y1="149.11" x2="338.42" y2="149.11"/><line x1="242.0" y1="152.42" x2="338.42" y2="152.42"/><line x1="242.0" y1="155.72" x2="338.42" y2="155.72"/><line x1="242.0" y1="159.02" x2="338.42" y2="159.02"/><line x1="242.0" y1="162.32" x2="338.42" y2="162.32"/><line x1="242.0" y1="165.62" x2="338.42" y2="165.62"/><line x1="242.0" y1="168.93" x2="338.42" y2="168.93"/><line x1="242.0" y1="172.23" x2="338.42" y2="172.23"/><line x1="242.0" y1="175.53" x2="338.42" y2="175.53"/><line x1="242.0" y1="178.83" x2="338.42" y2="178.83"/><line x1="242.0" y1="182.13" x2="338.42" y2="182.13"/><line x1="242.0" y1="185.43" x2="338.42" y2="185.43"/><line x1="242.0" y1="188.74" x2="338.42" y2="188.74"/><line x1="242.0" y1="192.04" x2="338.42" y2="192.04"/><line x1="242.0" y1="195.34" x2="338.42" y2="195.34"/><line x1="242.0" y1="198.64" x2="338.42" y2="198.64"/><line x1="242.0" y1="201.94" x2="338.42" y2="201.94"/><line x1="242.0" y1="205.25" x2="338.42" y2="205.25"/><line x1="242.0" y1="208.55" x2="338.42" y2="208.55"/><line x1="242.0" y1="211.85" x2="338.42" y2="211.85"/><line x1="242.0" y1="215.15" x2="338.42" y2="215.15"/><line x1="242.0" y1="218.45" x2="338.42" y2="218.45"/><line x1="242.0" y1="221.76" x2="338.42" y2="221.76"/><line x1="242.0" y1="225.06" x2="338.42" y2="225.06"/><line x1="242.0" y1="228.36" x2="338.42" y2="228.36"/><line x1="242.0" y1="231.66" x2="338.42" y2="231.66"/><line x1="242.0" y1="234.96" x2="338.42" y2="234.96"/><line x1="242.0" y1="238.27" x2="338.42" y2="238.27"/><line x1="242.0" y1="241.57" x2="338.42" y2="241.57"/><line x1="242.0" y1="244.87" x2="338.42" y2="244.87"/><line x1="242.0" y1="248.17" x2="338.42" y2="248.17"/><line x1="242.0" y1="251.47" x2="338.42" y2="251.47"/><line x1="242.0" y1="254.78" x2="338.42" y2="254.78"/><line x1="242.0" y1="258.08" x2="338.42" y2="258.08"/><line x1="242.0" y1="261.38" x2="338.42" y2="261.38"/><line x1="242.0" y1="264.68" x2="338.42" y2="264.68"/><line x1="242.0" y1="267.98" x2="338.42" y2="267.98"/><line x1="242.0" y1="271.28" x2="338.42" y2="271.28"/><line x1="242.0" y1="274.59" x2="338.42" y2="274.59"/><line x1="242.0" y1="277.89" x2="338.42" y2="277.89"/><line x1="242.0" y1="281.19" x2="338.42" y2="281.19"/><line x1="242.0" y1="284.49" x2="338.42" y2="284.49"/><line x1="242.0" y1="287.79" x2="338.42" y2="287.79"/><line x1="242.0" y1="291.10" x2="338.42" y2="291.10"/><line x1="242.0" y1="294.40" x2="338.42" y2="294.40"/><line x1="258.07" y1="122" x2="258.07" y2="297.7" stroke-opacity="0.6"/><line x1="274.14" y1="122" x2="274.14" y2="297.7" stroke-opacity="0.6"/><line x1="290.21" y1="122" x2="290.21" y2="297.7" stroke-opacity="0.6"/><line x1="306.28" y1="122" x2="306.28" y2="297.7" stroke-opacity="0.6"/><line x1="322.35" y1="122" x2="322.35" y2="297.7" stroke-opacity="0.6"/></g><rect x="242.00" y="122.0" width="15.67" height="2.6" fill="#1b4f9f" /><rect x="258.07" y="122.0" width="15.67" height="2.6" fill="#1b4f9f" /><rect x="274.14" y="122.0" width="15.67" height="2.6" fill="#1b4f9f" /><rect x="290.21" y="122.0" width="15.67" height="2.6" fill="#ef1d24" /><rect x="306.28" y="122.0" width="15.67" height="2.6" fill="#ef1d24" /><rect x="322.35" y="122.0" width="15.67" height="2.6" fill="#ef1d24" /><text x="339.8" y="124.6" font-size="2.9" text-anchor="start" font-weight="bold" font-family="Liberation Sans" fill="#333" >Group</text><g font-size="2.95" font-family="Liberation Sans" fill="#3a3a3a" stroke="#3a3a3a" stroke-width="0.12"><text x="340.2" y="128.35">mmu-miR-133-5p</text><text x="340.2" y="131.65">mmu-miR-3102-3p.2_L+1R-1</text><text x="340.2" y="134.95">mmu-miR-3057-5p</text><text x="340.2" y="138.26">mmu-miR-6944-5p_R-1</text><text x="340.2" y="141.56">oar-mir-10b-p3_1ss2AG</text><text x="340.2" y="144.86">mmu-miR-342-5p</text><text x="340.2" y="148.16">bta-mir-1248-p3_1ss7CT</text><text x="340.2" y="151.46">bta-mir-1248-p3_1ss7CT_2</text><text x="340.2" y="154.77">mmu-miR-125a-5p_R-2</text><text x="340.2" y="158.07">mmu-miR-505-5p_R-2</text><text x="340.2" y="161.37">mmu-miR-1983-3p_R-1</text><text x="340.2" y="164.67">mmu-miR-126-5p</text><text x="340.2" y="167.97">mmu-miR-3120-5p</text><text x="340.2" y="171.28">mmu-miR-375-3p</text><text x="340.2" y="174.58">mmu-miR-1a-3p</text><text x="340.2" y="177.88">mmu-miR-7a-5p</text><text x="340.2" y="181.18">mmu-miR-466c-5p</text><text x="340.2" y="184.48">rno-miR-3065-3p</text><text x="340.2" y="187.79">mmu-miR-592</text><text x="340.2" y="191.09">mmu-let-7b-3p</text><text x="340.2" y="194.39">mmu-miR-206</text><text x="340.2" y="197.69">mmu-miR-9-3p</text><text x="340.2" y="200.99">mmu-miR-7b-5p</text><text x="340.2" y="204.30">mmu-miR-148a-3p</text><text x="340.2" y="207.60">mmu-miR-212-5p</text><text x="340.2" y="210.90">mmu-miR-132-3p</text><text x="340.2" y="214.20">hsa-mir-7-3p</text><text x="340.2" y="217.50">mmu-miR-3068-5p</text><text x="340.2" y="220.80">mmu-miR-142a-5p</text><text x="340.2" y="224.11">mmu-miR-140-3p</text><text x="340.2" y="227.41">mmu-miR-133-5p</text><text x="340.2" y="230.71">mmu-miR-3102-3p.2_L+1R-1</text><text x="340.2" y="234.01">mmu-miR-3057-5p</text><text x="340.2" y="237.31">mmu-miR-6944-5p_R-1</text><text x="340.2" y="240.62">oar-mir-10b-p3_1ss2AG</text><text x="340.2" y="243.92">mmu-miR-342-5p</text><text x="340.2" y="247.22">bta-mir-1248-p3_1ss7CT</text><text x="340.2" y="250.52">bta-mir-1248-p3_1ss7CT_2</text><text x="340.2" y="253.82">mmu-miR-125a-5p_R-2</text><text x="340.2" y="257.13">mmu-miR-505-5p_R-2</text><text x="340.2" y="260.43">mmu-miR-1983-3p_R-1</text><text x="340.2" y="263.73">mmu-miR-126-5p</text><text x="340.2" y="267.03">mmu-miR-3120-5p</text><text x="340.2" y="270.33">mmu-miR-375-3p</text><text x="340.2" y="273.64">mmu-miR-1a-3p</text><text x="340.2" y="276.94">mmu-miR-7a-5p</text><text x="340.2" y="280.24">mmu-miR-466c-5p</text><text x="340.2" y="283.54">rno-miR-3065-3p</text><text x="340.2" y="286.84">mmu-miR-592</text><text x="340.2" y="290.15">mmu-let-7b-3p</text><text x="340.2" y="293.45">mmu-miR-206</text><text x="340.2" y="296.75">mmu-miR-9-3p</text></g><path d="M239.64,134.25L239.64,137.56M239.64,134.25L242.00,134.25M239.64,137.56L242.00,137.56M238.93,135.91L238.93,140.86M238.93,135.91L239.64,135.91M238.93,140.86L242.00,140.86M238.63,130.95L238.63,138.38M238.63,130.95L242.00,130.95M238.63,138.38L238.93,138.38M239.44,147.46L239.44,150.76M239.44,147.46L242.00,147.46M239.44,150.76L242.00,150.76M239.14,144.16L239.14,149.11M239.14,144.16L242.00,144.16M239.14,149.11L239.44,149.11M237.45,134.67L237.45,146.64M237.45,134.67L238.63,134.67M237.45,146.64L239.14,146.64M239.46,157.37L239.46,160.67M239.46,157.37L242.00,157.37M239.46,160.67L242.00,160.67M239.16,154.07L239.16,159.02M239.16,154.07L242.00,154.07M239.16,159.02L239.46,159.02M236.79,140.65L236.79,156.54M236.79,140.65L237.45,140.65M236.79,156.54L239.16,156.54M239.53,163.97L239.53,167.27M239.53,163.97L242.00,163.97M239.53,167.27L242.00,167.27M239.23,165.62L239.23,170.58M239.23,165.62L239.53,165.62M239.23,170.58L242.00,170.58M238.89,168.10L238.89,173.88M238.89,168.10L239.23,168.10M238.89,173.88L242.00,173.88M239.46,180.48L239.46,183.78M239.46,180.48L242.00,180.48M239.46,183.78L242.00,183.78M239.16,177.18L239.16,182.13M239.16,177.18L242.00,177.18M239.16,182.13L239.46,182.13M238.07,170.99L238.07,179.66M238.07,170.99L238.89,170.99M238.07,179.66L239.16,179.66M235.80,148.60L235.80,175.32M235.80,148.60L236.79,148.60M235.80,175.32L238.07,175.32M239.49,190.39L239.49,193.69M239.49,190.39L242.00,190.39M239.49,193.69L242.00,193.69M238.56,192.04L238.56,196.99M238.56,192.04L239.49,192.04M238.56,196.99L242.00,196.99M238.25,187.09L238.25,194.51M238.25,187.09L242.00,187.09M238.25,194.51L238.56,194.51M239.68,203.60L239.68,206.90M239.68,203.60L242.00,203.60M239.68,206.90L242.00,206.90M239.20,200.29L239.20,205.25M239.20,200.29L242.00,200.29M239.20,205.25L239.68,205.25M237.65,190.80L237.65,202.77M237.65,190.80L238.25,190.80M237.65,202.77L239.20,202.77M239.39,216.80L239.39,220.10M239.39,216.80L242.00,216.80M239.39,220.10L242.00,220.10M239.09,213.50L239.09,218.45M239.09,213.50L242.00,213.50M239.09,218.45L239.39,218.45M238.46,210.20L238.46,215.98M238.46,210.20L242.00,210.20M238.46,215.98L239.09,215.98M239.71,223.41L239.71,226.71M239.71,223.41L242.00,223.41M239.71,226.71L242.00,226.71M239.29,225.06L239.29,230.01M239.29,225.06L239.71,225.06M239.29,230.01L242.00,230.01M239.10,233.31L239.10,236.61M239.10,233.31L242.00,233.31M239.10,236.61L242.00,236.61M239.27,239.92L239.27,243.22M239.27,239.92L242.00,239.92M239.27,243.22L242.00,243.22M238.32,234.96L238.32,241.57M238.32,234.96L239.10,234.96M238.32,241.57L239.27,241.57M237.81,227.53L237.81,238.27M237.81,227.53L239.29,227.53M237.81,238.27L238.32,238.27M236.87,213.09L236.87,232.90M236.87,213.09L238.46,213.09M236.87,232.90L237.81,232.90M235.43,196.78L235.43,222.99M235.43,196.78L237.65,196.78M235.43,222.99L236.87,222.99M238.97,246.52L238.97,249.82M238.97,246.52L242.00,246.52M238.97,249.82L242.00,249.82M239.11,253.12L239.11,256.43M239.11,253.12L242.00,253.12M239.11,256.43L242.00,256.43M239.13,259.73L239.13,263.03M239.13,259.73L242.00,259.73M239.13,263.03L242.00,263.03M238.72,254.78L238.72,261.38M238.72,254.78L239.11,254.78M238.72,261.38L239.13,261.38M237.95,258.08L237.95,266.33M237.95,258.08L238.72,258.08M237.95,266.33L242.00,266.33M239.03,276.24L239.03,279.54M239.03,276.24L242.00,276.24M239.03,279.54L242.00,279.54M239.48,282.84L239.48,286.14M239.48,282.84L242.00,282.84M239.48,286.14L242.00,286.14M238.73,277.89L238.73,284.49M238.73,277.89L239.03,277.89M238.73,284.49L239.48,284.49M238.43,272.94L238.43,281.19M238.43,272.94L242.00,272.94M238.43,281.19L238.73,281.19M237.68,269.63L237.68,277.06M237.68,269.63L242.00,269.63M237.68,277.06L238.43,277.06M239.61,292.75L239.61,296.05M239.61,292.75L242.00,292.75M239.61,296.05L242.00,296.05M239.19,289.45L239.19,294.40M239.19,289.45L242.00,289.45M239.19,294.40L239.61,294.40M237.06,273.35L237.06,291.92M237.06,273.35L237.68,273.35M237.06,291.92L239.19,291.92M236.76,262.20L236.76,282.63M236.76,262.20L237.95,262.20M236.76,282.63L237.06,282.63M236.46,248.17L236.46,272.42M236.46,248.17L238.97,248.17M236.46,272.42L236.76,272.42M233.40,209.89L233.40,260.30M233.40,209.89L235.43,209.89M233.40,260.30L236.46,260.30M229.50,161.96L229.50,235.09M229.50,161.96L235.80,161.96M229.50,235.09L233.40,235.09M225.00,127.65L225.00,198.53M225.00,127.65L242.00,127.65M225.00,198.53L229.50,198.53" stroke="#555" stroke-width="0.4" fill="none"/><text x="384.0" y="123.4" font-size="2.9" text-anchor="start" font-weight="bold" font-family="Liberation Sans" fill="#333" >Group</text><rect x="384.5" y="125.3" width="3.6" height="3.5" fill="#ef1d24" /><rect x="384.5" y="129.6" width="3.6" height="3.6" fill="#1b4f9f" /><text x="389.0" y="128.2" font-size="2.7" text-anchor="start" font-weight="normal" font-family="Liberation Sans" fill="#333" >MA</text><text x="389.0" y="132.6" font-size="2.7" text-anchor="start" font-weight="normal" font-family="Liberation Sans" fill="#333" >SA</text><defs><linearGradient id="cb" x1="0" y1="0" x2="0" y2="1"><stop offset="0" stop-color="#a50026"/><stop offset="0.1" stop-color="#d73027"/><stop offset="0.2" stop-color="#f46d43"/><stop offset="0.3" stop-color="#fdae61"/><stop offset="0.4" stop-color="#fee090"/><stop offset="0.5" stop-color="#ffffbf"/><stop offset="0.6" stop-color="#e0f3f8"/><stop offset="0.7" stop-color="#abd9e9"/><stop offset="0.8" stop-color="#74add1"/><stop offset="0.9" stop-color="#4575b4"/><stop offset="1" stop-color="#313695"/></linearGradient></defs><rect x="384.2" y="138.5" width="3.4" height="44.2" fill="url(#cb)" /><line x1="387.6" y1="138.5" x2="388.3" y2="138.5" stroke="#555" stroke-width="0.3" /><text x="389.0" y="139.5" font-size="2.8" text-anchor="start" font-weight="normal" font-family="Liberation Sans" fill="#333" >2</text><line x1="387.6" y1="149.55" x2="388.3" y2="149.55" stroke="#555" stroke-width="0.3" /><text x="389.0" y="150.55" font-size="2.8" text-anchor="start" font-weight="normal" font-family="Liberation Sans" fill="#333" >1</text><line x1="387.6" y1="160.6" x2="388.3" y2="160.6" stroke="#555" stroke-width="0.3" /><text x="389.0" y="161.6" font-size="2.8" text-anchor="start" font-weight="normal" font-family="Liberation Sans" fill="#333" >0</text><line x1="387.6" y1="171.65" x2="388.3" y2="171.65" stroke="#555" stroke-width="0.3" /><text x="389.0" y="172.65" font-size="2.8" text-anchor="start" font-weight="normal" font-family="Liberation Sans" fill="#333" >-1</text><line x1="387.6" y1="182.7" x2="388.3" y2="182.7" stroke="#555" stroke-width="0.3" /><text x="389.0" y="183.7" font-size="2.8" text-anchor="start" font-weight="normal" font-family="Liberation Sans" fill="#333" >-2</text><text x="403.2" y="128.0" font-size="10.8" text-anchor="start" font-weight="normal" font-family="Liberation Serif" fill="#111" >E</text><line x1="428.7" y1="141.3" x2="428.7" y2="243.5" stroke="#111" stroke-width="1.2" /><line x1="425.4" y1="243.5" x2="428.7" y2="243.5" stroke="#111" stroke-width="1.1" /><text x="423.1" y="246.1" font-size="7.6" text-anchor="end" font-weight="bold" font-family="Liberation Serif" fill="#111" stroke="#111" stroke-width="0.32" >0</text><line x1="425.4" y1="216.8" x2="428.7" y2="216.8" stroke="#111" stroke-width="1.1" /><text x="423.1" y="219.4" font-size="7.6" text-anchor="end" font-weight="bold" font-family="Liberation Serif" fill="#111" stroke="#111" stroke-width="0.32" >1</text><line x1="425.4" y1="190.1" x2="428.7" y2="190.1" stroke="#111" stroke-width="1.1" /><text x="423.1" y="192.7" font-size="7.6" text-anchor="end" font-weight="bold" font-family="Liberation Serif" fill="#111" stroke="#111" stroke-width="0.32" >2</text><line x1="425.4" y1="163.4" x2="428.7" y2="163.4" stroke="#111" stroke-width="1.1" /><text x="423.1" y="166.0" font-size="7.6" text-anchor="end" font-weight="bold" font-family="Liberation Serif" fill="#111" stroke="#111" stroke-width="0.32" >3</text><line x1="428.7" y1="243.5" x2="546.5" y2="243.5" stroke="#111" stroke-width="1.2" /><line x1="439.5" y1="243.5" x2="439.5" y2="247.0" stroke="#111" stroke-width="1.1" /><line x1="463.2" y1="243.5" x2="463.2" y2="247.0" stroke="#111" stroke-width="1.1" /><line x1="487.0" y1="243.5" x2="487.0" y2="247.0" stroke="#111" stroke-width="1.1" /><line x1="510.7" y1="243.5" x2="510.7" y2="247.0" stroke="#111" stroke-width="1.1" /><line x1="534.8" y1="243.5" x2="534.8" y2="247.0" stroke="#111" stroke-width="1.1" /><text transform="translate(413.3,191.3) rotate(-90)" font-size="8.9" text-anchor="middle" font-weight="bold" font-family="Liberation Serif" fill="#111" stroke="#111" stroke-width="0.12">Relative Expression</text><rect x="432.0" y="216.8" width="6" height="26.69999999999999" fill="#7f8185" /><rect x="441.0" y="202.1" width="6.2" height="41.400000000000006" fill="#f99a2f" /><line x1="444.1" y1="191.0" x2="444.1" y2="202.1" stroke="#777" stroke-width="0.8" /><line x1="442.7" y1="191.0" x2="445.5" y2="191.0" stroke="#777" stroke-width="0.8" /><rect x="431.4" y="214.8" width="7.2" height="3.9" rx="1.9" fill="#111"/><rect x="455.7" y="216.8" width="6" height="26.69999999999999" fill="#7f8185" /><rect x="464.7" y="196.9" width="6.2" height="46.599999999999994" fill="#f99a2f" /><line x1="467.8" y1="175.4" x2="467.8" y2="196.9" stroke="#777" stroke-width="0.8" /><line x1="466.4" y1="175.4" x2="469.2" y2="175.4" stroke="#777" stroke-width="0.8" /><rect x="455.1" y="214.8" width="7.2" height="3.9" rx="1.9" fill="#111"/><rect x="479.5" y="216.8" width="6" height="26.69999999999999" fill="#7f8185" /><rect x="488.5" y="194.7" width="6.2" height="48.80000000000001" fill="#f99a2f" /><line x1="491.6" y1="183.0" x2="491.6" y2="194.7" stroke="#777" stroke-width="0.8" /><line x1="490.2" y1="183.0" x2="493.0" y2="183.0" stroke="#777" stroke-width="0.8" /><rect x="478.9" y="214.8" width="7.2" height="3.9" rx="1.9" fill="#111"/><rect x="503.2" y="216.8" width="6" height="26.69999999999999" fill="#7f8185" /><rect x="512.2" y="201.7" width="6.2" height="41.80000000000001" fill="#f99a2f" /><line x1="515.3" y1="180.0" x2="515.3" y2="201.7" stroke="#777" stroke-width="0.8" /><line x1="513.9" y1="180.0" x2="516.7" y2="180.0" stroke="#777" stroke-width="0.8" /><rect x="502.6" y="214.8" width="7.2" height="3.9" rx="1.9" fill="#111"/><rect x="527.3" y="216.8" width="6" height="26.69999999999999" fill="#7f8185" /><rect x="536.3" y="210.8" width="6.2" height="32.69999999999999" fill="#f99a2f" /><line x1="539.4" y1="200.3" x2="539.4" y2="210.8" stroke="#777" stroke-width="0.8" /><line x1="538.0" y1="200.3" x2="540.8" y2="200.3" stroke="#777" stroke-width="0.8" /><rect x="526.7" y="214.8" width="7.2" height="3.9" rx="1.9" fill="#111"/><circle cx="443.9" cy="186.6" r="1.5" fill="none" stroke="#111" stroke-width="1.05"/><circle cx="443.9" cy="194.7" r="1.5" fill="none" stroke="#111" stroke-width="1.05"/><circle cx="443.9" cy="200.1" r="1.5" fill="none" stroke="#111" stroke-width="1.05"/><circle cx="442.0" cy="205.3" r="1.5" fill="none" stroke="#111" stroke-width="1.05"/><circle cx="444.2" cy="207.2" r="1.5" fill="none" stroke="#111" stroke-width="1.05"/><circle cx="443.9" cy="219.0" r="1.5" fill="none" stroke="#111" stroke-width="1.05"/><circle cx="468.4" cy="175.4" r="1.5" fill="none" stroke="#111" stroke-width="1.05"/><circle cx="467.3" cy="177.3" r="1.5" fill="none" stroke="#111" stroke-width="1.05"/><circle cx="468.8" cy="198.7" r="1.5" fill="none" stroke="#111" stroke-width="1.05"/><circle cx="467.8" cy="200.6" r="1.5" fill="none" stroke="#111" stroke-width="1.05"/><circle cx="468.8" cy="212.1" r="1.5" fill="none" stroke="#111" stroke-width="1.05"/><circle cx="466.5" cy="214.2" r="1.5" fill="none" stroke="#111" stroke-width="1.05"/><circle cx="491.3" cy="174.5" r="1.5" fill="none" stroke="#111" stroke-width="1.05"/><circle cx="491.3" cy="191.5" r="1.5" fill="none" stroke="#111" stroke-width="1.05"/><circle cx="490.5" cy="193.0" r="1.5" fill="none" stroke="#111" stroke-width="1.05"/><circle cx="490.5" cy="200.4" r="1.5" fill="none" stroke="#111" stroke-width="1.05"/><circle cx="491.3" cy="203.6" r="1.5" fill="none" stroke="#111" stroke-width="1.05"/><circle cx="489.8" cy="205.1" r="1.5" fill="none" stroke="#111" stroke-width="1.05"/><circle cx="515.8" cy="180.0" r="1.5" fill="none" stroke="#111" stroke-width="1.05"/><circle cx="515.8" cy="188.9" r="1.5" fill="none" stroke="#111" stroke-width="1.05"/><circle cx="517.2" cy="202.2" r="1.5" fill="none" stroke="#111" stroke-width="1.05"/><circle cx="516.1" cy="205.8" r="1.5" fill="none" stroke="#111" stroke-width="1.05"/><circle cx="515.3" cy="230.8" r="1.5" fill="none" stroke="#111" stroke-width="1.05"/><circle cx="538.9" cy="200.3" r="1.5" fill="none" stroke="#111" stroke-width="1.05"/><circle cx="537.5" cy="204.4" r="1.5" fill="none" stroke="#111" stroke-width="1.05"/><circle cx="538.9" cy="205.8" r="1.5" fill="none" stroke="#111" stroke-width="1.05"/><circle cx="540.3" cy="213.3" r="1.5" fill="none" stroke="#111" stroke-width="1.05"/><circle cx="539.0" cy="217.0" r="1.5" fill="none" stroke="#111" stroke-width="1.05"/><circle cx="538.0" cy="219.2" r="1.5" fill="none" stroke="#111" stroke-width="1.05"/><line x1="436.1" y1="164.1" x2="443.7" y2="164.1" stroke="#111" stroke-width="1.35" /><circle cx="439.9" cy="158.4" r="1.3" fill="#111"/><line x1="462.6" y1="164.1" x2="470.4" y2="164.1" stroke="#111" stroke-width="1.35" /><circle cx="466.5" cy="158.4" r="1.3" fill="#111"/><line x1="485.3" y1="164.1" x2="493.2" y2="164.1" stroke="#111" stroke-width="1.35" /><circle cx="487.1" cy="158.4" r="1.3" fill="#111"/><circle cx="491.4" cy="158.4" r="1.3" fill="#111"/><line x1="509.9" y1="164.1" x2="518.1" y2="164.1" stroke="#111" stroke-width="1.35" /><circle cx="514.0" cy="158.4" r="1.3" fill="#111"/><line x1="533.7" y1="164.1" x2="541.9" y2="164.1" stroke="#111" stroke-width="1.35" /><text x="537.8" y="160.3" font-size="6.6" text-anchor="middle" font-weight="normal" font-family="Liberation Serif" fill="#111" stroke="#111" stroke-width="0.22" >ns</text><rect x="516.6" y="136.8" width="6.1" height="3.9" fill="#808080" /><rect x="516.6" y="144.1" width="6.1" height="4.1" fill="#fd8c10" /><text x="525.3" y="141.1" font-size="5.3" text-anchor="start" font-weight="normal" font-family="Liberation Serif" fill="#333" >Saline</text><text x="525.3" y="148.3" font-size="5.1" text-anchor="start" font-weight="normal" font-family="Liberation Serif" fill="#333" >METH</text><text transform="translate(441.5,256.6) rotate(-44)" font-size="7.9" text-anchor="end" font-weight="bold" font-family="Liberation Serif" fill="#111" stroke="#111" stroke-width="0.12">mmu-miR-206</text><text transform="translate(457.4,265.0) rotate(-44)" font-size="7.9" text-anchor="end" font-weight="bold" font-family="Liberation Serif" fill="#111" stroke="#111" stroke-width="0.12">mmu-miR-592</text><text transform="translate(488.3,257.6) rotate(-44)" font-size="7.9" text-anchor="end" font-weight="bold" font-family="Liberation Serif" fill="#111" stroke="#111" stroke-width="0.12">mmu-miR-9-3p</text><text transform="translate(512.4,256.8) rotate(-44)" font-size="7.9" text-anchor="end" font-weight="bold" font-family="Liberation Serif" fill="#111" stroke="#111" stroke-width="0.12">mmu-let-7b-3p</text><text transform="translate(537.6,256.4) rotate(-44)" font-size="7.9" text-anchor="end" font-weight="bold" font-family="Liberation Serif" fill="#111" stroke="#111" stroke-width="0.12">mmu-miR-155-3p</text></svg></body></html>
